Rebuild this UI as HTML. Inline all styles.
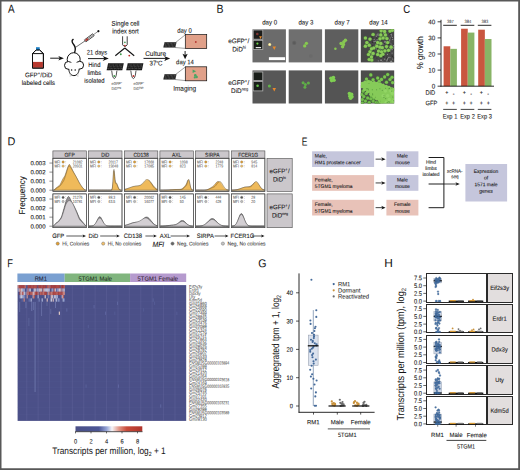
<!DOCTYPE html><html><head><meta charset="utf-8"><title>Figure</title><style>html,body{margin:0;padding:0;background:#fff;}body{width:520px;height:470px;overflow:hidden;font-family:"Liberation Sans", sans-serif;}</style></head><body><svg width="520" height="470" viewBox="0 0 520 470" font-family='"Liberation Sans", sans-serif' style="display:block" text-rendering="geometricPrecision"><rect width="520" height="470" fill="#fff"/><text transform="translate(7.98,12.8) rotate(0.04) scale(0.86,1)" font-size="11.5" text-anchor="start" fill="#111"  stroke="#111" stroke-width="0">A</text>
<path d="M32.5,68.1 V53.6 L36.2,49.9 H39.6 L43.4,53.6 V68.1 Z" fill="#fff" stroke="#111" stroke-width="1"/>
<rect x="33" y="61.9" width="9.9" height="5.8" fill="#b8392f" stroke="none" stroke-width="0.5" />
<rect x="36" y="47.2" width="3.7" height="2.9" fill="#1c7fc6" stroke="none" stroke-width="0.5" />
<path d="M32.5,68.1 V53.6 L36.2,49.9 H39.6 L43.4,53.6 V68.1 Z M32.5,53.6 H43.4" fill="none" stroke="#111" stroke-width="1"/>
<line x1="50.2" y1="58.2" x2="60.3" y2="58.2" stroke="#111" stroke-width="0.95" />
<path d="M63.9,58.2 L58.3,55.900000000000006 L59.8,58.2 L58.3,60.5 Z" fill="#111"/>
<text transform="translate(38.7,77.3) rotate(0.04) scale(0.93,1)" font-size="6.6" text-anchor="middle" fill="#151515"  stroke="#151515" stroke-width="0.09">GFP<tspan font-size="4.4" dy="-2.6">+</tspan><tspan dy="2.6" dx="0.3">/DiD</tspan></text>
<text transform="translate(38.4,84.9) rotate(0.04) scale(0.92,1)" font-size="6.6" text-anchor="middle" fill="#151515"  stroke="#151515" stroke-width="0.09">labeled cells</text>
<g stroke="#111" stroke-width="1" fill="#fff"><path d="M74.6,52.4 C75.8,49.4 75.4,47 74,45 C72.2,42.8 71.2,40.6 73.1,39.4" fill="none" stroke-width="1.4" stroke-linecap="round"/><ellipse cx="73.7" cy="59.4" rx="6.5" ry="6.7"/><circle cx="68.4" cy="65.4" r="3.9"/><circle cx="79.7" cy="65.2" r="3.9"/><path d="M70.6,62.6 L77.4,62.6 L79.6,66 L79,70.5 L77,75 L71.2,75 L69.2,70.5 L68.6,66 Z" stroke="none"/><path d="M68.8,68.9 C69,72.6 70.6,75.6 73.9,75.6 C77.2,75.6 78.9,72.6 79.2,68.7" fill="none"/></g>
<circle cx="71.6" cy="69.9" r="0.75" fill="#111"/><circle cx="75.2" cy="69.9" r="0.75" fill="#111"/>
<path d="M69.3,74.6 L71,75.8 M69.6,76.3 L71.2,76.1 M78.9,74.6 L77.2,75.8 M78.6,76.3 L77,76.1" stroke="#999" stroke-width="0.35" fill="none"/>
<line x1="75.8" y1="47.2" x2="85.2" y2="40.8" stroke="#111" stroke-width="0.6"/>
<g transform="translate(85.2,40.8) rotate(-36.3)"><rect x="0" y="-1.2" width="10.2" height="2.4" fill="#fff" stroke="#111" stroke-width="0.7"/><rect x="0.3" y="-0.85" width="3.2" height="1.7" fill="#b5372f"/><line x1="3.6" y1="0" x2="9.4" y2="0" stroke="#111" stroke-width="0.5"/><line x1="10.2" y1="0" x2="16" y2="0" stroke="#333" stroke-width="0.5"/><circle cx="16.4" cy="0" r="1.1" fill="#111"/></g>
<text transform="translate(97,54.5) rotate(0.04) scale(0.88,1)" font-size="6.6" text-anchor="middle" fill="#151515"  stroke="#151515" stroke-width="0.09">21 days</text>
<line x1="88" y1="58.6" x2="105.0" y2="58.6" stroke="#111" stroke-width="0.95" />
<path d="M108.8,58.6 L102.6,56.1 L104.5,58.6 L102.6,61.1 Z" fill="#111"/>
<text transform="translate(94.4,67.1) rotate(0.04) scale(0.9,1)" font-size="6.6" text-anchor="middle" fill="#151515"  stroke="#151515" stroke-width="0.09">Hind</text>
<text transform="translate(94.4,74.9) rotate(0.04) scale(0.9,1)" font-size="6.6" text-anchor="middle" fill="#151515"  stroke="#151515" stroke-width="0.09">limbs</text>
<text transform="translate(94.4,82.8) rotate(0.04) scale(0.9,1)" font-size="6.6" text-anchor="middle" fill="#151515"  stroke="#151515" stroke-width="0.09">isolated</text>
<text transform="translate(125.5,25.8) rotate(0.04) scale(0.9,1)" font-size="6.8" text-anchor="middle" fill="#151515"  stroke="#151515" stroke-width="0.09">Single cell</text>
<text transform="translate(125.5,33.6) rotate(0.04) scale(0.9,1)" font-size="6.8" text-anchor="middle" fill="#151515"  stroke="#151515" stroke-width="0.09">index sort</text>
<path d="M122.6,36.3 V44.8 Q124.9,48 127.2,44.8 V36.3" fill="#fff" stroke="#111" stroke-width="0.8"/>
<circle cx="124.9" cy="42.3" r="0.9" fill="#4aa05a"/><circle cx="124.9" cy="45.6" r="0.9" fill="#c0302a"/>
<line x1="124.8" y1="48" x2="115.3" y2="55.7" stroke="#111" stroke-width="1.1" />
<line x1="124.8" y1="48" x2="134.2" y2="55.7" stroke="#111" stroke-width="1.1" />
<circle cx="120.8" cy="54.2" r="0.95" fill="#3f9a4a"/><circle cx="129.3" cy="55.6" r="0.95" fill="#c0302a"/>
<path d="M108.1,63.3 H123.8 L122.3,70.3 H106.6 Z" fill="#151515"/>
<line x1="107.725" y1="65.05" x2="123.425" y2="65.05" stroke="#b5b5b5" stroke-width="0.45" stroke-dasharray="0.7,0.7"/>
<line x1="107.35" y1="66.8" x2="123.05" y2="66.8" stroke="#b5b5b5" stroke-width="0.45" stroke-dasharray="0.7,0.7"/>
<line x1="106.975" y1="68.55" x2="122.675" y2="68.55" stroke="#b5b5b5" stroke-width="0.45" stroke-dasharray="0.7,0.7"/>
<line x1="110.0625" y1="63.3" x2="108.5625" y2="70.3" stroke="#555" stroke-width="0.25"/>
<line x1="112.02499999999999" y1="63.3" x2="110.52499999999999" y2="70.3" stroke="#555" stroke-width="0.25"/>
<line x1="113.9875" y1="63.3" x2="112.4875" y2="70.3" stroke="#555" stroke-width="0.25"/>
<line x1="115.94999999999999" y1="63.3" x2="114.44999999999999" y2="70.3" stroke="#555" stroke-width="0.25"/>
<line x1="117.9125" y1="63.3" x2="116.4125" y2="70.3" stroke="#555" stroke-width="0.25"/>
<line x1="119.875" y1="63.3" x2="118.375" y2="70.3" stroke="#555" stroke-width="0.25"/>
<line x1="121.83749999999999" y1="63.3" x2="120.33749999999999" y2="70.3" stroke="#555" stroke-width="0.25"/>
<path d="M127.7,63.3 H143.4 L141.9,70.3 H126.2 Z" fill="#151515"/>
<line x1="127.325" y1="65.05" x2="143.025" y2="65.05" stroke="#b5b5b5" stroke-width="0.45" stroke-dasharray="0.7,0.7"/>
<line x1="126.95" y1="66.8" x2="142.65" y2="66.8" stroke="#b5b5b5" stroke-width="0.45" stroke-dasharray="0.7,0.7"/>
<line x1="126.575" y1="68.55" x2="142.275" y2="68.55" stroke="#b5b5b5" stroke-width="0.45" stroke-dasharray="0.7,0.7"/>
<line x1="129.6625" y1="63.3" x2="128.1625" y2="70.3" stroke="#555" stroke-width="0.25"/>
<line x1="131.625" y1="63.3" x2="130.125" y2="70.3" stroke="#555" stroke-width="0.25"/>
<line x1="133.5875" y1="63.3" x2="132.0875" y2="70.3" stroke="#555" stroke-width="0.25"/>
<line x1="135.55" y1="63.3" x2="134.05" y2="70.3" stroke="#555" stroke-width="0.25"/>
<line x1="137.5125" y1="63.3" x2="136.0125" y2="70.3" stroke="#555" stroke-width="0.25"/>
<line x1="139.475" y1="63.3" x2="137.975" y2="70.3" stroke="#555" stroke-width="0.25"/>
<line x1="141.4375" y1="63.3" x2="139.9375" y2="70.3" stroke="#555" stroke-width="0.25"/>
<path d="M111.7,70.6 L112.39999999999999,75.6 Q114.3,81.6 116.2,75.6 L116.89999999999999,70.6" fill="#fff" stroke="#333" stroke-width="0.85"/>
<circle cx="114.3" cy="76.0" r="0.95" fill="#3f9a4a"/>
<path d="M130.8,70.6 L131.5,75.6 Q133.4,81.6 135.3,75.6 L136.0,70.6" fill="#fff" stroke="#333" stroke-width="0.85"/>
<circle cx="133.4" cy="76.0" r="0.95" fill="#c0302a"/>
<text transform="translate(111.4,85) rotate(0.04) scale(0.85,1)" font-size="4.2" text-anchor="start" fill="#6a6a6a"  stroke="#6a6a6a" stroke-width="0.1">eGFP<tspan font-size="2.6" dy="-1.5">+</tspan></text>
<text transform="translate(111.4,90) rotate(0.04) scale(0.85,1)" font-size="4.2" text-anchor="start" fill="#6a6a6a"  stroke="#6a6a6a" stroke-width="0.1">DiD<tspan font-size="2.6" dy="-1.5">neg</tspan></text>
<text transform="translate(133.4,85) rotate(0.04) scale(0.85,1)" font-size="4.2" text-anchor="start" fill="#6a6a6a"  stroke="#6a6a6a" stroke-width="0.1">eGFP<tspan font-size="2.6" dy="-1.5">+</tspan></text>
<text transform="translate(133.4,90) rotate(0.04) scale(0.85,1)" font-size="4.2" text-anchor="start" fill="#6a6a6a"  stroke="#6a6a6a" stroke-width="0.1">DiD<tspan font-size="2.6" dy="-1.5">high</tspan></text>
<text transform="translate(155.6,55.9) rotate(0.04) scale(0.95,1)" font-size="6.8" text-anchor="middle" fill="#151515"  stroke="#151515" stroke-width="0.09">Culture</text>
<line x1="143.5" y1="58.4" x2="166.4" y2="58.4" stroke="#111" stroke-width="0.95" />
<path d="M170.2,58.4 L164.0,55.9 L165.9,58.4 L164.0,60.9 Z" fill="#111"/>
<text transform="translate(156,65.6) rotate(0.04) scale(0.9,1)" font-size="6.8" text-anchor="middle" fill="#151515"  stroke="#151515" stroke-width="0.09">37<tspan font-size="5" dy="-1.2">°</tspan><tspan dy="1.2">C</tspan></text>
<text transform="translate(184.5,32.8) rotate(0.04) scale(0.9,1)" font-size="6.6" text-anchor="middle" fill="#151515"  stroke="#151515" stroke-width="0.09">day 0</text>
<path d="M164.5,42.3 H176.5 L175.3,47.5 H163.3 Z" fill="#151515"/>
<line x1="164.20000000000002" y1="43.599999999999994" x2="176.20000000000002" y2="43.599999999999994" stroke="#b5b5b5" stroke-width="0.45" stroke-dasharray="0.7,0.7"/>
<line x1="163.9" y1="44.9" x2="175.9" y2="44.9" stroke="#b5b5b5" stroke-width="0.45" stroke-dasharray="0.7,0.7"/>
<line x1="163.60000000000002" y1="46.199999999999996" x2="175.60000000000002" y2="46.199999999999996" stroke="#b5b5b5" stroke-width="0.45" stroke-dasharray="0.7,0.7"/>
<line x1="166.0" y1="42.3" x2="164.8" y2="47.5" stroke="#555" stroke-width="0.25"/>
<line x1="167.5" y1="42.3" x2="166.3" y2="47.5" stroke="#555" stroke-width="0.25"/>
<line x1="169.0" y1="42.3" x2="167.8" y2="47.5" stroke="#555" stroke-width="0.25"/>
<line x1="170.5" y1="42.3" x2="169.3" y2="47.5" stroke="#555" stroke-width="0.25"/>
<line x1="172.0" y1="42.3" x2="170.8" y2="47.5" stroke="#555" stroke-width="0.25"/>
<line x1="173.5" y1="42.3" x2="172.3" y2="47.5" stroke="#555" stroke-width="0.25"/>
<line x1="175.0" y1="42.3" x2="173.8" y2="47.5" stroke="#555" stroke-width="0.25"/>
<path d="M164.5,74.3 H176.5 L175.3,79.5 H163.3 Z" fill="#151515"/>
<line x1="164.20000000000002" y1="75.6" x2="176.20000000000002" y2="75.6" stroke="#b5b5b5" stroke-width="0.45" stroke-dasharray="0.7,0.7"/>
<line x1="163.9" y1="76.89999999999999" x2="175.9" y2="76.89999999999999" stroke="#b5b5b5" stroke-width="0.45" stroke-dasharray="0.7,0.7"/>
<line x1="163.60000000000002" y1="78.2" x2="175.60000000000002" y2="78.2" stroke="#b5b5b5" stroke-width="0.45" stroke-dasharray="0.7,0.7"/>
<line x1="166.0" y1="74.3" x2="164.8" y2="79.5" stroke="#555" stroke-width="0.25"/>
<line x1="167.5" y1="74.3" x2="166.3" y2="79.5" stroke="#555" stroke-width="0.25"/>
<line x1="169.0" y1="74.3" x2="167.8" y2="79.5" stroke="#555" stroke-width="0.25"/>
<line x1="170.5" y1="74.3" x2="169.3" y2="79.5" stroke="#555" stroke-width="0.25"/>
<line x1="172.0" y1="74.3" x2="170.8" y2="79.5" stroke="#555" stroke-width="0.25"/>
<line x1="173.5" y1="74.3" x2="172.3" y2="79.5" stroke="#555" stroke-width="0.25"/>
<line x1="175.0" y1="74.3" x2="173.8" y2="79.5" stroke="#555" stroke-width="0.25"/>
<rect x="185.3" y="34.6" width="21.4" height="14" fill="#e0a089" stroke="#111" stroke-width="0.7" />
<rect x="185.3" y="66.8" width="21.4" height="14" fill="#e0a089" stroke="#111" stroke-width="0.7" />
<line x1="175.8" y1="42.3" x2="185.3" y2="34.8" stroke="#111" stroke-width="0.4" />
<line x1="175" y1="47.5" x2="185.3" y2="48.4" stroke="#111" stroke-width="0.4" />
<line x1="175.8" y1="74.3" x2="185.3" y2="67" stroke="#111" stroke-width="0.4" />
<line x1="175" y1="79.5" x2="185.3" y2="80.6" stroke="#111" stroke-width="0.4" />
<circle cx="195.8" cy="42" r="0.9" fill="#b5372f"/>
<path d="M185.1,51 V55.5" stroke="#111" stroke-width="0.9"/><path d="M185.1,59.2 L182.5,53.8 L185.1,55 L187.7,53.8 Z" fill="#111"/>
<text transform="translate(185,64.3) rotate(0.04) scale(0.9,1)" font-size="6.6" text-anchor="middle" fill="#151515"  stroke="#151515" stroke-width="0.09">day 14</text>
<g fill="#4aa564"><path d="M192.6,69.5 L196.2,71.2 L192.6,73 Z"/><circle cx="195.3" cy="75.2" r="1.3"/><circle cx="196.6" cy="77" r="1.3"/><circle cx="194.8" cy="77.4" r="1.1"/></g>
<text transform="translate(184.6,90.8) rotate(0.04) scale(0.93,1)" font-size="6.9" text-anchor="middle" fill="#151515"  stroke="#151515" stroke-width="0.09">Imaging</text>
<text transform="translate(216.48,12.7) rotate(0.04) scale(0.91,1)" font-size="11.5" text-anchor="start" fill="#111"  stroke="#111" stroke-width="0">B</text>
<text transform="translate(269.7,24.4) rotate(0.04) scale(0.93,1)" font-size="6.6" text-anchor="middle" fill="#151515"  stroke="#151515" stroke-width="0.09">day 0</text>
<text transform="translate(305.9,24.4) rotate(0.04) scale(0.93,1)" font-size="6.6" text-anchor="middle" fill="#151515"  stroke="#151515" stroke-width="0.09">day 3</text>
<text transform="translate(342.09999999999997,24.4) rotate(0.04) scale(0.93,1)" font-size="6.6" text-anchor="middle" fill="#151515"  stroke="#151515" stroke-width="0.09">day 7</text>
<text transform="translate(378.5,24.4) rotate(0.04) scale(0.93,1)" font-size="6.6" text-anchor="middle" fill="#151515"  stroke="#151515" stroke-width="0.09">day 14</text>
<text transform="translate(238.8,43.3) rotate(0.04) scale(0.95,1)" font-size="6.7" text-anchor="middle" fill="#151515"  stroke="#151515" stroke-width="0.09">eGFP<tspan font-size="4.4" dy="-2.6">+</tspan><tspan dy="2.6" dx="0.3">/</tspan></text>
<text transform="translate(239,51.4) rotate(0.04) scale(0.95,1)" font-size="6.7" text-anchor="middle" fill="#151515"  stroke="#151515" stroke-width="0.09">DiD<tspan font-size="4" dy="-2.6">hi</tspan></text>
<text transform="translate(238.8,85) rotate(0.04) scale(0.95,1)" font-size="6.7" text-anchor="middle" fill="#151515"  stroke="#151515" stroke-width="0.09">eGFP<tspan font-size="4.4" dy="-2.6">+</tspan><tspan dy="2.6" dx="0.3">/</tspan></text>
<text transform="translate(239.6,93) rotate(0.04) scale(0.95,1)" font-size="6.7" text-anchor="middle" fill="#151515"  stroke="#151515" stroke-width="0.09">DiD<tspan font-size="4" dy="-2.6">neg</tspan></text>
<rect x="252.5" y="29.3" width="33.4" height="33.1" fill="#6b6b6b" stroke="none" stroke-width="0.5" />
<rect x="288.7" y="29.3" width="33.4" height="33.1" fill="#6f6f6f" stroke="none" stroke-width="0.5" />
<rect x="324.9" y="29.3" width="33.4" height="33.1" fill="#5e5e5e" stroke="none" stroke-width="0.5" />
<rect x="360.8" y="29.3" width="33.4" height="33.1" fill="#484848" stroke="none" stroke-width="0.5" />
<rect x="252.5" y="70.4" width="33.4" height="33.1" fill="#575757" stroke="none" stroke-width="0.5" />
<rect x="288.7" y="70.4" width="33.4" height="33.1" fill="#585858" stroke="none" stroke-width="0.5" />
<rect x="324.9" y="70.4" width="33.4" height="33.1" fill="#545454" stroke="none" stroke-width="0.5" />
<rect x="360.8" y="70.4" width="33.4" height="33.1" fill="#4c4c4c" stroke="none" stroke-width="0.5" />
<defs><clipPath id="cb00"><rect x="252.5" y="29.3" width="33.4" height="33.1"/></clipPath><clipPath id="cb01"><rect x="288.7" y="29.3" width="33.4" height="33.1"/></clipPath><clipPath id="cb02"><rect x="324.9" y="29.3" width="33.4" height="33.1"/></clipPath><clipPath id="cb03"><rect x="360.8" y="29.3" width="33.4" height="33.1"/></clipPath><clipPath id="cb10"><rect x="252.5" y="70.4" width="33.4" height="33.1"/></clipPath><clipPath id="cb11"><rect x="288.7" y="70.4" width="33.4" height="33.1"/></clipPath><clipPath id="cb12"><rect x="324.9" y="70.4" width="33.4" height="33.1"/></clipPath><clipPath id="cb13"><rect x="360.8" y="70.4" width="33.4" height="33.1"/></clipPath></defs>
<rect x="253.2" y="30" width="9.6" height="9.2" fill="#1c1c1a" stroke="#b0b0b0" stroke-width="0.8" />
<rect x="253.2" y="40.3" width="9.6" height="9.2" fill="#1a1e1a" stroke="#b0b0b0" stroke-width="0.8" />
<circle cx="257.3" cy="34" r="1.3" fill="#7a3430"/>
<path d="M259.1,36.3 L262,36.3 L260.5,39 Z" fill="#e8892b"/>
<circle cx="257.4" cy="43.6" r="1.1" fill="#6fd04a"/>
<rect x="255.7" y="47.1" width="5.4" height="1.1" fill="#fff" stroke="none" stroke-width="0.5" />
<circle cx="269.7" cy="44.4" r="1.5" fill="#f1e08a"/><circle cx="269.7" cy="44.4" r="0.8" fill="#fff6c0"/>
<path d="M272.5,46.6 L276,46.6 L274.3,50 Z" fill="#e8892b"/>
<rect x="268.9" y="57.2" width="16.2" height="2.9" fill="#fff" stroke="none" stroke-width="0.5" />
<g fill="#86c94f" opacity="1"><circle cx="306.4" cy="43.3" r="1.65"/><circle cx="304.7" cy="45.9" r="1.65"/></g>
<circle cx="294.2" cy="42.9" r="2.1" fill="#636363"/><circle cx="294.2" cy="42.9" r="1.2" fill="#5b5b5b"/><circle cx="310.8" cy="56" r="1.8" fill="#6a6a6a"/>
<g fill="#88c752" opacity="1"><circle cx="345.4" cy="40.3" r="1.75"/><circle cx="341.1" cy="43.4" r="1.75"/><circle cx="343.4" cy="44.4" r="1.75"/><circle cx="343.8" cy="42.0" r="1.75"/><circle cx="342.6" cy="46.8" r="1.75"/></g>
<g fill="#88c752" opacity="1"><circle cx="335.4" cy="48.8" r="1.25"/></g>
<g clip-path="url(#cb03)">
<g fill="#8e8e8e"><circle cx="376.6" cy="48.8" r="0.6"/><circle cx="379.7" cy="50.5" r="0.6"/><circle cx="385.6" cy="34.9" r="0.6"/><circle cx="371.3" cy="57.3" r="0.6"/><circle cx="377.1" cy="39.8" r="0.6"/><circle cx="394.3" cy="46.6" r="0.6"/><circle cx="390.6" cy="46.8" r="0.6"/><circle cx="386.0" cy="37.4" r="0.6"/><circle cx="385.9" cy="58.2" r="0.6"/><circle cx="383.2" cy="54.5" r="0.6"/><circle cx="386.7" cy="34.9" r="0.6"/><circle cx="388.7" cy="50.1" r="0.6"/><circle cx="378.0" cy="33.9" r="0.6"/><circle cx="391.3" cy="46.7" r="0.6"/><circle cx="387.8" cy="58.5" r="0.6"/><circle cx="387.7" cy="59.7" r="0.6"/><circle cx="380.2" cy="56.2" r="0.6"/><circle cx="381.4" cy="60.1" r="0.6"/><circle cx="391.6" cy="35.8" r="0.6"/><circle cx="374.2" cy="39.3" r="0.6"/><circle cx="393.6" cy="45.6" r="0.6"/><circle cx="385.7" cy="41.7" r="0.6"/><circle cx="382.9" cy="44.2" r="0.6"/><circle cx="379.2" cy="50.0" r="0.6"/><circle cx="384.7" cy="59.2" r="0.6"/><circle cx="387.0" cy="59.9" r="0.6"/><circle cx="391.0" cy="61.7" r="0.6"/><circle cx="386.7" cy="37.7" r="0.6"/><circle cx="391.1" cy="61.0" r="0.6"/><circle cx="392.2" cy="49.5" r="0.6"/><circle cx="387.7" cy="39.1" r="0.6"/><circle cx="390.5" cy="49.6" r="0.6"/><circle cx="377.7" cy="34.8" r="0.6"/><circle cx="391.0" cy="61.7" r="0.6"/><circle cx="373.1" cy="56.2" r="0.6"/><circle cx="380.6" cy="37.4" r="0.6"/><circle cx="377.9" cy="55.3" r="0.6"/><circle cx="391.4" cy="34.3" r="0.6"/><circle cx="385.4" cy="34.3" r="0.6"/><circle cx="387.8" cy="42.6" r="0.6"/><circle cx="391.6" cy="61.4" r="0.6"/><circle cx="382.8" cy="62.0" r="0.6"/><circle cx="378.2" cy="35.2" r="0.6"/><circle cx="385.0" cy="33.9" r="0.6"/><circle cx="375.6" cy="44.8" r="0.6"/><circle cx="385.3" cy="37.5" r="0.6"/><circle cx="372.0" cy="58.2" r="0.6"/><circle cx="378.3" cy="60.8" r="0.6"/><circle cx="392.0" cy="44.0" r="0.6"/><circle cx="381.8" cy="48.1" r="0.6"/><circle cx="386.1" cy="50.3" r="0.6"/><circle cx="384.1" cy="51.0" r="0.6"/><circle cx="393.0" cy="47.7" r="0.6"/><circle cx="381.1" cy="53.9" r="0.6"/><circle cx="376.6" cy="41.7" r="0.6"/><circle cx="393.9" cy="48.1" r="0.6"/><circle cx="383.8" cy="33.3" r="0.6"/><circle cx="380.7" cy="49.8" r="0.6"/><circle cx="371.5" cy="50.9" r="0.6"/><circle cx="385.8" cy="34.7" r="0.6"/><circle cx="385.7" cy="46.5" r="0.6"/><circle cx="386.9" cy="43.2" r="0.6"/><circle cx="387.5" cy="54.4" r="0.6"/><circle cx="371.5" cy="34.8" r="0.6"/><circle cx="386.8" cy="60.9" r="0.6"/><circle cx="376.9" cy="46.2" r="0.6"/><circle cx="384.9" cy="42.3" r="0.6"/><circle cx="379.5" cy="42.1" r="0.6"/><circle cx="379.6" cy="50.3" r="0.6"/><circle cx="378.0" cy="43.9" r="0.6"/><circle cx="389.1" cy="33.8" r="0.6"/><circle cx="384.3" cy="54.3" r="0.6"/><circle cx="378.3" cy="39.5" r="0.6"/><circle cx="389.8" cy="39.9" r="0.6"/><circle cx="375.4" cy="45.6" r="0.6"/><circle cx="387.3" cy="36.0" r="0.6"/><circle cx="378.5" cy="42.7" r="0.6"/><circle cx="390.5" cy="45.7" r="0.6"/><circle cx="391.0" cy="37.9" r="0.6"/><circle cx="378.9" cy="51.9" r="0.6"/><circle cx="391.7" cy="46.1" r="0.6"/><circle cx="376.3" cy="36.5" r="0.6"/><circle cx="383.4" cy="38.5" r="0.6"/><circle cx="389.9" cy="57.3" r="0.6"/><circle cx="375.3" cy="41.1" r="0.6"/><circle cx="389.9" cy="51.6" r="0.6"/><circle cx="389.9" cy="43.0" r="0.6"/><circle cx="374.0" cy="41.5" r="0.6"/><circle cx="389.6" cy="40.9" r="0.6"/><circle cx="379.1" cy="45.1" r="0.6"/><circle cx="380.8" cy="44.9" r="0.6"/><circle cx="392.5" cy="37.5" r="0.6"/><circle cx="371.1" cy="60.4" r="0.6"/><circle cx="391.6" cy="61.6" r="0.6"/><circle cx="381.2" cy="60.6" r="0.6"/><circle cx="392.7" cy="39.4" r="0.6"/><circle cx="388.4" cy="57.3" r="0.6"/><circle cx="386.5" cy="48.1" r="0.6"/><circle cx="377.8" cy="42.9" r="0.6"/><circle cx="376.3" cy="35.0" r="0.6"/><circle cx="384.8" cy="41.3" r="0.6"/><circle cx="390.0" cy="34.3" r="0.6"/><circle cx="392.1" cy="53.1" r="0.6"/><circle cx="392.6" cy="59.0" r="0.6"/><circle cx="392.1" cy="49.7" r="0.6"/><circle cx="371.3" cy="54.6" r="0.6"/><circle cx="375.0" cy="41.7" r="0.6"/><circle cx="386.5" cy="48.2" r="0.6"/><circle cx="380.7" cy="60.2" r="0.6"/><circle cx="385.3" cy="42.9" r="0.6"/></g>
<g fill="#2e2e2e"><circle cx="376.9" cy="58.0" r="0.6"/><circle cx="382.2" cy="55.7" r="0.6"/><circle cx="379.2" cy="38.7" r="0.6"/><circle cx="383.5" cy="56.7" r="0.6"/><circle cx="375.0" cy="56.0" r="0.6"/><circle cx="392.6" cy="56.4" r="0.6"/><circle cx="390.3" cy="33.2" r="0.6"/><circle cx="385.7" cy="58.0" r="0.6"/><circle cx="372.2" cy="40.9" r="0.6"/><circle cx="377.3" cy="48.3" r="0.6"/><circle cx="380.9" cy="46.7" r="0.6"/><circle cx="389.2" cy="33.1" r="0.6"/><circle cx="372.3" cy="36.7" r="0.6"/><circle cx="373.9" cy="35.0" r="0.6"/><circle cx="393.8" cy="57.8" r="0.6"/><circle cx="373.0" cy="47.6" r="0.6"/><circle cx="378.4" cy="42.1" r="0.6"/><circle cx="379.2" cy="51.8" r="0.6"/><circle cx="384.7" cy="43.5" r="0.6"/><circle cx="375.5" cy="42.5" r="0.6"/><circle cx="373.9" cy="49.1" r="0.6"/><circle cx="387.8" cy="44.0" r="0.6"/><circle cx="372.9" cy="38.2" r="0.6"/><circle cx="379.7" cy="50.5" r="0.6"/><circle cx="389.3" cy="44.0" r="0.6"/><circle cx="389.7" cy="51.1" r="0.6"/><circle cx="381.1" cy="43.8" r="0.6"/><circle cx="382.6" cy="53.4" r="0.6"/><circle cx="380.8" cy="53.1" r="0.6"/><circle cx="381.8" cy="40.1" r="0.6"/><circle cx="383.5" cy="53.2" r="0.6"/><circle cx="372.7" cy="45.3" r="0.6"/><circle cx="381.0" cy="58.5" r="0.6"/><circle cx="392.9" cy="43.9" r="0.6"/><circle cx="392.0" cy="55.9" r="0.6"/><circle cx="377.1" cy="46.5" r="0.6"/><circle cx="373.9" cy="56.6" r="0.6"/><circle cx="386.5" cy="58.7" r="0.6"/><circle cx="389.5" cy="52.4" r="0.6"/><circle cx="388.2" cy="49.4" r="0.6"/><circle cx="373.4" cy="50.0" r="0.6"/><circle cx="371.1" cy="37.2" r="0.6"/><circle cx="389.1" cy="34.3" r="0.6"/><circle cx="373.1" cy="35.9" r="0.6"/><circle cx="391.6" cy="38.2" r="0.6"/><circle cx="371.5" cy="57.4" r="0.6"/><circle cx="373.8" cy="57.5" r="0.6"/><circle cx="386.8" cy="57.2" r="0.6"/><circle cx="393.3" cy="49.8" r="0.6"/><circle cx="389.7" cy="34.1" r="0.6"/><circle cx="389.0" cy="47.8" r="0.6"/><circle cx="387.7" cy="36.1" r="0.6"/><circle cx="388.5" cy="60.1" r="0.6"/><circle cx="372.4" cy="42.4" r="0.6"/><circle cx="384.2" cy="57.0" r="0.6"/><circle cx="376.7" cy="38.2" r="0.6"/><circle cx="376.8" cy="50.9" r="0.6"/><circle cx="388.6" cy="44.4" r="0.6"/><circle cx="379.6" cy="44.5" r="0.6"/><circle cx="379.2" cy="45.1" r="0.6"/></g>
<g fill="#4f8a3a" opacity="1"><circle cx="365.4" cy="38.0" r="1.95"/><circle cx="370.0" cy="39.1" r="1.95"/><circle cx="373.1" cy="34.5" r="1.95"/><circle cx="366.9" cy="42.6" r="1.95"/><circle cx="365.4" cy="46.2" r="1.95"/><circle cx="369.2" cy="45.2" r="1.95"/><circle cx="371.5" cy="48.8" r="1.95"/><circle cx="373.8" cy="48.0" r="1.95"/><circle cx="370.0" cy="51.8" r="1.95"/><circle cx="368.5" cy="54.5" r="1.95"/><circle cx="371.5" cy="56.9" r="1.95"/><circle cx="369.2" cy="59.5" r="1.95"/><circle cx="371.8" cy="60.0" r="1.95"/><circle cx="373.1" cy="53.4" r="1.95"/><circle cx="381.2" cy="30.8" r="1.95"/><circle cx="384.6" cy="31.4" r="1.95"/><circle cx="380.8" cy="34.9" r="1.95"/><circle cx="385.4" cy="34.9" r="1.95"/><circle cx="380.0" cy="38.8" r="1.95"/><circle cx="383.1" cy="38.0" r="1.95"/><circle cx="386.9" cy="38.5" r="1.95"/><circle cx="377.7" cy="42.6" r="1.95"/><circle cx="380.8" cy="43.4" r="1.95"/><circle cx="376.9" cy="46.2" r="1.95"/><circle cx="380.0" cy="47.2" r="1.95"/><circle cx="382.3" cy="47.7" r="1.95"/><circle cx="378.5" cy="51.1" r="1.95"/><circle cx="381.5" cy="51.8" r="1.95"/><circle cx="377.7" cy="54.5" r="1.95"/><circle cx="380.8" cy="55.7" r="1.95"/><circle cx="382.8" cy="54.2" r="1.95"/><circle cx="390.0" cy="31.1" r="1.95"/><circle cx="392.3" cy="30.3" r="1.95"/><circle cx="387.7" cy="42.6" r="1.95"/><circle cx="386.5" cy="46.5" r="1.95"/><circle cx="388.5" cy="50.3" r="1.95"/><circle cx="384.9" cy="50.8" r="1.95"/><circle cx="391.1" cy="47.2" r="1.95"/></g>
<g fill="#8bc95a" opacity="1"><circle cx="365.4" cy="38.0" r="1.6"/><circle cx="370.0" cy="39.1" r="1.6"/><circle cx="373.1" cy="34.5" r="1.6"/><circle cx="366.9" cy="42.6" r="1.6"/><circle cx="365.4" cy="46.2" r="1.6"/><circle cx="369.2" cy="45.2" r="1.6"/><circle cx="371.5" cy="48.8" r="1.6"/><circle cx="373.8" cy="48.0" r="1.6"/><circle cx="370.0" cy="51.8" r="1.6"/><circle cx="368.5" cy="54.5" r="1.6"/><circle cx="371.5" cy="56.9" r="1.6"/><circle cx="369.2" cy="59.5" r="1.6"/><circle cx="371.8" cy="60.0" r="1.6"/><circle cx="373.1" cy="53.4" r="1.6"/><circle cx="381.2" cy="30.8" r="1.6"/><circle cx="384.6" cy="31.4" r="1.6"/><circle cx="380.8" cy="34.9" r="1.6"/><circle cx="385.4" cy="34.9" r="1.6"/><circle cx="380.0" cy="38.8" r="1.6"/><circle cx="383.1" cy="38.0" r="1.6"/><circle cx="386.9" cy="38.5" r="1.6"/><circle cx="377.7" cy="42.6" r="1.6"/><circle cx="380.8" cy="43.4" r="1.6"/><circle cx="376.9" cy="46.2" r="1.6"/><circle cx="380.0" cy="47.2" r="1.6"/><circle cx="382.3" cy="47.7" r="1.6"/><circle cx="378.5" cy="51.1" r="1.6"/><circle cx="381.5" cy="51.8" r="1.6"/><circle cx="377.7" cy="54.5" r="1.6"/><circle cx="380.8" cy="55.7" r="1.6"/><circle cx="382.8" cy="54.2" r="1.6"/><circle cx="390.0" cy="31.1" r="1.6"/><circle cx="392.3" cy="30.3" r="1.6"/><circle cx="387.7" cy="42.6" r="1.6"/><circle cx="386.5" cy="46.5" r="1.6"/><circle cx="388.5" cy="50.3" r="1.6"/><circle cx="384.9" cy="50.8" r="1.6"/><circle cx="391.1" cy="47.2" r="1.6"/></g>
</g>
<rect x="253.2" y="72" width="9.6" height="8.5" fill="#1a1e1a" stroke="#b0b0b0" stroke-width="0.8" />
<rect x="253.2" y="81.6" width="9.6" height="9.3" fill="#1a1e1a" stroke="#b0b0b0" stroke-width="0.8" />
<circle cx="257.6" cy="85.7" r="1.3" fill="#62c048"/>
<circle cx="269.4" cy="86" r="1.55" fill="#62b24a"/>
<path d="M272.5,88 L276,88 L274.3,91.4 Z" fill="#e8892b"/>
<g fill="#5fae48" opacity="1"><circle cx="303.1" cy="82.7" r="1.5"/><circle cx="305.4" cy="84.6" r="1.5"/><circle cx="308.4" cy="83.0" r="1.5"/><circle cx="304.9" cy="87.2" r="1.5"/></g>
<g fill="#7fcf52" opacity="1"><circle cx="331.0" cy="78.2" r="1.8"/><circle cx="333.4" cy="77.6" r="1.8"/><circle cx="331.6" cy="80.6" r="1.8"/><circle cx="334.0" cy="80.2" r="1.8"/></g>
<g fill="#7fcf52" opacity="1"><circle cx="349.4" cy="93.6" r="1.8"/><circle cx="351.6" cy="94.4" r="1.8"/><circle cx="349.8" cy="96.2" r="1.8"/><circle cx="352.0" cy="96.8" r="1.8"/><circle cx="350.6" cy="98.2" r="1.8"/></g>
<g clip-path="url(#cb13)">
<path d="M361.1,83.1 L366.2,81.2 L372.3,81.8 L378.5,83.1 L384.6,85.2 L390.8,87.4 L394.3,88.9 L394.3,103.7 L382.3,103.7 L377.2,99.1 L371.5,94.5 L365.4,89.8 L361.1,87.4 Z" fill="#86cb59"/>
<g fill="#4a8436" opacity="1"><circle cx="363.1" cy="91.1" r="1.9"/><circle cx="366.2" cy="93.4" r="1.9"/><circle cx="363.8" cy="96.5" r="1.9"/><circle cx="367.7" cy="98.0" r="1.9"/><circle cx="370.8" cy="98.8" r="1.9"/><circle cx="365.4" cy="101.1" r="1.9"/><circle cx="369.2" cy="102.6" r="1.9"/><circle cx="373.1" cy="101.1" r="1.9"/><circle cx="376.2" cy="102.6" r="1.9"/><circle cx="373.8" cy="98.0" r="1.9"/><circle cx="362.3" cy="99.5" r="1.9"/><circle cx="366.9" cy="89.8" r="1.9"/><circle cx="361.8" cy="94.5" r="1.9"/><circle cx="371.5" cy="95.7" r="1.9"/><circle cx="379.2" cy="102.2" r="1.9"/><circle cx="362.3" cy="103.1" r="1.9"/></g>
<g fill="#74bd4e" opacity="1"><circle cx="363.1" cy="91.1" r="1.55"/><circle cx="366.2" cy="93.4" r="1.55"/><circle cx="363.8" cy="96.5" r="1.55"/><circle cx="367.7" cy="98.0" r="1.55"/><circle cx="370.8" cy="98.8" r="1.55"/><circle cx="365.4" cy="101.1" r="1.55"/><circle cx="369.2" cy="102.6" r="1.55"/><circle cx="373.1" cy="101.1" r="1.55"/><circle cx="376.2" cy="102.6" r="1.55"/><circle cx="373.8" cy="98.0" r="1.55"/><circle cx="362.3" cy="99.5" r="1.55"/><circle cx="366.9" cy="89.8" r="1.55"/><circle cx="361.8" cy="94.5" r="1.55"/><circle cx="371.5" cy="95.7" r="1.55"/><circle cx="379.2" cy="102.2" r="1.55"/><circle cx="362.3" cy="103.1" r="1.55"/></g>
<g fill="#4a8436" opacity="1"><circle cx="370.8" cy="74.9" r="1.9"/><circle cx="387.7" cy="74.5" r="1.9"/><circle cx="377.7" cy="78.0" r="1.9"/><circle cx="381.5" cy="79.4" r="1.9"/><circle cx="384.6" cy="76.9" r="1.9"/><circle cx="390.0" cy="79.5" r="1.9"/><circle cx="392.6" cy="82.6" r="1.9"/><circle cx="373.1" cy="79.7" r="1.9"/><circle cx="366.5" cy="79.1" r="1.9"/><circle cx="392.0" cy="77.2" r="1.9"/><circle cx="379.2" cy="81.2" r="1.9"/><circle cx="386.5" cy="82.2" r="1.9"/><circle cx="368.9" cy="81.5" r="1.9"/></g>
<g fill="#7cc452" opacity="1"><circle cx="370.8" cy="74.9" r="1.55"/><circle cx="387.7" cy="74.5" r="1.55"/><circle cx="377.7" cy="78.0" r="1.55"/><circle cx="381.5" cy="79.4" r="1.55"/><circle cx="384.6" cy="76.9" r="1.55"/><circle cx="390.0" cy="79.5" r="1.55"/><circle cx="392.6" cy="82.6" r="1.55"/><circle cx="373.1" cy="79.7" r="1.55"/><circle cx="366.5" cy="79.1" r="1.55"/><circle cx="392.0" cy="77.2" r="1.55"/><circle cx="379.2" cy="81.2" r="1.55"/><circle cx="386.5" cy="82.2" r="1.55"/><circle cx="368.9" cy="81.5" r="1.55"/></g>
<g fill="#93d566" opacity="1"><circle cx="392.3" cy="93.4" r="1.7"/><circle cx="389.2" cy="99.5" r="1.7"/><circle cx="393.1" cy="101.1" r="1.7"/><circle cx="387.7" cy="95.7" r="1.7"/><circle cx="385.4" cy="91.1" r="1.7"/><circle cx="390.8" cy="91.1" r="1.7"/><circle cx="383.1" cy="95.7" r="1.7"/><circle cx="386.2" cy="102.2" r="1.7"/></g>
<g fill="#86cb59" opacity="1"><circle cx="362.3" cy="83.4" r="1.7"/><circle cx="364.9" cy="82.2" r="1.7"/><circle cx="368.0" cy="81.8" r="1.7"/><circle cx="370.8" cy="82.2" r="1.7"/><circle cx="374.2" cy="82.6" r="1.7"/><circle cx="377.2" cy="83.4" r="1.7"/><circle cx="380.3" cy="84.3" r="1.7"/><circle cx="383.1" cy="85.2" r="1.7"/><circle cx="386.2" cy="86.5" r="1.7"/><circle cx="388.9" cy="87.4" r="1.7"/><circle cx="391.7" cy="88.6" r="1.7"/><circle cx="393.8" cy="89.5" r="1.7"/><circle cx="364.6" cy="89.5" r="1.7"/><circle cx="367.7" cy="91.8" r="1.7"/><circle cx="370.8" cy="94.2" r="1.7"/><circle cx="373.8" cy="96.6" r="1.7"/><circle cx="376.6" cy="98.8" r="1.7"/><circle cx="379.2" cy="101.1" r="1.7"/><circle cx="381.5" cy="103.1" r="1.7"/><circle cx="361.2" cy="86.5" r="1.7"/></g>
<g fill="#4c8a38" opacity="0.8"><circle cx="385.7" cy="98.6" r="0.55"/><circle cx="389.5" cy="102.0" r="0.55"/><circle cx="388.3" cy="101.7" r="0.55"/><circle cx="372.6" cy="93.9" r="0.55"/><circle cx="392.8" cy="97.0" r="0.55"/><circle cx="391.8" cy="87.9" r="0.55"/><circle cx="382.3" cy="90.2" r="0.55"/><circle cx="384.0" cy="95.8" r="0.55"/><circle cx="372.3" cy="89.7" r="0.55"/><circle cx="378.1" cy="101.6" r="0.55"/><circle cx="388.8" cy="88.7" r="0.55"/><circle cx="389.5" cy="88.4" r="0.55"/><circle cx="385.6" cy="88.2" r="0.55"/><circle cx="372.0" cy="100.8" r="0.55"/><circle cx="376.6" cy="89.7" r="0.55"/><circle cx="393.6" cy="100.8" r="0.55"/><circle cx="378.4" cy="102.3" r="0.55"/><circle cx="383.9" cy="97.5" r="0.55"/><circle cx="376.5" cy="102.0" r="0.55"/><circle cx="387.2" cy="102.4" r="0.55"/><circle cx="391.7" cy="91.1" r="0.55"/><circle cx="379.9" cy="88.8" r="0.55"/></g>
</g>
<text transform="translate(403.28,12.9) rotate(0.04) scale(0.83,1)" font-size="11.5" text-anchor="start" fill="#111"  stroke="#111" stroke-width="0">C</text>
<rect x="443.6" y="46.272" width="6.65" height="39.928000000000004" fill="#c9563f" stroke="none" stroke-width="0.5" />
<rect x="450.25" y="48.848" width="6.65" height="37.352000000000004" fill="#88b466" stroke="none" stroke-width="0.5" />
<rect x="461.1" y="28.722999999999992" width="6.65" height="57.47700000000001" fill="#c9563f" stroke="none" stroke-width="0.5" />
<rect x="467.75" y="32.587" width="6.65" height="53.613" fill="#88b466" stroke="none" stroke-width="0.5" />
<rect x="478.2" y="29.689" width="6.65" height="56.511" fill="#c9563f" stroke="none" stroke-width="0.5" />
<rect x="484.84999999999997" y="39.027" width="6.65" height="47.173" fill="#88b466" stroke="none" stroke-width="0.5" />
<line x1="441" y1="19.8" x2="441" y2="86.6" stroke="#111" stroke-width="0.9" />
<line x1="440.6" y1="86.2" x2="494" y2="86.2" stroke="#111" stroke-width="0.9" />
<line x1="437.6" y1="86.2" x2="441" y2="86.2" stroke="#111" stroke-width="0.8" />
<text transform="translate(435.2,88.60000000000001) rotate(0.04) scale(0.95,1)" font-size="6.6" text-anchor="end" fill="#151515"  stroke="#151515" stroke-width="0.09">0</text>
<line x1="437.6" y1="70.1" x2="441" y2="70.1" stroke="#111" stroke-width="0.8" />
<text transform="translate(435.2,72.5) rotate(0.04) scale(0.95,1)" font-size="6.6" text-anchor="end" fill="#151515"  stroke="#151515" stroke-width="0.09">10</text>
<line x1="437.6" y1="54.0" x2="441" y2="54.0" stroke="#111" stroke-width="0.8" />
<text transform="translate(435.2,56.4) rotate(0.04) scale(0.95,1)" font-size="6.6" text-anchor="end" fill="#151515"  stroke="#151515" stroke-width="0.09">20</text>
<line x1="437.6" y1="37.9" x2="441" y2="37.9" stroke="#111" stroke-width="0.8" />
<text transform="translate(435.2,40.3) rotate(0.04) scale(0.95,1)" font-size="6.6" text-anchor="end" fill="#151515"  stroke="#151515" stroke-width="0.09">30</text>
<line x1="437.6" y1="21.799999999999997" x2="441" y2="21.799999999999997" stroke="#111" stroke-width="0.8" />
<text transform="translate(435.2,24.199999999999996) rotate(0.04) scale(0.95,1)" font-size="6.6" text-anchor="end" fill="#151515"  stroke="#151515" stroke-width="0.09">40</text>
<text transform="translate(423.4,52.8) rotate(-90) scale(0.9,1)" font-size="8.8" text-anchor="middle" fill="#151515"  stroke="#151515" stroke-width="0.09">% growth</text>
<line x1="443.20000000000005" y1="25.3" x2="456.8" y2="25.3" stroke="#111" stroke-width="0.9" />
<text transform="translate(450.25,22.9) rotate(0.04) scale(0.9,1)" font-size="4.5" text-anchor="middle" fill="#444"  stroke="#444" stroke-width="0.05">397</text>
<line x1="443.20000000000005" y1="109.4" x2="456.8" y2="109.4" stroke="#111" stroke-width="0.8" />
<text transform="translate(446.8,94.6) rotate(0.04) scale(0.9,1)" font-size="6" text-anchor="middle" fill="#151515"  stroke="#151515" stroke-width="0.09">+</text>
<text transform="translate(453.6,95.4) rotate(0.04) scale(0.9,1)" font-size="6" text-anchor="middle" fill="#151515"  stroke="#151515" stroke-width="0.09">-</text>
<text transform="translate(446.8,105) rotate(0.04) scale(0.9,1)" font-size="6" text-anchor="middle" fill="#151515"  stroke="#151515" stroke-width="0.09">+</text>
<text transform="translate(453.6,105) rotate(0.04) scale(0.9,1)" font-size="6" text-anchor="middle" fill="#151515"  stroke="#151515" stroke-width="0.09">+</text>
<line x1="460.70000000000005" y1="25.3" x2="474.3" y2="25.3" stroke="#111" stroke-width="0.9" />
<text transform="translate(467.75,22.9) rotate(0.04) scale(0.9,1)" font-size="4.5" text-anchor="middle" fill="#444"  stroke="#444" stroke-width="0.05">384</text>
<line x1="460.70000000000005" y1="109.4" x2="474.3" y2="109.4" stroke="#111" stroke-width="0.8" />
<text transform="translate(464.3,94.6) rotate(0.04) scale(0.9,1)" font-size="6" text-anchor="middle" fill="#151515"  stroke="#151515" stroke-width="0.09">+</text>
<text transform="translate(471.1,95.4) rotate(0.04) scale(0.9,1)" font-size="6" text-anchor="middle" fill="#151515"  stroke="#151515" stroke-width="0.09">-</text>
<text transform="translate(464.3,105) rotate(0.04) scale(0.9,1)" font-size="6" text-anchor="middle" fill="#151515"  stroke="#151515" stroke-width="0.09">+</text>
<text transform="translate(471.1,105) rotate(0.04) scale(0.9,1)" font-size="6" text-anchor="middle" fill="#151515"  stroke="#151515" stroke-width="0.09">+</text>
<line x1="477.8" y1="25.3" x2="491.4" y2="25.3" stroke="#111" stroke-width="0.9" />
<text transform="translate(484.84999999999997,22.9) rotate(0.04) scale(0.9,1)" font-size="4.5" text-anchor="middle" fill="#444"  stroke="#444" stroke-width="0.05">383</text>
<line x1="477.8" y1="109.4" x2="491.4" y2="109.4" stroke="#111" stroke-width="0.8" />
<text transform="translate(481.4,94.6) rotate(0.04) scale(0.9,1)" font-size="6" text-anchor="middle" fill="#151515"  stroke="#151515" stroke-width="0.09">+</text>
<text transform="translate(488.2,95.4) rotate(0.04) scale(0.9,1)" font-size="6" text-anchor="middle" fill="#151515"  stroke="#151515" stroke-width="0.09">-</text>
<text transform="translate(481.4,105) rotate(0.04) scale(0.9,1)" font-size="6" text-anchor="middle" fill="#151515"  stroke="#151515" stroke-width="0.09">+</text>
<text transform="translate(488.2,105) rotate(0.04) scale(0.9,1)" font-size="6" text-anchor="middle" fill="#151515"  stroke="#151515" stroke-width="0.09">+</text>
<text transform="translate(425.5,94.8) rotate(0.04) scale(0.9,1)" font-size="6.4" text-anchor="start" fill="#151515"  stroke="#151515" stroke-width="0.09">DiD</text>
<text transform="translate(425.5,105.2) rotate(0.04) scale(0.9,1)" font-size="6.4" text-anchor="start" fill="#151515"  stroke="#151515" stroke-width="0.09">GFP</text>
<text transform="translate(450.0,118.6) rotate(0.04) scale(0.88,1)" font-size="6.5" text-anchor="middle" fill="#151515"  stroke="#151515" stroke-width="0.09">Exp 1</text>
<text transform="translate(467.5,118.6) rotate(0.04) scale(0.88,1)" font-size="6.5" text-anchor="middle" fill="#151515"  stroke="#151515" stroke-width="0.09">Exp 2</text>
<text transform="translate(484.59999999999997,118.6) rotate(0.04) scale(0.88,1)" font-size="6.5" text-anchor="middle" fill="#151515"  stroke="#151515" stroke-width="0.09">Exp 3</text>
<text transform="translate(7.45,145.2) rotate(0.04) scale(0.94,1)" font-size="11.5" text-anchor="start" fill="#111"  stroke="#111" stroke-width="0">D</text>
<rect x="52.9" y="150.9" width="33.4" height="7.2" fill="#cbc7cb" stroke="#4a4a4a" stroke-width="0.6" />
<text transform="translate(69.6,156.7) rotate(0.04) scale(0.88,1)" font-size="5.6" text-anchor="middle" fill="#222"  stroke="#222" stroke-width="0.09">GFP</text>
<rect x="52.9" y="158.5" width="33.4" height="32.900000000000006" fill="#fff" stroke="#4a4a4a" stroke-width="0.6" />
<rect x="52.9" y="193.9" width="33.4" height="33.79999999999998" fill="#fff" stroke="#4a4a4a" stroke-width="0.6" />
<rect x="88.6" y="150.9" width="33.4" height="7.2" fill="#cbc7cb" stroke="#4a4a4a" stroke-width="0.6" />
<text transform="translate(105.3,156.7) rotate(0.04) scale(0.88,1)" font-size="5.6" text-anchor="middle" fill="#222"  stroke="#222" stroke-width="0.09">DiD</text>
<rect x="88.6" y="158.5" width="33.4" height="32.900000000000006" fill="#fff" stroke="#4a4a4a" stroke-width="0.6" />
<rect x="88.6" y="193.9" width="33.4" height="33.79999999999998" fill="#fff" stroke="#4a4a4a" stroke-width="0.6" />
<rect x="124.4" y="150.9" width="33.4" height="7.2" fill="#cbc7cb" stroke="#4a4a4a" stroke-width="0.6" />
<text transform="translate(141.1,156.7) rotate(0.04) scale(0.88,1)" font-size="5.6" text-anchor="middle" fill="#222"  stroke="#222" stroke-width="0.09">CD138</text>
<rect x="124.4" y="158.5" width="33.4" height="32.900000000000006" fill="#fff" stroke="#4a4a4a" stroke-width="0.6" />
<rect x="124.4" y="193.9" width="33.4" height="33.79999999999998" fill="#fff" stroke="#4a4a4a" stroke-width="0.6" />
<rect x="159.9" y="150.9" width="33.4" height="7.2" fill="#cbc7cb" stroke="#4a4a4a" stroke-width="0.6" />
<text transform="translate(176.6,156.7) rotate(0.04) scale(0.88,1)" font-size="5.6" text-anchor="middle" fill="#222"  stroke="#222" stroke-width="0.09">AXL</text>
<rect x="159.9" y="158.5" width="33.4" height="32.900000000000006" fill="#fff" stroke="#4a4a4a" stroke-width="0.6" />
<rect x="159.9" y="193.9" width="33.4" height="33.79999999999998" fill="#fff" stroke="#4a4a4a" stroke-width="0.6" />
<rect x="195.6" y="150.9" width="33.4" height="7.2" fill="#cbc7cb" stroke="#4a4a4a" stroke-width="0.6" />
<text transform="translate(212.29999999999998,156.7) rotate(0.04) scale(0.88,1)" font-size="5.6" text-anchor="middle" fill="#222"  stroke="#222" stroke-width="0.09">SIRPA</text>
<rect x="195.6" y="158.5" width="33.4" height="32.900000000000006" fill="#fff" stroke="#4a4a4a" stroke-width="0.6" />
<rect x="195.6" y="193.9" width="33.4" height="33.79999999999998" fill="#fff" stroke="#4a4a4a" stroke-width="0.6" />
<rect x="231.5" y="150.9" width="33.4" height="7.2" fill="#cbc7cb" stroke="#4a4a4a" stroke-width="0.6" />
<text transform="translate(248.2,156.7) rotate(0.04) scale(0.88,1)" font-size="5.6" text-anchor="middle" fill="#222"  stroke="#222" stroke-width="0.09">FCER1G</text>
<rect x="231.5" y="158.5" width="33.4" height="32.900000000000006" fill="#fff" stroke="#4a4a4a" stroke-width="0.6" />
<rect x="231.5" y="193.9" width="33.4" height="33.79999999999998" fill="#fff" stroke="#4a4a4a" stroke-width="0.6" />
<rect x="267" y="158.5" width="25.2" height="32.900000000000006" fill="#cbc7cb" stroke="#4a4a4a" stroke-width="0.6" />
<rect x="267" y="193.9" width="25.2" height="33.79999999999998" fill="#cbc7cb" stroke="#4a4a4a" stroke-width="0.6" />
<text transform="translate(279.6,173.2) rotate(0.04) scale(0.93,1)" font-size="6.5" text-anchor="middle" fill="#151515"  stroke="#151515" stroke-width="0.09">eGFP<tspan font-size="4.2" dy="-2.5">+</tspan><tspan dy="2.5" dx="0.3">/</tspan></text>
<text transform="translate(279.4,181.4) rotate(0.04) scale(0.93,1)" font-size="6.5" text-anchor="middle" fill="#151515"  stroke="#151515" stroke-width="0.09">DiD<tspan font-size="3.9" dy="-2.5">hi</tspan></text>
<text transform="translate(279.6,209.2) rotate(0.04) scale(0.93,1)" font-size="6.5" text-anchor="middle" fill="#151515"  stroke="#151515" stroke-width="0.09">eGFP<tspan font-size="4.2" dy="-2.5">+</tspan><tspan dy="2.5" dx="0.3">/</tspan></text>
<text transform="translate(280,217.4) rotate(0.04) scale(0.93,1)" font-size="6.5" text-anchor="middle" fill="#151515"  stroke="#151515" stroke-width="0.09">DiD<tspan font-size="3.9" dy="-2.5">neg</tspan></text>
<line x1="49.4" y1="190.2" x2="52.9" y2="190.2" stroke="#333" stroke-width="0.55" />
<text transform="translate(45.5,192.39999999999998) rotate(0.04) scale(1.0,1)" font-size="6" text-anchor="end" fill="#151515"  stroke="#151515" stroke-width="0.09">0.000</text>
<line x1="49.4" y1="181.14999999999998" x2="52.9" y2="181.14999999999998" stroke="#333" stroke-width="0.55" />
<text transform="translate(45.5,183.34999999999997) rotate(0.04) scale(1.0,1)" font-size="6" text-anchor="end" fill="#151515"  stroke="#151515" stroke-width="0.09">0.001</text>
<line x1="49.4" y1="172.1" x2="52.9" y2="172.1" stroke="#333" stroke-width="0.55" />
<text transform="translate(45.5,174.29999999999998) rotate(0.04) scale(1.0,1)" font-size="6" text-anchor="end" fill="#151515"  stroke="#151515" stroke-width="0.09">0.002</text>
<line x1="49.4" y1="163.04999999999998" x2="52.9" y2="163.04999999999998" stroke="#333" stroke-width="0.55" />
<text transform="translate(45.5,165.24999999999997) rotate(0.04) scale(1.0,1)" font-size="6" text-anchor="end" fill="#151515"  stroke="#151515" stroke-width="0.09">0.003</text>
<line x1="49.4" y1="226.2" x2="52.9" y2="226.2" stroke="#333" stroke-width="0.55" />
<text transform="translate(45.5,228.39999999999998) rotate(0.04) scale(1.0,1)" font-size="6" text-anchor="end" fill="#151515"  stroke="#151515" stroke-width="0.09">0.000</text>
<line x1="49.4" y1="217.14999999999998" x2="52.9" y2="217.14999999999998" stroke="#333" stroke-width="0.55" />
<text transform="translate(45.5,219.34999999999997) rotate(0.04) scale(1.0,1)" font-size="6" text-anchor="end" fill="#151515"  stroke="#151515" stroke-width="0.09">0.001</text>
<line x1="49.4" y1="208.1" x2="52.9" y2="208.1" stroke="#333" stroke-width="0.55" />
<text transform="translate(45.5,210.29999999999998) rotate(0.04) scale(1.0,1)" font-size="6" text-anchor="end" fill="#151515"  stroke="#151515" stroke-width="0.09">0.002</text>
<line x1="49.4" y1="199.04999999999998" x2="52.9" y2="199.04999999999998" stroke="#333" stroke-width="0.55" />
<text transform="translate(45.5,201.24999999999997) rotate(0.04) scale(1.0,1)" font-size="6" text-anchor="end" fill="#151515"  stroke="#151515" stroke-width="0.09">0.003</text>
<text transform="translate(25.2,195.3) rotate(-90) scale(0.93,1)" font-size="8.7" text-anchor="middle" fill="#151515"  stroke="#151515" stroke-width="0.09">Frequency</text>
<defs><clipPath id="cd00"><rect x="52.9" y="158.5" width="33.4" height="32.900000000000006"/></clipPath><clipPath id="cd01"><rect x="88.6" y="158.5" width="33.4" height="32.900000000000006"/></clipPath><clipPath id="cd02"><rect x="124.4" y="158.5" width="33.4" height="32.900000000000006"/></clipPath><clipPath id="cd03"><rect x="159.9" y="158.5" width="33.4" height="32.900000000000006"/></clipPath><clipPath id="cd04"><rect x="195.6" y="158.5" width="33.4" height="32.900000000000006"/></clipPath><clipPath id="cd05"><rect x="231.5" y="158.5" width="33.4" height="32.900000000000006"/></clipPath><clipPath id="cd10"><rect x="52.9" y="193.9" width="33.4" height="33.79999999999998"/></clipPath><clipPath id="cd11"><rect x="88.6" y="193.9" width="33.4" height="33.79999999999998"/></clipPath><clipPath id="cd12"><rect x="124.4" y="193.9" width="33.4" height="33.79999999999998"/></clipPath><clipPath id="cd13"><rect x="159.9" y="193.9" width="33.4" height="33.79999999999998"/></clipPath><clipPath id="cd14"><rect x="195.6" y="193.9" width="33.4" height="33.79999999999998"/></clipPath><clipPath id="cd15"><rect x="231.5" y="193.9" width="33.4" height="33.79999999999998"/></clipPath></defs>
<path d="M53.30,190.20 L53.30,190.20 L53.71,190.08 L54.11,189.86 L54.52,189.50 L54.93,189.07 L55.34,188.61 L55.74,188.19 L56.15,187.82 L56.56,187.50 L56.97,187.20 L57.38,186.92 L57.78,186.64 L58.19,186.35 L58.60,186.07 L59.00,185.78 L59.41,185.43 L59.82,184.96 L60.23,184.30 L60.63,183.52 L61.04,182.68 L61.45,181.83 L61.86,180.98 L62.27,180.14 L62.67,179.32 L63.08,178.57 L63.49,177.90 L63.89,177.31 L64.30,176.71 L64.71,176.03 L65.12,175.15 L65.53,174.06 L65.93,172.81 L66.34,171.51 L66.75,170.25 L67.16,169.05 L67.56,167.94 L67.97,166.87 L68.38,165.84 L68.78,164.95 L69.19,164.46 L69.60,164.51 L70.01,165.03 L70.41,165.77 L70.82,166.57 L71.23,167.39 L71.64,168.21 L72.05,169.05 L72.45,169.89 L72.86,170.74 L73.27,171.56 L73.67,172.36 L74.08,173.12 L74.49,173.86 L74.90,174.60 L75.31,175.34 L75.71,176.07 L76.12,176.81 L76.53,177.55 L76.94,178.30 L77.34,179.07 L77.75,179.83 L78.16,180.60 L78.56,181.38 L78.97,182.15 L79.38,182.92 L79.79,183.67 L80.19,184.39 L80.60,185.04 L81.01,185.63 L81.42,186.18 L81.83,186.72 L82.23,187.27 L82.64,187.81 L83.05,188.33 L83.45,188.81 L83.86,189.21 L84.27,189.53 L84.68,189.80 L85.08,190.00 L85.49,190.13 L85.90,190.20 L85.90,190.20 Z" fill="#e9a93a" stroke="#4a3f30" stroke-width="0.45" stroke-linejoin="round" opacity="0.9" clip-path="url(#cd00)"/>
<path d="M53.30,190.20 L53.30,190.20 L53.71,190.17 L54.11,190.09 L54.52,189.92 L54.93,189.66 L55.34,189.36 L55.74,189.04 L56.15,188.72 L56.56,188.41 L56.97,188.11 L57.38,187.83 L57.78,187.54 L58.19,187.26 L58.60,186.98 L59.00,186.69 L59.41,186.41 L59.82,186.11 L60.23,185.76 L60.63,185.32 L61.04,184.78 L61.45,184.19 L61.86,183.58 L62.27,182.96 L62.67,182.34 L63.08,181.72 L63.49,181.05 L63.89,180.27 L64.30,179.29 L64.71,178.14 L65.12,176.88 L65.53,175.59 L65.93,174.29 L66.34,172.97 L66.75,171.62 L67.16,170.26 L67.56,168.89 L67.97,167.61 L68.38,166.59 L68.78,166.02 L69.19,165.93 L69.60,166.16 L70.01,166.56 L70.41,167.07 L70.82,167.69 L71.23,168.37 L71.64,169.07 L72.05,169.78 L72.45,170.48 L72.86,171.18 L73.27,171.87 L73.67,172.55 L74.08,173.23 L74.49,173.91 L74.90,174.59 L75.31,175.27 L75.71,175.96 L76.12,176.68 L76.53,177.43 L76.94,178.21 L77.34,179.00 L77.75,179.79 L78.16,180.58 L78.56,181.37 L78.97,182.15 L79.38,182.88 L79.79,183.56 L80.19,184.20 L80.60,184.83 L81.01,185.45 L81.42,186.07 L81.83,186.69 L82.23,187.29 L82.64,187.84 L83.05,188.31 L83.45,188.74 L83.86,189.15 L84.27,189.53 L84.68,189.85 L85.08,190.07 L85.49,190.17 L85.90,190.20 L85.90,190.20 Z" fill="#f0bd5e" stroke="#4a3f30" stroke-width="0.45" stroke-linejoin="round" opacity="0.8" clip-path="url(#cd00)"/>
<path d="M89.00,190.20 L89.00,190.20 L89.54,190.20 L90.09,190.20 L90.63,190.20 L91.17,190.20 L91.72,190.20 L92.26,190.20 L92.80,190.20 L93.35,190.20 L93.89,190.20 L94.43,190.20 L94.98,190.20 L95.52,190.20 L96.06,190.20 L96.61,190.20 L97.15,190.20 L97.69,190.20 L98.24,190.20 L98.78,190.20 L99.32,190.20 L99.87,190.20 L100.41,190.20 L100.95,190.20 L101.50,190.20 L102.04,190.20 L102.58,190.20 L103.13,190.20 L103.67,190.20 L104.21,190.20 L104.76,190.20 L105.30,190.20 L105.84,190.20 L106.39,190.20 L106.93,190.20 L107.47,190.20 L108.02,190.20 L108.56,190.20 L109.10,190.20 L109.65,190.20 L110.19,190.19 L110.73,190.16 L111.28,190.09 L111.82,189.75 L112.36,188.19 L112.91,183.30 L113.45,175.28 L113.99,170.71 L114.54,174.01 L115.08,179.56 L115.62,182.18 L116.17,182.85 L116.71,183.51 L117.25,184.67 L117.80,186.10 L118.34,187.48 L118.88,188.59 L119.43,189.34 L119.97,189.79 L120.51,190.03 L121.06,190.13 L121.60,190.18 L121.60,190.20 Z" fill="#e9a93a" stroke="#4a3f30" stroke-width="0.45" stroke-linejoin="round" opacity="0.9" clip-path="url(#cd01)"/>
<path d="M89.00,190.20 L89.00,190.20 L89.54,190.20 L90.09,190.20 L90.63,190.20 L91.17,190.20 L91.72,190.20 L92.26,190.20 L92.80,190.20 L93.35,190.20 L93.89,190.20 L94.43,190.20 L94.98,190.20 L95.52,190.20 L96.06,190.20 L96.61,190.20 L97.15,190.20 L97.69,190.20 L98.24,190.20 L98.78,190.20 L99.32,190.20 L99.87,190.20 L100.41,190.20 L100.95,190.20 L101.50,190.20 L102.04,190.20 L102.58,190.20 L103.13,190.20 L103.67,190.20 L104.21,190.20 L104.76,190.20 L105.30,190.20 L105.84,190.20 L106.39,190.20 L106.93,190.20 L107.47,190.20 L108.02,190.20 L108.56,190.20 L109.10,190.20 L109.65,190.20 L110.19,190.20 L110.73,190.19 L111.28,190.15 L111.82,189.88 L112.36,188.05 L112.91,181.53 L113.45,171.63 L113.99,169.27 L114.54,176.38 L115.08,182.13 L115.62,183.35 L116.17,183.41 L116.71,184.05 L117.25,185.33 L117.80,186.84 L118.34,188.18 L118.88,189.14 L119.43,189.71 L119.97,190.01 L120.51,190.13 L121.06,190.18 L121.60,190.19 L121.60,190.20 Z" fill="#f0bd5e" stroke="#4a3f30" stroke-width="0.45" stroke-linejoin="round" opacity="0.8" clip-path="url(#cd01)"/>
<path d="M124.80,190.20 L124.80,189.38 L125.34,189.25 L125.89,189.11 L126.43,188.97 L126.97,188.81 L127.52,188.64 L128.06,188.46 L128.60,188.28 L129.15,188.09 L129.69,187.89 L130.23,187.70 L130.78,187.51 L131.32,187.33 L131.86,187.15 L132.41,186.99 L132.95,186.83 L133.49,186.69 L134.04,186.57 L134.58,186.47 L135.12,186.38 L135.67,186.30 L136.21,186.24 L136.75,186.19 L137.30,186.13 L137.84,186.08 L138.38,186.01 L138.93,185.92 L139.47,185.80 L140.01,185.64 L140.56,185.43 L141.10,185.17 L141.64,184.85 L142.19,184.47 L142.73,184.05 L143.27,183.57 L143.82,183.07 L144.36,182.55 L144.90,182.04 L145.45,181.56 L145.99,181.14 L146.53,180.80 L147.08,180.56 L147.62,180.43 L148.16,180.44 L148.71,180.59 L149.25,180.87 L149.79,181.28 L150.34,181.80 L150.88,182.41 L151.42,183.09 L151.97,183.81 L152.51,184.54 L153.05,185.28 L153.60,185.98 L154.14,186.64 L154.68,187.25 L155.23,187.79 L155.77,188.27 L156.31,188.67 L156.86,189.01 L157.40,189.29 L157.40,190.20 Z" fill="#e9a93a" stroke="#4a3f30" stroke-width="0.45" stroke-linejoin="round" opacity="0.9" clip-path="url(#cd02)"/>
<path d="M124.80,190.20 L124.80,189.32 L125.34,189.18 L125.89,189.04 L126.43,188.88 L126.97,188.71 L127.52,188.53 L128.06,188.34 L128.60,188.14 L129.15,187.94 L129.69,187.73 L130.23,187.52 L130.78,187.32 L131.32,187.12 L131.86,186.94 L132.41,186.76 L132.95,186.60 L133.49,186.45 L134.04,186.32 L134.58,186.21 L135.12,186.12 L135.67,186.05 L136.21,185.99 L136.75,185.93 L137.30,185.88 L137.84,185.82 L138.38,185.73 L138.93,185.62 L139.47,185.47 L140.01,185.26 L140.56,184.99 L141.10,184.64 L141.64,184.22 L142.19,183.73 L142.73,183.17 L143.27,182.57 L143.82,181.93 L144.36,181.30 L144.90,180.70 L145.45,180.18 L145.99,179.75 L146.53,179.46 L147.08,179.33 L147.62,179.36 L148.16,179.58 L148.71,179.97 L149.25,180.52 L149.79,181.20 L150.34,181.99 L150.88,182.84 L151.42,183.73 L151.97,184.61 L152.51,185.46 L153.05,186.26 L153.60,186.98 L154.14,187.62 L154.68,188.18 L155.23,188.64 L155.77,189.02 L156.31,189.32 L156.86,189.56 L157.40,189.74 L157.40,190.20 Z" fill="#f0bd5e" stroke="#4a3f30" stroke-width="0.45" stroke-linejoin="round" opacity="0.8" clip-path="url(#cd02)"/>
<path d="M160.30,190.20 L160.30,190.18 L160.84,190.18 L161.39,190.17 L161.93,190.17 L162.47,190.16 L163.02,190.15 L163.56,190.14 L164.10,190.13 L164.65,190.12 L165.19,190.10 L165.73,190.08 L166.28,190.07 L166.82,190.04 L167.36,190.02 L167.91,189.99 L168.45,189.96 L168.99,189.93 L169.54,189.90 L170.08,189.87 L170.62,189.83 L171.17,189.80 L171.71,189.76 L172.25,189.72 L172.80,189.69 L173.34,189.65 L173.88,189.62 L174.43,189.59 L174.97,189.56 L175.51,189.54 L176.06,189.51 L176.60,189.50 L177.14,189.48 L177.69,189.47 L178.23,189.46 L178.77,189.45 L179.32,189.43 L179.86,189.40 L180.40,189.33 L180.95,189.20 L181.49,189.01 L182.03,188.73 L182.58,188.34 L183.12,187.87 L183.66,187.33 L184.21,186.76 L184.75,186.18 L185.29,185.57 L185.84,184.82 L186.38,183.78 L186.92,182.41 L187.47,180.95 L188.01,179.97 L188.55,180.07 L189.10,181.42 L189.64,183.61 L190.18,185.93 L190.73,187.80 L191.27,189.00 L191.81,189.64 L192.36,189.94 L192.90,190.07 L192.90,190.20 Z" fill="#e9a93a" stroke="#4a3f30" stroke-width="0.45" stroke-linejoin="round" opacity="0.9" clip-path="url(#cd03)"/>
<path d="M160.30,190.20 L160.30,190.18 L160.84,190.18 L161.39,190.17 L161.93,190.17 L162.47,190.16 L163.02,190.15 L163.56,190.14 L164.10,190.13 L164.65,190.12 L165.19,190.10 L165.73,190.08 L166.28,190.07 L166.82,190.04 L167.36,190.02 L167.91,189.99 L168.45,189.96 L168.99,189.93 L169.54,189.90 L170.08,189.87 L170.62,189.83 L171.17,189.80 L171.71,189.76 L172.25,189.72 L172.80,189.69 L173.34,189.65 L173.88,189.62 L174.43,189.59 L174.97,189.56 L175.51,189.54 L176.06,189.52 L176.60,189.50 L177.14,189.49 L177.69,189.48 L178.23,189.48 L178.77,189.48 L179.32,189.48 L179.86,189.48 L180.40,189.48 L180.95,189.46 L181.49,189.40 L182.03,189.28 L182.58,189.07 L183.12,188.75 L183.66,188.31 L184.21,187.77 L184.75,187.19 L185.29,186.62 L185.84,186.06 L186.38,185.34 L186.92,184.16 L187.47,182.38 L188.01,180.39 L188.55,179.24 L189.10,179.84 L189.64,182.13 L190.18,185.06 L190.73,187.52 L191.27,189.03 L191.81,189.75 L192.36,190.02 L192.90,190.11 L192.90,190.20 Z" fill="#f0bd5e" stroke="#4a3f30" stroke-width="0.45" stroke-linejoin="round" opacity="0.8" clip-path="url(#cd03)"/>
<path d="M196.00,190.20 L196.00,190.20 L196.54,190.20 L197.09,190.20 L197.63,190.20 L198.17,190.20 L198.72,190.20 L199.26,190.20 L199.80,190.20 L200.35,190.20 L200.89,190.20 L201.43,190.20 L201.98,190.20 L202.52,190.19 L203.06,190.19 L203.61,190.18 L204.15,190.16 L204.69,190.13 L205.24,190.08 L205.78,190.00 L206.32,189.90 L206.87,189.76 L207.41,189.58 L207.95,189.35 L208.50,189.09 L209.04,188.80 L209.58,188.48 L210.13,188.16 L210.67,187.84 L211.21,187.51 L211.76,187.17 L212.30,186.81 L212.84,186.41 L213.39,185.94 L213.93,185.41 L214.47,184.80 L215.02,184.15 L215.56,183.47 L216.10,182.83 L216.65,182.26 L217.19,181.84 L217.73,181.59 L218.28,181.56 L218.82,181.74 L219.36,182.15 L219.91,182.73 L220.45,183.47 L220.99,184.29 L221.54,185.16 L222.08,186.01 L222.62,186.82 L223.17,187.55 L223.71,188.17 L224.25,188.69 L224.80,189.11 L225.34,189.44 L225.88,189.68 L226.43,189.85 L226.97,189.98 L227.51,190.06 L228.06,190.11 L228.60,190.15 L228.60,190.20 Z" fill="#e9a93a" stroke="#4a3f30" stroke-width="0.45" stroke-linejoin="round" opacity="0.9" clip-path="url(#cd04)"/>
<path d="M196.00,190.20 L196.00,190.20 L196.54,190.20 L197.09,190.20 L197.63,190.20 L198.17,190.20 L198.72,190.20 L199.26,190.20 L199.80,190.20 L200.35,190.20 L200.89,190.20 L201.43,190.20 L201.98,190.20 L202.52,190.19 L203.06,190.19 L203.61,190.18 L204.15,190.16 L204.69,190.13 L205.24,190.09 L205.78,190.03 L206.32,189.95 L206.87,189.84 L207.41,189.70 L207.95,189.53 L208.50,189.33 L209.04,189.11 L209.58,188.87 L210.13,188.62 L210.67,188.38 L211.21,188.16 L211.76,187.95 L212.30,187.75 L212.84,187.55 L213.39,187.33 L213.93,187.07 L214.47,186.73 L215.02,186.29 L215.56,185.76 L216.10,185.12 L216.65,184.41 L217.19,183.67 L217.73,182.96 L218.28,182.33 L218.82,181.85 L219.36,181.58 L219.91,181.54 L220.45,181.75 L220.99,182.19 L221.54,182.84 L222.08,183.64 L222.62,184.53 L223.17,185.44 L223.71,186.33 L224.25,187.14 L224.80,187.86 L225.34,188.47 L225.88,188.95 L226.43,189.33 L226.97,189.61 L227.51,189.81 L228.06,189.95 L228.60,190.05 L228.60,190.20 Z" fill="#f0bd5e" stroke="#4a3f30" stroke-width="0.45" stroke-linejoin="round" opacity="0.8" clip-path="url(#cd04)"/>
<path d="M231.90,190.20 L231.90,190.14 L232.44,190.12 L232.99,190.09 L233.53,190.06 L234.07,190.02 L234.62,189.97 L235.16,189.91 L235.70,189.84 L236.25,189.75 L236.79,189.65 L237.33,189.54 L237.88,189.41 L238.42,189.27 L238.96,189.11 L239.51,188.93 L240.05,188.75 L240.59,188.56 L241.14,188.36 L241.68,188.16 L242.22,187.96 L242.77,187.77 L243.31,187.59 L243.85,187.43 L244.40,187.28 L244.94,187.16 L245.48,187.06 L246.03,186.98 L246.57,186.92 L247.11,186.88 L247.66,186.83 L248.20,186.78 L248.74,186.70 L249.29,186.58 L249.83,186.40 L250.37,186.16 L250.92,185.84 L251.46,185.44 L252.00,184.97 L252.55,184.46 L253.09,183.92 L253.63,183.40 L254.18,182.94 L254.72,182.58 L255.26,182.36 L255.81,182.32 L256.35,182.45 L256.89,182.77 L257.44,183.25 L257.98,183.86 L258.52,184.57 L259.07,185.34 L259.61,186.11 L260.15,186.85 L260.70,187.53 L261.24,188.13 L261.78,188.63 L262.33,189.05 L262.87,189.38 L263.41,189.63 L263.96,189.81 L264.50,189.94 L264.50,190.20 Z" fill="#e9a93a" stroke="#4a3f30" stroke-width="0.45" stroke-linejoin="round" opacity="0.9" clip-path="url(#cd05)"/>
<path d="M231.90,190.20 L231.90,190.14 L232.44,190.12 L232.99,190.09 L233.53,190.06 L234.07,190.02 L234.62,189.97 L235.16,189.91 L235.70,189.84 L236.25,189.75 L236.79,189.65 L237.33,189.54 L237.88,189.41 L238.42,189.27 L238.96,189.11 L239.51,188.93 L240.05,188.75 L240.59,188.56 L241.14,188.36 L241.68,188.16 L242.22,187.96 L242.77,187.77 L243.31,187.59 L243.85,187.43 L244.40,187.29 L244.94,187.18 L245.48,187.09 L246.03,187.03 L246.57,187.00 L247.11,186.99 L247.66,187.00 L248.20,187.01 L248.74,187.01 L249.29,186.99 L249.83,186.90 L250.37,186.75 L250.92,186.50 L251.46,186.13 L252.00,185.64 L252.55,185.04 L253.09,184.36 L253.63,183.63 L254.18,182.92 L254.72,182.29 L255.26,181.81 L255.81,181.53 L256.35,181.51 L256.89,181.75 L257.44,182.23 L257.98,182.93 L258.52,183.78 L259.07,184.71 L259.61,185.67 L260.15,186.58 L260.70,187.40 L261.24,188.11 L261.78,188.69 L262.33,189.14 L262.87,189.49 L263.41,189.73 L263.96,189.91 L264.50,190.02 L264.50,190.20 Z" fill="#f0bd5e" stroke="#4a3f30" stroke-width="0.45" stroke-linejoin="round" opacity="0.8" clip-path="url(#cd05)"/>
<path d="M53.30,226.20 L53.30,226.20 L53.71,225.91 L54.11,225.49 L54.52,224.96 L54.93,224.39 L55.34,223.85 L55.74,223.37 L56.15,222.97 L56.56,222.66 L56.97,222.40 L57.38,222.15 L57.78,221.88 L58.19,221.52 L58.60,221.07 L59.00,220.54 L59.41,219.98 L59.82,219.41 L60.23,218.85 L60.63,218.27 L61.04,217.61 L61.45,216.75 L61.86,215.63 L62.27,214.31 L62.67,212.91 L63.08,211.49 L63.49,210.08 L63.89,208.65 L64.30,207.22 L64.71,205.77 L65.12,204.32 L65.53,202.87 L65.93,201.49 L66.34,200.24 L66.75,199.18 L67.16,198.27 L67.56,197.46 L67.97,196.81 L68.38,196.48 L68.78,196.53 L69.19,196.90 L69.60,197.48 L70.01,198.25 L70.41,199.13 L70.82,200.06 L71.23,200.97 L71.64,201.81 L72.05,202.59 L72.45,203.32 L72.86,204.03 L73.27,204.74 L73.67,205.46 L74.08,206.21 L74.49,207.00 L74.90,207.82 L75.31,208.67 L75.71,209.51 L76.12,210.37 L76.53,211.25 L76.94,212.16 L77.34,213.12 L77.75,214.10 L78.16,215.09 L78.56,216.07 L78.97,217.00 L79.38,217.82 L79.79,218.49 L80.19,219.04 L80.60,219.54 L81.01,220.03 L81.42,220.53 L81.83,221.02 L82.23,221.51 L82.64,222.00 L83.05,222.48 L83.45,222.97 L83.86,223.46 L84.27,223.98 L84.68,224.51 L85.08,225.07 L85.49,225.63 L85.90,226.20 L85.90,226.20 Z" fill="#8d8a8d" stroke="#2a2a2a" stroke-width="0.5" stroke-linejoin="round" opacity="0.95" clip-path="url(#cd10)"/>
<path d="M53.30,226.20 L53.30,226.20 L53.71,225.93 L54.11,225.56 L54.52,225.10 L54.93,224.62 L55.34,224.16 L55.74,223.75 L56.15,223.40 L56.56,223.11 L56.97,222.86 L57.38,222.61 L57.78,222.34 L58.19,222.00 L58.60,221.59 L59.00,221.11 L59.41,220.60 L59.82,220.09 L60.23,219.58 L60.63,219.06 L61.04,218.47 L61.45,217.72 L61.86,216.74 L62.27,215.59 L62.67,214.37 L63.08,213.12 L63.49,211.84 L63.89,210.51 L64.30,209.15 L64.71,207.78 L65.12,206.46 L65.53,205.27 L65.93,204.28 L66.34,203.49 L66.75,202.80 L67.16,202.16 L67.56,201.58 L67.97,201.13 L68.38,200.85 L68.78,200.71 L69.19,200.62 L69.60,200.57 L70.01,200.61 L70.41,200.80 L70.82,201.15 L71.23,201.60 L71.64,202.09 L72.05,202.59 L72.45,203.14 L72.86,203.78 L73.27,204.57 L73.67,205.47 L74.08,206.40 L74.49,207.35 L74.90,208.29 L75.31,209.23 L75.71,210.17 L76.12,211.12 L76.53,212.09 L76.94,213.09 L77.34,214.12 L77.75,215.17 L78.16,216.23 L78.56,217.28 L78.97,218.27 L79.38,219.11 L79.79,219.76 L80.19,220.25 L80.60,220.69 L81.01,221.11 L81.42,221.53 L81.83,221.95 L82.23,222.36 L82.64,222.77 L83.05,223.18 L83.45,223.58 L83.86,223.99 L84.27,224.40 L84.68,224.82 L85.08,225.25 L85.49,225.71 L85.90,226.20 L85.90,226.20 Z" fill="#d9d5d9" stroke="#3a3a3a" stroke-width="0.45" stroke-linejoin="round" opacity="0.92" clip-path="url(#cd10)"/>
<path d="M89.00,226.20 L89.00,226.20 L89.54,226.20 L90.09,226.19 L90.63,226.18 L91.17,226.16 L91.72,226.12 L92.26,226.05 L92.80,225.93 L93.35,225.74 L93.89,225.44 L94.43,225.02 L94.98,224.43 L95.52,223.66 L96.06,222.72 L96.61,221.62 L97.15,220.44 L97.69,219.25 L98.24,218.18 L98.78,217.34 L99.32,216.83 L99.87,216.71 L100.41,216.99 L100.95,217.64 L101.50,218.59 L102.04,219.72 L102.58,220.92 L103.13,222.07 L103.67,223.11 L104.21,223.99 L104.76,224.69 L105.30,225.21 L105.84,225.58 L106.39,225.82 L106.93,225.98 L107.47,226.08 L108.02,226.14 L108.56,226.17 L109.10,226.18 L109.65,226.19 L110.19,226.20 L110.73,226.20 L111.28,226.20 L111.82,226.20 L112.36,226.20 L112.91,226.20 L113.45,226.20 L113.99,226.20 L114.54,226.20 L115.08,226.20 L115.62,226.20 L116.17,226.20 L116.71,226.20 L117.25,226.20 L117.80,226.20 L118.34,226.20 L118.88,226.20 L119.43,226.20 L119.97,226.20 L120.51,226.20 L121.06,226.20 L121.60,226.20 L121.60,226.20 Z" fill="#8d8a8d" stroke="#2a2a2a" stroke-width="0.5" stroke-linejoin="round" opacity="0.95" clip-path="url(#cd11)"/>
<path d="M89.00,226.20 L89.00,226.19 L89.54,226.18 L90.09,226.16 L90.63,226.14 L91.17,226.09 L91.72,226.01 L92.26,225.89 L92.80,225.71 L93.35,225.45 L93.89,225.10 L94.43,224.63 L94.98,224.04 L95.52,223.33 L96.06,222.51 L96.61,221.63 L97.15,220.71 L97.69,219.84 L98.24,219.08 L98.78,218.50 L99.32,218.14 L99.87,218.06 L100.41,218.25 L100.95,218.70 L101.50,219.37 L102.04,220.18 L102.58,221.08 L103.13,221.99 L103.67,222.85 L104.21,223.63 L104.76,224.29 L105.30,224.83 L105.84,225.25 L106.39,225.57 L106.93,225.79 L107.47,225.94 L108.02,226.04 L108.56,226.11 L109.10,226.15 L109.65,226.17 L110.19,226.19 L110.73,226.19 L111.28,226.20 L111.82,226.20 L112.36,226.20 L112.91,226.20 L113.45,226.20 L113.99,226.20 L114.54,226.20 L115.08,226.20 L115.62,226.20 L116.17,226.20 L116.71,226.20 L117.25,226.20 L117.80,226.20 L118.34,226.20 L118.88,226.20 L119.43,226.20 L119.97,226.20 L120.51,226.20 L121.06,226.20 L121.60,226.20 L121.60,226.20 Z" fill="#d9d5d9" stroke="#3a3a3a" stroke-width="0.45" stroke-linejoin="round" opacity="0.92" clip-path="url(#cd11)"/>
<path d="M124.80,226.20 L124.80,225.45 L125.34,225.32 L125.89,225.18 L126.43,225.02 L126.97,224.86 L127.52,224.67 L128.06,224.48 L128.60,224.29 L129.15,224.08 L129.69,223.88 L130.23,223.68 L130.78,223.48 L131.32,223.29 L131.86,223.11 L132.41,222.95 L132.95,222.81 L133.49,222.68 L134.04,222.57 L134.58,222.48 L135.12,222.41 L135.67,222.34 L136.21,222.29 L136.75,222.23 L137.30,222.16 L137.84,222.08 L138.38,221.96 L138.93,221.81 L139.47,221.61 L140.01,221.37 L140.56,221.06 L141.10,220.71 L141.64,220.30 L142.19,219.86 L142.73,219.39 L143.27,218.91 L143.82,218.44 L144.36,218.01 L144.90,217.63 L145.45,217.34 L145.99,217.15 L146.53,217.08 L147.08,217.13 L147.62,217.31 L148.16,217.62 L148.71,218.04 L149.25,218.55 L149.79,219.15 L150.34,219.80 L150.88,220.48 L151.42,221.17 L151.97,221.85 L152.51,222.50 L153.05,223.10 L153.60,223.64 L154.14,224.13 L154.68,224.55 L155.23,224.90 L155.77,225.20 L156.31,225.44 L156.86,225.63 L157.40,225.78 L157.40,226.20 Z" fill="#8d8a8d" stroke="#2a2a2a" stroke-width="0.5" stroke-linejoin="round" opacity="0.95" clip-path="url(#cd12)"/>
<path d="M124.80,226.20 L124.80,225.49 L125.34,225.37 L125.89,225.23 L126.43,225.08 L126.97,224.92 L127.52,224.75 L128.06,224.57 L128.60,224.38 L129.15,224.18 L129.69,223.99 L130.23,223.79 L130.78,223.60 L131.32,223.41 L131.86,223.23 L132.41,223.06 L132.95,222.91 L133.49,222.76 L134.04,222.63 L134.58,222.50 L135.12,222.38 L135.67,222.26 L136.21,222.15 L136.75,222.02 L137.30,221.88 L137.84,221.71 L138.38,221.52 L138.93,221.31 L139.47,221.05 L140.01,220.77 L140.56,220.45 L141.10,220.11 L141.64,219.75 L142.19,219.39 L142.73,219.03 L143.27,218.70 L143.82,218.40 L144.36,218.16 L144.90,217.98 L145.45,217.89 L145.99,217.89 L146.53,217.98 L147.08,218.17 L147.62,218.44 L148.16,218.81 L148.71,219.25 L149.25,219.75 L149.79,220.29 L150.34,220.86 L150.88,221.44 L151.42,222.01 L151.97,222.57 L152.51,223.09 L153.05,223.58 L153.60,224.02 L154.14,224.41 L154.68,224.75 L155.23,225.05 L155.77,225.29 L156.31,225.50 L156.86,225.66 L157.40,225.79 L157.40,226.20 Z" fill="#d9d5d9" stroke="#3a3a3a" stroke-width="0.45" stroke-linejoin="round" opacity="0.92" clip-path="url(#cd12)"/>
<path d="M160.30,226.20 L160.30,226.17 L160.84,226.16 L161.39,226.15 L161.93,226.13 L162.47,226.11 L163.02,226.08 L163.56,226.05 L164.10,226.02 L164.65,225.98 L165.19,225.93 L165.73,225.88 L166.28,225.82 L166.82,225.75 L167.36,225.69 L167.91,225.61 L168.45,225.54 L168.99,225.47 L169.54,225.40 L170.08,225.33 L170.62,225.26 L171.17,225.20 L171.71,225.15 L172.25,225.10 L172.80,225.05 L173.34,225.00 L173.88,224.95 L174.43,224.87 L174.97,224.77 L175.51,224.64 L176.06,224.46 L176.60,224.22 L177.14,223.92 L177.69,223.55 L178.23,223.13 L178.77,222.66 L179.32,222.17 L179.86,221.68 L180.40,221.23 L180.95,220.84 L181.49,220.57 L182.03,220.42 L182.58,220.41 L183.12,220.55 L183.66,220.84 L184.21,221.24 L184.75,221.74 L185.29,222.29 L185.84,222.87 L186.38,223.44 L186.92,223.97 L187.47,224.45 L188.01,224.87 L188.55,225.21 L189.10,225.48 L189.64,225.70 L190.18,225.86 L190.73,225.97 L191.27,226.05 L191.81,226.11 L192.36,226.14 L192.90,226.17 L192.90,226.20 Z" fill="#8d8a8d" stroke="#2a2a2a" stroke-width="0.5" stroke-linejoin="round" opacity="0.95" clip-path="url(#cd13)"/>
<path d="M160.30,226.20 L160.30,226.17 L160.84,226.17 L161.39,226.15 L161.93,226.14 L162.47,226.12 L163.02,226.10 L163.56,226.08 L164.10,226.05 L164.65,226.01 L165.19,225.97 L165.73,225.93 L166.28,225.88 L166.82,225.83 L167.36,225.77 L167.91,225.71 L168.45,225.65 L168.99,225.59 L169.54,225.52 L170.08,225.46 L170.62,225.40 L171.17,225.35 L171.71,225.29 L172.25,225.24 L172.80,225.18 L173.34,225.11 L173.88,225.03 L174.43,224.94 L174.97,224.82 L175.51,224.66 L176.06,224.47 L176.60,224.24 L177.14,223.97 L177.69,223.66 L178.23,223.31 L178.77,222.94 L179.32,222.57 L179.86,222.22 L180.40,221.89 L180.95,221.63 L181.49,221.44 L182.03,221.34 L182.58,221.34 L183.12,221.45 L183.66,221.65 L184.21,221.94 L184.75,222.30 L185.29,222.70 L185.84,223.14 L186.38,223.58 L186.92,224.01 L187.47,224.40 L188.01,224.76 L188.55,225.08 L189.10,225.34 L189.64,225.56 L190.18,225.73 L190.73,225.87 L191.27,225.97 L191.81,226.04 L192.36,226.09 L192.90,226.13 L192.90,226.20 Z" fill="#d9d5d9" stroke="#3a3a3a" stroke-width="0.45" stroke-linejoin="round" opacity="0.92" clip-path="url(#cd13)"/>
<path d="M196.00,226.20 L196.00,226.20 L196.54,226.19 L197.09,226.19 L197.63,226.18 L198.17,226.17 L198.72,226.15 L199.26,226.13 L199.80,226.10 L200.35,226.06 L200.89,225.99 L201.43,225.91 L201.98,225.80 L202.52,225.66 L203.06,225.48 L203.61,225.26 L204.15,224.99 L204.69,224.66 L205.24,224.28 L205.78,223.84 L206.32,223.35 L206.87,222.82 L207.41,222.25 L207.95,221.65 L208.50,221.06 L209.04,220.48 L209.58,219.94 L210.13,219.46 L210.67,219.06 L211.21,218.76 L211.76,218.57 L212.30,218.51 L212.84,218.57 L213.39,218.76 L213.93,219.06 L214.47,219.46 L215.02,219.94 L215.56,220.48 L216.10,221.06 L216.65,221.65 L217.19,222.25 L217.73,222.82 L218.28,223.35 L218.82,223.84 L219.36,224.28 L219.91,224.66 L220.45,224.99 L220.99,225.26 L221.54,225.48 L222.08,225.66 L222.62,225.80 L223.17,225.91 L223.71,225.99 L224.25,226.06 L224.80,226.10 L225.34,226.13 L225.88,226.15 L226.43,226.17 L226.97,226.18 L227.51,226.19 L228.06,226.19 L228.60,226.20 L228.60,226.20 Z" fill="#8d8a8d" stroke="#2a2a2a" stroke-width="0.5" stroke-linejoin="round" opacity="0.95" clip-path="url(#cd14)"/>
<path d="M196.00,226.20 L196.00,226.19 L196.54,226.18 L197.09,226.17 L197.63,226.16 L198.17,226.14 L198.72,226.12 L199.26,226.09 L199.80,226.04 L200.35,225.98 L200.89,225.90 L201.43,225.80 L201.98,225.67 L202.52,225.52 L203.06,225.32 L203.61,225.09 L204.15,224.82 L204.69,224.51 L205.24,224.15 L205.78,223.75 L206.32,223.32 L206.87,222.86 L207.41,222.38 L207.95,221.89 L208.50,221.40 L209.04,220.94 L209.58,220.51 L210.13,220.14 L210.67,219.83 L211.21,219.60 L211.76,219.46 L212.30,219.41 L212.84,219.46 L213.39,219.60 L213.93,219.83 L214.47,220.14 L215.02,220.51 L215.56,220.94 L216.10,221.40 L216.65,221.89 L217.19,222.38 L217.73,222.86 L218.28,223.32 L218.82,223.75 L219.36,224.15 L219.91,224.51 L220.45,224.82 L220.99,225.09 L221.54,225.32 L222.08,225.52 L222.62,225.67 L223.17,225.80 L223.71,225.90 L224.25,225.98 L224.80,226.04 L225.34,226.09 L225.88,226.12 L226.43,226.14 L226.97,226.16 L227.51,226.17 L228.06,226.18 L228.60,226.19 L228.60,226.20 Z" fill="#d9d5d9" stroke="#3a3a3a" stroke-width="0.45" stroke-linejoin="round" opacity="0.92" clip-path="url(#cd14)"/>
<path d="M231.90,226.20 L231.90,226.16 L232.44,226.13 L232.99,226.07 L233.53,225.96 L234.07,225.80 L234.62,225.54 L235.16,225.16 L235.70,224.62 L236.25,223.88 L236.79,222.94 L237.33,221.78 L237.88,220.43 L238.42,218.97 L238.96,217.47 L239.51,216.05 L240.05,214.86 L240.59,214.00 L241.14,213.57 L241.68,213.62 L242.22,214.14 L242.77,215.07 L243.31,216.32 L243.85,217.76 L244.40,219.27 L244.94,220.72 L245.48,222.03 L246.03,223.14 L246.57,224.05 L247.11,224.74 L247.66,225.25 L248.20,225.60 L248.74,225.84 L249.29,225.99 L249.83,226.08 L250.37,226.14 L250.92,226.17 L251.46,226.18 L252.00,226.19 L252.55,226.20 L253.09,226.20 L253.63,226.20 L254.18,226.20 L254.72,226.20 L255.26,226.20 L255.81,226.20 L256.35,226.20 L256.89,226.20 L257.44,226.20 L257.98,226.20 L258.52,226.20 L259.07,226.20 L259.61,226.20 L260.15,226.20 L260.70,226.20 L261.24,226.20 L261.78,226.20 L262.33,226.20 L262.87,226.20 L263.41,226.20 L263.96,226.20 L264.50,226.20 L264.50,226.20 Z" fill="#8d8a8d" stroke="#2a2a2a" stroke-width="0.5" stroke-linejoin="round" opacity="0.95" clip-path="url(#cd15)"/>
<path d="M231.90,226.20 L231.90,226.13 L232.44,226.08 L232.99,226.00 L233.53,225.86 L234.07,225.66 L234.62,225.36 L235.16,224.93 L235.70,224.36 L236.25,223.61 L236.79,222.69 L237.33,221.60 L237.88,220.37 L238.42,219.06 L238.96,217.76 L239.51,216.55 L240.05,215.54 L240.59,214.82 L241.14,214.47 L241.68,214.51 L242.22,214.94 L242.77,215.72 L243.31,216.78 L243.85,218.01 L244.40,219.33 L244.94,220.63 L245.48,221.83 L246.03,222.89 L246.57,223.78 L247.11,224.49 L247.66,225.03 L248.20,225.43 L248.74,225.71 L249.29,225.90 L249.83,226.02 L250.37,226.10 L250.92,226.14 L251.46,226.17 L252.00,226.18 L252.55,226.19 L253.09,226.20 L253.63,226.20 L254.18,226.20 L254.72,226.20 L255.26,226.20 L255.81,226.20 L256.35,226.20 L256.89,226.20 L257.44,226.20 L257.98,226.20 L258.52,226.20 L259.07,226.20 L259.61,226.20 L260.15,226.20 L260.70,226.20 L261.24,226.20 L261.78,226.20 L262.33,226.20 L262.87,226.20 L263.41,226.20 L263.96,226.20 L264.50,226.20 L264.50,226.20 Z" fill="#d9d5d9" stroke="#3a3a3a" stroke-width="0.45" stroke-linejoin="round" opacity="0.92" clip-path="url(#cd15)"/>
<text transform="translate(54.4,163.4) rotate(0.04) scale(0.82,1)" font-size="4.2" text-anchor="start" fill="#4a4a4a"  stroke="#4a4a4a" stroke-width="0.05">MFI</text>
<circle cx="63.099999999999994" cy="162.0" r="1.2" fill="#e5a030" stroke="#6a6a6a" stroke-width="0.3"/>
<text transform="translate(65.1,163.20000000000002) rotate(0.04) scale(0.9,1)" font-size="4.2" text-anchor="start" fill="#4a4a4a"  stroke="#4a4a4a" stroke-width="0.05">:</text>
<text transform="translate(72.7,163.4) rotate(0.04) scale(0.85,1)" font-size="4.2" text-anchor="start" fill="#5a5a5a"  stroke="#5a5a5a" stroke-width="0.05">21082</text>
<text transform="translate(54.4,167.5) rotate(0.04) scale(0.82,1)" font-size="4.2" text-anchor="start" fill="#4a4a4a"  stroke="#4a4a4a" stroke-width="0.05">MFI</text>
<circle cx="63.099999999999994" cy="166.1" r="1.2" fill="#f3c069" stroke="#6a6a6a" stroke-width="0.3"/>
<text transform="translate(65.1,167.3) rotate(0.04) scale(0.9,1)" font-size="4.2" text-anchor="start" fill="#4a4a4a"  stroke="#4a4a4a" stroke-width="0.05">:</text>
<text transform="translate(72.7,167.5) rotate(0.04) scale(0.85,1)" font-size="4.2" text-anchor="start" fill="#5a5a5a"  stroke="#5a5a5a" stroke-width="0.05">20931</text>
<text transform="translate(90.1,163.4) rotate(0.04) scale(0.82,1)" font-size="4.2" text-anchor="start" fill="#4a4a4a"  stroke="#4a4a4a" stroke-width="0.05">MFI</text>
<circle cx="98.8" cy="162.0" r="1.2" fill="#e5a030" stroke="#6a6a6a" stroke-width="0.3"/>
<text transform="translate(100.8,163.20000000000002) rotate(0.04) scale(0.9,1)" font-size="4.2" text-anchor="start" fill="#4a4a4a"  stroke="#4a4a4a" stroke-width="0.05">:</text>
<text transform="translate(108.39999999999999,163.4) rotate(0.04) scale(0.85,1)" font-size="4.2" text-anchor="start" fill="#5a5a5a"  stroke="#5a5a5a" stroke-width="0.05">20117</text>
<text transform="translate(90.1,167.5) rotate(0.04) scale(0.82,1)" font-size="4.2" text-anchor="start" fill="#4a4a4a"  stroke="#4a4a4a" stroke-width="0.05">MFI</text>
<circle cx="98.8" cy="166.1" r="1.2" fill="#f3c069" stroke="#6a6a6a" stroke-width="0.3"/>
<text transform="translate(100.8,167.3) rotate(0.04) scale(0.9,1)" font-size="4.2" text-anchor="start" fill="#4a4a4a"  stroke="#4a4a4a" stroke-width="0.05">:</text>
<text transform="translate(108.39999999999999,167.5) rotate(0.04) scale(0.85,1)" font-size="4.2" text-anchor="start" fill="#5a5a5a"  stroke="#5a5a5a" stroke-width="0.05">19048</text>
<text transform="translate(125.9,163.4) rotate(0.04) scale(0.82,1)" font-size="4.2" text-anchor="start" fill="#4a4a4a"  stroke="#4a4a4a" stroke-width="0.05">MFI</text>
<circle cx="134.6" cy="162.0" r="1.2" fill="#e5a030" stroke="#6a6a6a" stroke-width="0.3"/>
<text transform="translate(136.6,163.20000000000002) rotate(0.04) scale(0.9,1)" font-size="4.2" text-anchor="start" fill="#4a4a4a"  stroke="#4a4a4a" stroke-width="0.05">:</text>
<text transform="translate(144.20000000000002,163.4) rotate(0.04) scale(0.85,1)" font-size="4.2" text-anchor="start" fill="#5a5a5a"  stroke="#5a5a5a" stroke-width="0.05">17668</text>
<text transform="translate(125.9,167.5) rotate(0.04) scale(0.82,1)" font-size="4.2" text-anchor="start" fill="#4a4a4a"  stroke="#4a4a4a" stroke-width="0.05">MFI</text>
<circle cx="134.6" cy="166.1" r="1.2" fill="#f3c069" stroke="#6a6a6a" stroke-width="0.3"/>
<text transform="translate(136.6,167.3) rotate(0.04) scale(0.9,1)" font-size="4.2" text-anchor="start" fill="#4a4a4a"  stroke="#4a4a4a" stroke-width="0.05">:</text>
<text transform="translate(144.20000000000002,167.5) rotate(0.04) scale(0.85,1)" font-size="4.2" text-anchor="start" fill="#5a5a5a"  stroke="#5a5a5a" stroke-width="0.05">17085</text>
<text transform="translate(161.4,163.4) rotate(0.04) scale(0.82,1)" font-size="4.2" text-anchor="start" fill="#4a4a4a"  stroke="#4a4a4a" stroke-width="0.05">MFI</text>
<circle cx="170.1" cy="162.0" r="1.2" fill="#e5a030" stroke="#6a6a6a" stroke-width="0.3"/>
<text transform="translate(172.1,163.20000000000002) rotate(0.04) scale(0.9,1)" font-size="4.2" text-anchor="start" fill="#4a4a4a"  stroke="#4a4a4a" stroke-width="0.05">:</text>
<text transform="translate(179.70000000000002,163.4) rotate(0.04) scale(0.85,1)" font-size="4.2" text-anchor="start" fill="#5a5a5a"  stroke="#5a5a5a" stroke-width="0.05">1098</text>
<text transform="translate(161.4,167.5) rotate(0.04) scale(0.82,1)" font-size="4.2" text-anchor="start" fill="#4a4a4a"  stroke="#4a4a4a" stroke-width="0.05">MFI</text>
<circle cx="170.1" cy="166.1" r="1.2" fill="#f3c069" stroke="#6a6a6a" stroke-width="0.3"/>
<text transform="translate(172.1,167.3) rotate(0.04) scale(0.9,1)" font-size="4.2" text-anchor="start" fill="#4a4a4a"  stroke="#4a4a4a" stroke-width="0.05">:</text>
<text transform="translate(179.70000000000002,167.5) rotate(0.04) scale(0.85,1)" font-size="4.2" text-anchor="start" fill="#5a5a5a"  stroke="#5a5a5a" stroke-width="0.05">823</text>
<text transform="translate(197.1,163.4) rotate(0.04) scale(0.82,1)" font-size="4.2" text-anchor="start" fill="#4a4a4a"  stroke="#4a4a4a" stroke-width="0.05">MFI</text>
<circle cx="205.79999999999998" cy="162.0" r="1.2" fill="#e5a030" stroke="#6a6a6a" stroke-width="0.3"/>
<text transform="translate(207.79999999999998,163.20000000000002) rotate(0.04) scale(0.9,1)" font-size="4.2" text-anchor="start" fill="#4a4a4a"  stroke="#4a4a4a" stroke-width="0.05">:</text>
<text transform="translate(215.4,163.4) rotate(0.04) scale(0.85,1)" font-size="4.2" text-anchor="start" fill="#5a5a5a"  stroke="#5a5a5a" stroke-width="0.05">2248</text>
<text transform="translate(197.1,167.5) rotate(0.04) scale(0.82,1)" font-size="4.2" text-anchor="start" fill="#4a4a4a"  stroke="#4a4a4a" stroke-width="0.05">MFI</text>
<circle cx="205.79999999999998" cy="166.1" r="1.2" fill="#f3c069" stroke="#6a6a6a" stroke-width="0.3"/>
<text transform="translate(207.79999999999998,167.3) rotate(0.04) scale(0.9,1)" font-size="4.2" text-anchor="start" fill="#4a4a4a"  stroke="#4a4a4a" stroke-width="0.05">:</text>
<text transform="translate(215.4,167.5) rotate(0.04) scale(0.85,1)" font-size="4.2" text-anchor="start" fill="#5a5a5a"  stroke="#5a5a5a" stroke-width="0.05">1779</text>
<text transform="translate(233.0,163.4) rotate(0.04) scale(0.82,1)" font-size="4.2" text-anchor="start" fill="#4a4a4a"  stroke="#4a4a4a" stroke-width="0.05">MFI</text>
<circle cx="241.7" cy="162.0" r="1.2" fill="#e5a030" stroke="#6a6a6a" stroke-width="0.3"/>
<text transform="translate(243.7,163.20000000000002) rotate(0.04) scale(0.9,1)" font-size="4.2" text-anchor="start" fill="#4a4a4a"  stroke="#4a4a4a" stroke-width="0.05">:</text>
<text transform="translate(251.3,163.4) rotate(0.04) scale(0.85,1)" font-size="4.2" text-anchor="start" fill="#5a5a5a"  stroke="#5a5a5a" stroke-width="0.05">945</text>
<text transform="translate(233.0,167.5) rotate(0.04) scale(0.82,1)" font-size="4.2" text-anchor="start" fill="#4a4a4a"  stroke="#4a4a4a" stroke-width="0.05">MFI</text>
<circle cx="241.7" cy="166.1" r="1.2" fill="#f3c069" stroke="#6a6a6a" stroke-width="0.3"/>
<text transform="translate(243.7,167.3) rotate(0.04) scale(0.9,1)" font-size="4.2" text-anchor="start" fill="#4a4a4a"  stroke="#4a4a4a" stroke-width="0.05">:</text>
<text transform="translate(251.3,167.5) rotate(0.04) scale(0.85,1)" font-size="4.2" text-anchor="start" fill="#5a5a5a"  stroke="#5a5a5a" stroke-width="0.05">814</text>
<text transform="translate(54.4,198.8) rotate(0.04) scale(0.82,1)" font-size="4.2" text-anchor="start" fill="#4a4a4a"  stroke="#4a4a4a" stroke-width="0.05">MFI</text>
<circle cx="63.099999999999994" cy="197.4" r="1.2" fill="#555" stroke="#6a6a6a" stroke-width="0.3"/>
<text transform="translate(65.1,198.60000000000002) rotate(0.04) scale(0.9,1)" font-size="4.2" text-anchor="start" fill="#4a4a4a"  stroke="#4a4a4a" stroke-width="0.05">:</text>
<text transform="translate(72.7,198.8) rotate(0.04) scale(0.85,1)" font-size="4.2" text-anchor="start" fill="#5a5a5a"  stroke="#5a5a5a" stroke-width="0.05">21276</text>
<text transform="translate(54.4,202.9) rotate(0.04) scale(0.82,1)" font-size="4.2" text-anchor="start" fill="#4a4a4a"  stroke="#4a4a4a" stroke-width="0.05">MFI</text>
<circle cx="63.099999999999994" cy="201.5" r="1.2" fill="#bbb" stroke="#6a6a6a" stroke-width="0.3"/>
<text transform="translate(65.1,202.70000000000002) rotate(0.04) scale(0.9,1)" font-size="4.2" text-anchor="start" fill="#4a4a4a"  stroke="#4a4a4a" stroke-width="0.05">:</text>
<text transform="translate(72.7,202.9) rotate(0.04) scale(0.85,1)" font-size="4.2" text-anchor="start" fill="#5a5a5a"  stroke="#5a5a5a" stroke-width="0.05">10781</text>
<text transform="translate(90.1,198.8) rotate(0.04) scale(0.82,1)" font-size="4.2" text-anchor="start" fill="#4a4a4a"  stroke="#4a4a4a" stroke-width="0.05">MFI</text>
<circle cx="98.8" cy="197.4" r="1.2" fill="#555" stroke="#6a6a6a" stroke-width="0.3"/>
<text transform="translate(100.8,198.60000000000002) rotate(0.04) scale(0.9,1)" font-size="4.2" text-anchor="start" fill="#4a4a4a"  stroke="#4a4a4a" stroke-width="0.05">:</text>
<text transform="translate(108.39999999999999,198.8) rotate(0.04) scale(0.85,1)" font-size="4.2" text-anchor="start" fill="#5a5a5a"  stroke="#5a5a5a" stroke-width="0.05">88.3</text>
<text transform="translate(90.1,202.9) rotate(0.04) scale(0.82,1)" font-size="4.2" text-anchor="start" fill="#4a4a4a"  stroke="#4a4a4a" stroke-width="0.05">MFI</text>
<circle cx="98.8" cy="201.5" r="1.2" fill="#bbb" stroke="#6a6a6a" stroke-width="0.3"/>
<text transform="translate(100.8,202.70000000000002) rotate(0.04) scale(0.9,1)" font-size="4.2" text-anchor="start" fill="#4a4a4a"  stroke="#4a4a4a" stroke-width="0.05">:</text>
<text transform="translate(108.39999999999999,202.9) rotate(0.04) scale(0.85,1)" font-size="4.2" text-anchor="start" fill="#5a5a5a"  stroke="#5a5a5a" stroke-width="0.05">63.5</text>
<text transform="translate(125.9,198.8) rotate(0.04) scale(0.82,1)" font-size="4.2" text-anchor="start" fill="#4a4a4a"  stroke="#4a4a4a" stroke-width="0.05">MFI</text>
<circle cx="134.6" cy="197.4" r="1.2" fill="#555" stroke="#6a6a6a" stroke-width="0.3"/>
<text transform="translate(136.6,198.60000000000002) rotate(0.04) scale(0.9,1)" font-size="4.2" text-anchor="start" fill="#4a4a4a"  stroke="#4a4a4a" stroke-width="0.05">:</text>
<text transform="translate(144.20000000000002,198.8) rotate(0.04) scale(0.85,1)" font-size="4.2" text-anchor="start" fill="#5a5a5a"  stroke="#5a5a5a" stroke-width="0.05">20062</text>
<text transform="translate(125.9,202.9) rotate(0.04) scale(0.82,1)" font-size="4.2" text-anchor="start" fill="#4a4a4a"  stroke="#4a4a4a" stroke-width="0.05">MFI</text>
<circle cx="134.6" cy="201.5" r="1.2" fill="#bbb" stroke="#6a6a6a" stroke-width="0.3"/>
<text transform="translate(136.6,202.70000000000002) rotate(0.04) scale(0.9,1)" font-size="4.2" text-anchor="start" fill="#4a4a4a"  stroke="#4a4a4a" stroke-width="0.05">:</text>
<text transform="translate(144.20000000000002,202.9) rotate(0.04) scale(0.85,1)" font-size="4.2" text-anchor="start" fill="#5a5a5a"  stroke="#5a5a5a" stroke-width="0.05">16077</text>
<text transform="translate(161.4,198.8) rotate(0.04) scale(0.82,1)" font-size="4.2" text-anchor="start" fill="#4a4a4a"  stroke="#4a4a4a" stroke-width="0.05">MFI</text>
<circle cx="170.1" cy="197.4" r="1.2" fill="#555" stroke="#6a6a6a" stroke-width="0.3"/>
<text transform="translate(172.1,198.60000000000002) rotate(0.04) scale(0.9,1)" font-size="4.2" text-anchor="start" fill="#4a4a4a"  stroke="#4a4a4a" stroke-width="0.05">:</text>
<text transform="translate(179.70000000000002,198.8) rotate(0.04) scale(0.85,1)" font-size="4.2" text-anchor="start" fill="#5a5a5a"  stroke="#5a5a5a" stroke-width="0.05">145</text>
<text transform="translate(161.4,202.9) rotate(0.04) scale(0.82,1)" font-size="4.2" text-anchor="start" fill="#4a4a4a"  stroke="#4a4a4a" stroke-width="0.05">MFI</text>
<circle cx="170.1" cy="201.5" r="1.2" fill="#bbb" stroke="#6a6a6a" stroke-width="0.3"/>
<text transform="translate(172.1,202.70000000000002) rotate(0.04) scale(0.9,1)" font-size="4.2" text-anchor="start" fill="#4a4a4a"  stroke="#4a4a4a" stroke-width="0.05">:</text>
<text transform="translate(179.70000000000002,202.9) rotate(0.04) scale(0.85,1)" font-size="4.2" text-anchor="start" fill="#5a5a5a"  stroke="#5a5a5a" stroke-width="0.05">50</text>
<text transform="translate(197.1,198.8) rotate(0.04) scale(0.82,1)" font-size="4.2" text-anchor="start" fill="#4a4a4a"  stroke="#4a4a4a" stroke-width="0.05">MFI</text>
<circle cx="205.79999999999998" cy="197.4" r="1.2" fill="#555" stroke="#6a6a6a" stroke-width="0.3"/>
<text transform="translate(207.79999999999998,198.60000000000002) rotate(0.04) scale(0.9,1)" font-size="4.2" text-anchor="start" fill="#4a4a4a"  stroke="#4a4a4a" stroke-width="0.05">:</text>
<text transform="translate(215.4,198.8) rotate(0.04) scale(0.85,1)" font-size="4.2" text-anchor="start" fill="#5a5a5a"  stroke="#5a5a5a" stroke-width="0.05">444</text>
<text transform="translate(197.1,202.9) rotate(0.04) scale(0.82,1)" font-size="4.2" text-anchor="start" fill="#4a4a4a"  stroke="#4a4a4a" stroke-width="0.05">MFI</text>
<circle cx="205.79999999999998" cy="201.5" r="1.2" fill="#bbb" stroke="#6a6a6a" stroke-width="0.3"/>
<text transform="translate(207.79999999999998,202.70000000000002) rotate(0.04) scale(0.9,1)" font-size="4.2" text-anchor="start" fill="#4a4a4a"  stroke="#4a4a4a" stroke-width="0.05">:</text>
<text transform="translate(215.4,202.9) rotate(0.04) scale(0.85,1)" font-size="4.2" text-anchor="start" fill="#5a5a5a"  stroke="#5a5a5a" stroke-width="0.05">428</text>
<text transform="translate(233.0,198.8) rotate(0.04) scale(0.82,1)" font-size="4.2" text-anchor="start" fill="#4a4a4a"  stroke="#4a4a4a" stroke-width="0.05">MFI</text>
<circle cx="241.7" cy="197.4" r="1.2" fill="#555" stroke="#6a6a6a" stroke-width="0.3"/>
<text transform="translate(243.7,198.60000000000002) rotate(0.04) scale(0.9,1)" font-size="4.2" text-anchor="start" fill="#4a4a4a"  stroke="#4a4a4a" stroke-width="0.05">:</text>
<text transform="translate(251.3,198.8) rotate(0.04) scale(0.85,1)" font-size="4.2" text-anchor="start" fill="#5a5a5a"  stroke="#5a5a5a" stroke-width="0.05">28</text>
<text transform="translate(233.0,202.9) rotate(0.04) scale(0.82,1)" font-size="4.2" text-anchor="start" fill="#4a4a4a"  stroke="#4a4a4a" stroke-width="0.05">MFI</text>
<circle cx="241.7" cy="201.5" r="1.2" fill="#bbb" stroke="#6a6a6a" stroke-width="0.3"/>
<text transform="translate(243.7,202.70000000000002) rotate(0.04) scale(0.9,1)" font-size="4.2" text-anchor="start" fill="#4a4a4a"  stroke="#4a4a4a" stroke-width="0.05">:</text>
<text transform="translate(251.3,202.9) rotate(0.04) scale(0.85,1)" font-size="4.2" text-anchor="start" fill="#5a5a5a"  stroke="#5a5a5a" stroke-width="0.05">20</text>
<text transform="translate(52.2,238.1) rotate(0.04) scale(0.93,1)" font-size="6.3" text-anchor="start" fill="#151515"  stroke="#151515" stroke-width="0.09">GFP</text>
<line x1="66.3" y1="236" x2="83.89999999999999" y2="236" stroke="#111" stroke-width="0.7" />
<path d="M86,236 L82.6,234.5 L83.39999999999999,236 L82.6,237.5 Z" fill="#111"/>
<text transform="translate(88.5,238.1) rotate(0.04) scale(0.93,1)" font-size="6.3" text-anchor="start" fill="#151515"  stroke="#151515" stroke-width="0.09">DiD</text>
<line x1="100.2" y1="236" x2="117.69999999999999" y2="236" stroke="#111" stroke-width="0.7" />
<path d="M119.8,236 L116.39999999999999,234.5 L117.19999999999999,236 L116.39999999999999,237.5 Z" fill="#111"/>
<text transform="translate(123.8,238.1) rotate(0.04) scale(0.93,1)" font-size="6.3" text-anchor="start" fill="#151515"  stroke="#151515" stroke-width="0.09">CD138</text>
<line x1="145.4" y1="236" x2="154.70000000000002" y2="236" stroke="#111" stroke-width="0.7" />
<path d="M156.8,236 L153.4,234.5 L154.20000000000002,236 L153.4,237.5 Z" fill="#111"/>
<text transform="translate(159.8,238.1) rotate(0.04) scale(0.93,1)" font-size="6.3" text-anchor="start" fill="#151515"  stroke="#151515" stroke-width="0.09">AXL</text>
<line x1="170.6" y1="236" x2="187.9" y2="236" stroke="#111" stroke-width="0.7" />
<path d="M190,236 L186.6,234.5 L187.4,236 L186.6,237.5 Z" fill="#111"/>
<text transform="translate(196.8,238.1) rotate(0.04) scale(0.93,1)" font-size="6.3" text-anchor="start" fill="#151515"  stroke="#151515" stroke-width="0.09">SIRPA</text>
<line x1="214.6" y1="236" x2="226.4" y2="236" stroke="#111" stroke-width="0.7" />
<path d="M228.5,236 L225.1,234.5 L225.9,236 L225.1,237.5 Z" fill="#111"/>
<text transform="translate(230.6,238.1) rotate(0.04) scale(0.93,1)" font-size="6.3" text-anchor="start" fill="#151515"  stroke="#151515" stroke-width="0.09">FCER1G</text>
<line x1="252.3" y1="236" x2="262.40000000000003" y2="236" stroke="#111" stroke-width="0.7" />
<path d="M264.5,236 L261.1,234.5 L261.90000000000003,236 L261.1,237.5 Z" fill="#111"/>
<circle cx="57.7" cy="243.6" r="1.6" fill="#e5a030" stroke="#6a6a6a" stroke-width="0.45"/>
<text transform="translate(62.300000000000004,245.4) rotate(0.04) scale(0.94,1)" font-size="5.3" text-anchor="start" fill="#444"  stroke="#444" stroke-width="0.09">Hi, Colonies</text>
<circle cx="103.2" cy="243.6" r="1.6" fill="#f3c069" stroke="#6a6a6a" stroke-width="0.45"/>
<text transform="translate(107.8,245.4) rotate(0.04) scale(0.94,1)" font-size="5.3" text-anchor="start" fill="#444"  stroke="#444" stroke-width="0.09">Hi, No colonies</text>
<circle cx="172.5" cy="243.6" r="1.6" fill="#666" stroke="#6a6a6a" stroke-width="0.45"/>
<text transform="translate(177.1,245.4) rotate(0.04) scale(0.94,1)" font-size="5.3" text-anchor="start" fill="#444"  stroke="#444" stroke-width="0.09">Neg, Colonies</text>
<circle cx="222.9" cy="243.6" r="1.6" fill="#c4c4c4" stroke="#6a6a6a" stroke-width="0.45"/>
<text transform="translate(227.5,245.4) rotate(0.04) scale(0.94,1)" font-size="5.3" text-anchor="start" fill="#444"  stroke="#444" stroke-width="0.09">Neg, No colonies</text>
<text transform="translate(152.5,246.9) rotate(0.04) scale(0.9,1)" font-size="7.6" text-anchor="start" fill="#151515" font-style="italic" stroke="#151515" stroke-width="0.09">MFI</text>
<rect x="52.9" y="158.5" width="33.4" height="32.900000000000006" fill="none" stroke="#4a4a4a" stroke-width="0.6" />
<rect x="52.9" y="193.9" width="33.4" height="33.79999999999998" fill="none" stroke="#4a4a4a" stroke-width="0.6" />
<rect x="88.6" y="158.5" width="33.4" height="32.900000000000006" fill="none" stroke="#4a4a4a" stroke-width="0.6" />
<rect x="88.6" y="193.9" width="33.4" height="33.79999999999998" fill="none" stroke="#4a4a4a" stroke-width="0.6" />
<rect x="124.4" y="158.5" width="33.4" height="32.900000000000006" fill="none" stroke="#4a4a4a" stroke-width="0.6" />
<rect x="124.4" y="193.9" width="33.4" height="33.79999999999998" fill="none" stroke="#4a4a4a" stroke-width="0.6" />
<rect x="159.9" y="158.5" width="33.4" height="32.900000000000006" fill="none" stroke="#4a4a4a" stroke-width="0.6" />
<rect x="159.9" y="193.9" width="33.4" height="33.79999999999998" fill="none" stroke="#4a4a4a" stroke-width="0.6" />
<rect x="195.6" y="158.5" width="33.4" height="32.900000000000006" fill="none" stroke="#4a4a4a" stroke-width="0.6" />
<rect x="195.6" y="193.9" width="33.4" height="33.79999999999998" fill="none" stroke="#4a4a4a" stroke-width="0.6" />
<rect x="231.5" y="158.5" width="33.4" height="32.900000000000006" fill="none" stroke="#4a4a4a" stroke-width="0.6" />
<rect x="231.5" y="193.9" width="33.4" height="33.79999999999998" fill="none" stroke="#4a4a4a" stroke-width="0.6" />
<text transform="translate(301.65,145.4) rotate(0.04) scale(0.74,1)" font-size="11.5" text-anchor="start" fill="#111"  stroke="#111" stroke-width="0">E</text>
<rect x="312.1" y="151.3" width="62" height="15.7" fill="#c5c6dc" stroke="none" stroke-width="0.5" />
<text transform="translate(314.8,157.60000000000002) rotate(0.04) scale(0.95,1)" font-size="5.2" text-anchor="start" fill="#151515"  stroke="#151515" stroke-width="0.09">Male,</text>
<text transform="translate(314.8,164.3) rotate(0.04) scale(0.95,1)" font-size="5.2" text-anchor="start" fill="#151515"  stroke="#151515" stroke-width="0.09">RM1 prostate cancer</text>
<line x1="375.6" y1="159.15" x2="383.00000000000006" y2="159.15" stroke="#111" stroke-width="0.8" />
<path d="M385.6,159.15 L381.20000000000005,157.35 L382.50000000000006,159.15 L381.20000000000005,160.95000000000002 Z" fill="#111"/>
<rect x="386.4" y="151.3" width="32" height="15.7" fill="#c5c6dc" stroke="none" stroke-width="0.5" />
<text transform="translate(402.3,157.60000000000002) rotate(0.04) scale(0.95,1)" font-size="5.2" text-anchor="middle" fill="#151515"  stroke="#151515" stroke-width="0.09">Male</text>
<text transform="translate(402.3,164.3) rotate(0.04) scale(0.95,1)" font-size="5.2" text-anchor="middle" fill="#151515"  stroke="#151515" stroke-width="0.09">mouse</text>
<rect x="312.1" y="175.1" width="62" height="15.7" fill="#e8c2b8" stroke="none" stroke-width="0.5" />
<text transform="translate(314.8,181.4) rotate(0.04) scale(0.95,1)" font-size="5.2" text-anchor="start" fill="#151515"  stroke="#151515" stroke-width="0.09">Female,</text>
<text transform="translate(314.8,188.1) rotate(0.04) scale(0.95,1)" font-size="5.2" text-anchor="start" fill="#151515"  stroke="#151515" stroke-width="0.09">5TGM1 myeloma</text>
<line x1="375.6" y1="182.95" x2="383.00000000000006" y2="182.95" stroke="#111" stroke-width="0.8" />
<path d="M385.6,182.95 L381.20000000000005,181.14999999999998 L382.50000000000006,182.95 L381.20000000000005,184.75 Z" fill="#111"/>
<rect x="386.4" y="175.1" width="32" height="15.7" fill="#c5c6dc" stroke="none" stroke-width="0.5" />
<text transform="translate(402.3,181.4) rotate(0.04) scale(0.95,1)" font-size="5.2" text-anchor="middle" fill="#151515"  stroke="#151515" stroke-width="0.09">Male</text>
<text transform="translate(402.3,188.1) rotate(0.04) scale(0.95,1)" font-size="5.2" text-anchor="middle" fill="#151515"  stroke="#151515" stroke-width="0.09">mouse</text>
<rect x="312.1" y="199.8" width="62" height="15.7" fill="#e8c2b8" stroke="none" stroke-width="0.5" />
<text transform="translate(314.8,206.10000000000002) rotate(0.04) scale(0.95,1)" font-size="5.2" text-anchor="start" fill="#151515"  stroke="#151515" stroke-width="0.09">Female,</text>
<text transform="translate(314.8,212.8) rotate(0.04) scale(0.95,1)" font-size="5.2" text-anchor="start" fill="#151515"  stroke="#151515" stroke-width="0.09">5TGM1 myeloma</text>
<line x1="375.6" y1="207.65" x2="383.00000000000006" y2="207.65" stroke="#111" stroke-width="0.8" />
<path d="M385.6,207.65 L381.20000000000005,205.85 L382.50000000000006,207.65 L381.20000000000005,209.45000000000002 Z" fill="#111"/>
<rect x="386.4" y="199.8" width="32" height="15.7" fill="#e8c2b8" stroke="none" stroke-width="0.5" />
<text transform="translate(402.3,206.10000000000002) rotate(0.04) scale(0.95,1)" font-size="5.2" text-anchor="middle" fill="#151515"  stroke="#151515" stroke-width="0.09">Female</text>
<text transform="translate(402.3,212.8) rotate(0.04) scale(0.95,1)" font-size="5.2" text-anchor="middle" fill="#151515"  stroke="#151515" stroke-width="0.09">mouse</text>
<text transform="translate(431,163.7) rotate(0.04) scale(0.95,1)" font-size="5.2" text-anchor="middle" fill="#151515"  stroke="#151515" stroke-width="0.09">Hind</text>
<text transform="translate(431,169.9) rotate(0.04) scale(0.95,1)" font-size="5.2" text-anchor="middle" fill="#151515"  stroke="#151515" stroke-width="0.09">limbs</text>
<text transform="translate(431,176.1) rotate(0.04) scale(0.95,1)" font-size="5.2" text-anchor="middle" fill="#151515"  stroke="#151515" stroke-width="0.09">isolated</text>
<path d="M428.6,157.5 H443.9 V207.7 H428.6 M428.6,184 H443.9" fill="none" stroke="#111" stroke-width="0.95"/>
<line x1="443.9" y1="184" x2="457.20000000000005" y2="184" stroke="#111" stroke-width="0.8" />
<path d="M459.8,184 L455.40000000000003,182.2 L456.70000000000005,184 L455.40000000000003,185.8 Z" fill="#111"/>
<text transform="translate(454.8,172.8) rotate(0.04) scale(0.9,1)" font-size="5" text-anchor="middle" fill="#151515"  stroke="#151515" stroke-width="0.09">scRNA-</text>
<text transform="translate(454.8,178.3) rotate(0.04) scale(0.9,1)" font-size="5" text-anchor="middle" fill="#151515"  stroke="#151515" stroke-width="0.09">seq</text>
<rect x="465.4" y="164" width="41.7" height="37.5" fill="#c5c6dc" stroke="none" stroke-width="0.5" />
<text transform="translate(486,172.9) rotate(0.04) scale(0.95,1)" font-size="5.2" text-anchor="middle" fill="#151515"  stroke="#151515" stroke-width="0.09">Expression</text>
<text transform="translate(486,179.55) rotate(0.04) scale(0.95,1)" font-size="5.2" text-anchor="middle" fill="#151515"  stroke="#151515" stroke-width="0.09">of</text>
<text transform="translate(486,186.20000000000002) rotate(0.04) scale(0.95,1)" font-size="5.2" text-anchor="middle" fill="#151515"  stroke="#151515" stroke-width="0.09">1571 male</text>
<text transform="translate(486,192.85000000000002) rotate(0.04) scale(0.95,1)" font-size="5.2" text-anchor="middle" fill="#151515"  stroke="#151515" stroke-width="0.09">genes</text>
<text transform="translate(7.28,267.3) rotate(0.04) scale(0.81,1)" font-size="11.5" text-anchor="start" fill="#111"  stroke="#111" stroke-width="0">F</text>
<rect x="17.4" y="273.5" width="47.3" height="8.5" fill="#7aa0d1" stroke="none" stroke-width="0.5" />
<text transform="translate(40.8,280.7) rotate(0.04) scale(0.94,1)" font-size="6.2" text-anchor="middle" fill="#223"  stroke="#223" stroke-width="0.09">RM1</text>
<rect x="64.7" y="273.5" width="65.4" height="8.5" fill="#80b57e" stroke="none" stroke-width="0.5" />
<text transform="translate(95.2,280.7) rotate(0.04) scale(0.94,1)" font-size="6.2" text-anchor="middle" fill="#232"  stroke="#232" stroke-width="0.09">5TGM1 Male</text>
<rect x="130.1" y="273.5" width="56.1" height="8.5" fill="#b59ace" stroke="none" stroke-width="0.5" />
<text transform="translate(157.8,280.7) rotate(0.04) scale(0.94,1)" font-size="6.2" text-anchor="middle" fill="#323"  stroke="#323" stroke-width="0.09">5TGM1 Female</text>
<rect x="17.6" y="285.1" width="168.6" height="135.79999999999995" fill="#4b5088" stroke="none" stroke-width="0.5" />
<rect x="17.60" y="285.10" width="1.05" height="3.36" fill="#e5aba0"/><rect x="18.60" y="285.10" width="1.05" height="3.36" fill="#c94e3d"/><rect x="19.60" y="285.10" width="1.05" height="3.36" fill="#c54838"/><rect x="20.61" y="285.10" width="1.05" height="3.36" fill="#c34637"/><rect x="21.61" y="285.10" width="1.05" height="3.36" fill="#be4134"/><rect x="22.61" y="285.10" width="1.05" height="3.36" fill="#c44737"/><rect x="23.61" y="285.10" width="1.05" height="3.36" fill="#b93d31"/><rect x="24.61" y="285.10" width="1.05" height="3.36" fill="#d67767"/><rect x="27.62" y="285.10" width="1.05" height="3.36" fill="#c44737"/><rect x="28.62" y="285.10" width="1.05" height="3.36" fill="#c34637"/><rect x="29.63" y="285.10" width="1.05" height="3.36" fill="#b93c31"/><rect x="30.63" y="285.10" width="1.05" height="3.36" fill="#bd4033"/><rect x="31.63" y="285.10" width="1.05" height="3.36" fill="#ce5d4c"/><rect x="32.63" y="285.10" width="1.05" height="3.36" fill="#bc4033"/><rect x="33.63" y="285.10" width="1.05" height="3.36" fill="#c74a39"/><rect x="34.64" y="285.10" width="1.05" height="3.36" fill="#ca5343"/><rect x="35.64" y="285.10" width="1.05" height="3.36" fill="#c64938"/><rect x="37.64" y="285.10" width="1.05" height="3.36" fill="#b0342c"/><rect x="38.64" y="285.10" width="1.05" height="3.36" fill="#c24536"/><rect x="39.65" y="285.10" width="1.05" height="3.36" fill="#b83c30"/><rect x="40.65" y="285.10" width="1.05" height="3.36" fill="#be4134"/><rect x="41.65" y="285.10" width="1.05" height="3.36" fill="#cd5a49"/><rect x="42.65" y="285.10" width="1.05" height="3.36" fill="#b0342c"/><rect x="43.66" y="285.10" width="1.05" height="3.36" fill="#c54838"/><rect x="44.66" y="285.10" width="1.05" height="3.36" fill="#b5392f"/><rect x="46.66" y="285.10" width="1.05" height="3.36" fill="#c64938"/><rect x="47.66" y="285.10" width="1.05" height="3.36" fill="#d16756"/><rect x="48.67" y="285.10" width="1.05" height="3.36" fill="#d26b5b"/><rect x="49.67" y="285.10" width="1.05" height="3.36" fill="#d36c5c"/><rect x="50.67" y="285.10" width="1.05" height="3.36" fill="#b0342c"/><rect x="51.67" y="285.10" width="1.05" height="3.36" fill="#bf4235"/><rect x="52.67" y="285.10" width="1.05" height="3.36" fill="#ba3e32"/><rect x="53.68" y="285.10" width="1.05" height="3.36" fill="#b93d31"/><rect x="54.68" y="285.10" width="1.05" height="3.36" fill="#b3372d"/><rect x="55.68" y="285.10" width="1.05" height="3.36" fill="#c04335"/><rect x="56.68" y="285.10" width="1.05" height="3.36" fill="#c54838"/><rect x="57.69" y="285.10" width="1.05" height="3.36" fill="#c64938"/><rect x="58.69" y="285.10" width="1.05" height="3.36" fill="#bc3f33"/><rect x="60.69" y="285.10" width="1.05" height="3.36" fill="#c74a39"/><rect x="61.69" y="285.10" width="1.05" height="3.36" fill="#b0342c"/><rect x="62.70" y="285.10" width="1.05" height="3.36" fill="#b6392f"/><rect x="63.70" y="285.10" width="1.05" height="3.36" fill="#d06352"/><rect x="18.60" y="288.41" width="1.05" height="3.36" fill="#eaebf4"/><rect x="19.60" y="288.41" width="1.05" height="3.36" fill="#d06555"/><rect x="20.61" y="288.41" width="1.05" height="3.36" fill="#edd0cc"/><rect x="21.61" y="288.41" width="1.05" height="3.36" fill="#f1e2e2"/><rect x="22.61" y="288.41" width="1.05" height="3.36" fill="#96a5d7"/><rect x="23.61" y="288.41" width="1.05" height="3.36" fill="#afbadf"/><rect x="26.62" y="288.41" width="1.05" height="3.36" fill="#8d9bcf"/><rect x="27.62" y="288.41" width="1.05" height="3.36" fill="#d47061"/><rect x="28.62" y="288.41" width="1.05" height="3.36" fill="#8694c9"/><rect x="29.63" y="288.41" width="1.05" height="3.36" fill="#e1e4f1"/><rect x="33.63" y="288.41" width="1.05" height="3.36" fill="#c2cae6"/><rect x="34.64" y="288.41" width="1.05" height="3.36" fill="#f0dfde"/><rect x="36.64" y="288.41" width="1.05" height="3.36" fill="#dadeee"/><rect x="37.64" y="288.41" width="1.05" height="3.36" fill="#9aa8d8"/><rect x="38.64" y="288.41" width="1.05" height="3.36" fill="#e0e3f0"/><rect x="39.65" y="288.41" width="1.05" height="3.36" fill="#e9bcb4"/><rect x="40.65" y="288.41" width="1.05" height="3.36" fill="#f1e4e4"/><rect x="42.65" y="288.41" width="1.05" height="3.36" fill="#da8374"/><rect x="43.66" y="288.41" width="1.05" height="3.36" fill="#e9bdb5"/><rect x="44.66" y="288.41" width="1.05" height="3.36" fill="#ccd2e9"/><rect x="45.66" y="288.41" width="1.05" height="3.36" fill="#ccd2e9"/><rect x="46.66" y="288.41" width="1.05" height="3.36" fill="#f2e9ea"/><rect x="47.66" y="288.41" width="1.05" height="3.36" fill="#bac3e3"/><rect x="48.67" y="288.41" width="1.05" height="3.36" fill="#d8ddee"/><rect x="51.67" y="288.41" width="1.05" height="3.36" fill="#bac3e3"/><rect x="52.67" y="288.41" width="1.05" height="3.36" fill="#7784bc"/><rect x="53.68" y="288.41" width="1.05" height="3.36" fill="#c74a39"/><rect x="54.68" y="288.41" width="1.05" height="3.36" fill="#f0dddc"/><rect x="56.68" y="288.41" width="1.05" height="3.36" fill="#99a7d8"/><rect x="57.69" y="288.41" width="1.05" height="3.36" fill="#909ed1"/><rect x="58.69" y="288.41" width="1.05" height="3.36" fill="#edcfcb"/><rect x="59.69" y="288.41" width="1.05" height="3.36" fill="#f4f4f7"/><rect x="60.69" y="288.41" width="1.05" height="3.36" fill="#d98070"/><rect x="61.69" y="288.41" width="1.05" height="3.36" fill="#8998cc"/><rect x="62.70" y="288.41" width="1.05" height="3.36" fill="#e4a89d"/><rect x="63.70" y="288.41" width="1.05" height="3.36" fill="#bbc4e3"/><rect x="19.60" y="291.72" width="1.05" height="3.36" fill="#c04435"/><rect x="20.61" y="291.72" width="1.05" height="3.36" fill="#f3edef"/><rect x="21.61" y="291.72" width="1.05" height="3.36" fill="#dd8c7d"/><rect x="22.61" y="291.72" width="1.05" height="3.36" fill="#bc3f33"/><rect x="23.61" y="291.72" width="1.05" height="3.36" fill="#f1f1f6"/><rect x="25.62" y="291.72" width="1.05" height="3.36" fill="#bac3e3"/><rect x="26.62" y="291.72" width="1.05" height="3.36" fill="#c84c3b"/><rect x="27.62" y="291.72" width="1.05" height="3.36" fill="#e5aca1"/><rect x="28.62" y="291.72" width="1.05" height="3.36" fill="#b5392f"/><rect x="29.63" y="291.72" width="1.05" height="3.36" fill="#bc4033"/><rect x="30.63" y="291.72" width="1.05" height="3.36" fill="#d77969"/><rect x="31.63" y="291.72" width="1.05" height="3.36" fill="#c54838"/><rect x="32.63" y="291.72" width="1.05" height="3.36" fill="#eed4d1"/><rect x="33.63" y="291.72" width="1.05" height="3.36" fill="#e9beb7"/><rect x="34.64" y="291.72" width="1.05" height="3.36" fill="#d16756"/><rect x="35.64" y="291.72" width="1.05" height="3.36" fill="#b5392f"/><rect x="36.64" y="291.72" width="1.05" height="3.36" fill="#b83b30"/><rect x="37.64" y="291.72" width="1.05" height="3.36" fill="#da8171"/><rect x="39.65" y="291.72" width="1.05" height="3.36" fill="#cd5c4c"/><rect x="40.65" y="291.72" width="1.05" height="3.36" fill="#d36e5e"/><rect x="41.65" y="291.72" width="1.05" height="3.36" fill="#b1352c"/><rect x="42.65" y="291.72" width="1.05" height="3.36" fill="#df9283"/><rect x="43.66" y="291.72" width="1.05" height="3.36" fill="#ca5343"/><rect x="44.66" y="291.72" width="1.05" height="3.36" fill="#c04435"/><rect x="45.66" y="291.72" width="1.05" height="3.36" fill="#bb3f32"/><rect x="47.66" y="291.72" width="1.05" height="3.36" fill="#e5a99d"/><rect x="48.67" y="291.72" width="1.05" height="3.36" fill="#d87c6d"/><rect x="49.67" y="291.72" width="1.05" height="3.36" fill="#c34737"/><rect x="50.67" y="291.72" width="1.05" height="3.36" fill="#da8171"/><rect x="51.67" y="291.72" width="1.05" height="3.36" fill="#da8172"/><rect x="52.67" y="291.72" width="1.05" height="3.36" fill="#b93d31"/><rect x="53.68" y="291.72" width="1.05" height="3.36" fill="#c84c3b"/><rect x="54.68" y="291.72" width="1.05" height="3.36" fill="#c44737"/><rect x="55.68" y="291.72" width="1.05" height="3.36" fill="#ca5342"/><rect x="56.68" y="291.72" width="1.05" height="3.36" fill="#d57363"/><rect x="57.69" y="291.72" width="1.05" height="3.36" fill="#b2362d"/><rect x="58.69" y="291.72" width="1.05" height="3.36" fill="#ca5342"/><rect x="59.69" y="291.72" width="1.05" height="3.36" fill="#c64938"/><rect x="60.69" y="291.72" width="1.05" height="3.36" fill="#c44737"/><rect x="61.69" y="291.72" width="1.05" height="3.36" fill="#c34737"/><rect x="62.70" y="291.72" width="1.05" height="3.36" fill="#de8e7f"/><rect x="63.70" y="291.72" width="1.05" height="3.36" fill="#e09384"/><rect x="19.60" y="295.04" width="1.05" height="3.36" fill="#8e9cd0"/><rect x="20.61" y="295.04" width="1.05" height="3.36" fill="#f2e7e8"/><rect x="21.61" y="295.04" width="1.05" height="3.36" fill="#dce0ef"/><rect x="22.61" y="295.04" width="1.05" height="3.36" fill="#8e9dd0"/><rect x="23.61" y="295.04" width="1.05" height="3.36" fill="#afbadf"/><rect x="24.61" y="295.04" width="1.05" height="3.36" fill="#5b66a3"/><rect x="26.62" y="295.04" width="1.05" height="3.36" fill="#e4a79b"/><rect x="32.63" y="295.04" width="1.05" height="3.36" fill="#e9bdb6"/><rect x="33.63" y="295.04" width="1.05" height="3.36" fill="#cd5b4a"/><rect x="37.64" y="295.04" width="1.05" height="3.36" fill="#bbc4e4"/><rect x="44.66" y="295.04" width="1.05" height="3.36" fill="#eed6d3"/><rect x="47.66" y="295.04" width="1.05" height="3.36" fill="#7884bc"/><rect x="50.67" y="295.04" width="1.05" height="3.36" fill="#e7b6ad"/><rect x="51.67" y="295.04" width="1.05" height="3.36" fill="#f1e2e2"/><rect x="53.68" y="295.04" width="1.05" height="3.36" fill="#b9c2e3"/><rect x="54.68" y="295.04" width="1.05" height="3.36" fill="#f1e3e2"/><rect x="55.68" y="295.04" width="1.05" height="3.36" fill="#96a5d7"/><rect x="56.68" y="295.04" width="1.05" height="3.36" fill="#bdc5e4"/><rect x="61.69" y="295.04" width="1.05" height="3.36" fill="#eed7d4"/><rect x="62.70" y="295.04" width="1.05" height="3.36" fill="#d06453"/><rect x="21.61" y="298.35" width="1.05" height="3.36" fill="#5c67a4"/><rect x="23.61" y="298.35" width="1.05" height="3.36" fill="#de8f80"/><rect x="28.62" y="298.35" width="1.05" height="3.36" fill="#6e7ab4"/><rect x="30.63" y="298.35" width="1.05" height="3.36" fill="#b9c2e3"/><rect x="38.64" y="298.35" width="1.05" height="3.36" fill="#7885bc"/><rect x="41.65" y="298.35" width="1.05" height="3.36" fill="#bbc4e4"/><rect x="46.66" y="298.35" width="1.05" height="3.36" fill="#eac3bc"/><rect x="50.67" y="298.35" width="1.05" height="3.36" fill="#f4f2f5"/><rect x="52.67" y="298.35" width="1.05" height="3.36" fill="#ebcac4"/><rect x="55.68" y="298.35" width="1.05" height="3.36" fill="#d2d7eb"/><rect x="57.69" y="298.35" width="1.05" height="3.36" fill="#9ba9d9"/><rect x="58.69" y="298.35" width="1.05" height="3.36" fill="#7481b9"/><rect x="62.70" y="298.35" width="1.05" height="3.36" fill="#c1c9e5"/><rect x="63.70" y="298.35" width="1.05" height="3.36" fill="#7a87be"/>
<rect x="34.6" y="302" width="0.95" height="90" fill="#8f9bd0" opacity="0.5"/><rect x="19.2" y="302" width="0.95" height="10" fill="#8f9bd0" opacity="0.4"/><rect x="25.5" y="302" width="0.95" height="6" fill="#8f9bd0" opacity="0.45"/><rect x="31.3" y="302" width="0.95" height="9" fill="#8f9bd0" opacity="0.5"/><rect x="33" y="302" width="0.95" height="8" fill="#8f9bd0" opacity="0.35"/><rect x="41.1" y="302" width="0.95" height="14" fill="#8f9bd0" opacity="0.4"/><rect x="55" y="302" width="0.95" height="6" fill="#8f9bd0" opacity="0.45"/><rect x="46.5" y="302" width="0.95" height="4" fill="#8f9bd0" opacity="0.3"/><rect x="50.3" y="309" width="0.95" height="5" fill="#8f9bd0" opacity="0.3"/><rect x="28.4" y="318" width="0.95" height="8" fill="#8f9bd0" opacity="0.25"/><rect x="85.6" y="384.47" width="0.9" height="3.31" fill="#7d8bc8" opacity="0.30"/><rect x="99.5" y="341.41" width="0.9" height="3.31" fill="#7d8bc8" opacity="0.25"/><rect x="160.3" y="404.34" width="0.9" height="3.31" fill="#7d8bc8" opacity="0.44"/><rect x="87.8" y="324.85" width="0.9" height="3.31" fill="#7d8bc8" opacity="0.26"/><rect x="66.4" y="308.29" width="0.9" height="3.31" fill="#7d8bc8" opacity="0.43"/><rect x="117.0" y="301.66" width="0.9" height="3.31" fill="#7d8bc8" opacity="0.40"/><rect x="93.6" y="304.97" width="0.9" height="3.31" fill="#7d8bc8" opacity="0.37"/><rect x="118.0" y="384.47" width="0.9" height="3.31" fill="#7d8bc8" opacity="0.39"/><rect x="114.4" y="311.60" width="0.9" height="3.31" fill="#7d8bc8" opacity="0.21"/><rect x="105.1" y="311.60" width="0.9" height="3.31" fill="#7d8bc8" opacity="0.37"/><rect x="143.2" y="308.29" width="0.9" height="3.31" fill="#7d8bc8" opacity="0.21"/><rect x="154.2" y="301.66" width="0.9" height="3.31" fill="#7d8bc8" opacity="0.23"/><rect x="176.4" y="311.60" width="0.9" height="3.31" fill="#7d8bc8" opacity="0.24"/><rect x="152.7" y="298.35" width="0.9" height="3.31" fill="#7d8bc8" opacity="0.32"/>
<rect x="58.8" y="311.6" width="1.05" height="3.3" fill="#f0d8cc" stroke="none" stroke-width="0.5" />
<rect x="26.2" y="285.1" width="1.1" height="135.79999999999995" fill="#6a70a6" stroke="none" stroke-width="0.5" opacity="0.28"/>
<rect x="37.6" y="285.1" width="1.1" height="135.79999999999995" fill="#6a70a6" stroke="none" stroke-width="0.5" opacity="0.28"/>
<rect x="49.0" y="285.1" width="1.1" height="135.79999999999995" fill="#6a70a6" stroke="none" stroke-width="0.5" opacity="0.28"/>
<rect x="60.4" y="285.1" width="1.1" height="135.79999999999995" fill="#6a70a6" stroke="none" stroke-width="0.5" opacity="0.28"/>
<rect x="71.8" y="285.1" width="1.1" height="135.79999999999995" fill="#6a70a6" stroke="none" stroke-width="0.5" opacity="0.28"/>
<rect x="83.2" y="285.1" width="1.1" height="135.79999999999995" fill="#6a70a6" stroke="none" stroke-width="0.5" opacity="0.28"/>
<rect x="94.6" y="285.1" width="1.1" height="135.79999999999995" fill="#6a70a6" stroke="none" stroke-width="0.5" opacity="0.28"/>
<rect x="106.0" y="285.1" width="1.1" height="135.79999999999995" fill="#6a70a6" stroke="none" stroke-width="0.5" opacity="0.28"/>
<rect x="117.4" y="285.1" width="1.1" height="135.79999999999995" fill="#6a70a6" stroke="none" stroke-width="0.5" opacity="0.28"/>
<rect x="128.8" y="285.1" width="1.1" height="135.79999999999995" fill="#6a70a6" stroke="none" stroke-width="0.5" opacity="0.28"/>
<rect x="140.2" y="285.1" width="1.1" height="135.79999999999995" fill="#6a70a6" stroke="none" stroke-width="0.5" opacity="0.28"/>
<rect x="151.6" y="285.1" width="1.1" height="135.79999999999995" fill="#6a70a6" stroke="none" stroke-width="0.5" opacity="0.28"/>
<rect x="163.0" y="285.1" width="1.1" height="135.79999999999995" fill="#6a70a6" stroke="none" stroke-width="0.5" opacity="0.28"/>
<rect x="174.4" y="285.1" width="1.1" height="135.79999999999995" fill="#6a70a6" stroke="none" stroke-width="0.5" opacity="0.28"/>
<rect x="17.6" y="288.16" width="168.6" height="0.5" fill="#6a70a6" stroke="none" stroke-width="0.5" opacity="0.18"/>
<rect x="17.6" y="294.79" width="168.6" height="0.5" fill="#6a70a6" stroke="none" stroke-width="0.5" opacity="0.18"/>
<rect x="17.6" y="301.41" width="168.6" height="0.5" fill="#6a70a6" stroke="none" stroke-width="0.5" opacity="0.18"/>
<rect x="17.6" y="308.04" width="168.6" height="0.5" fill="#6a70a6" stroke="none" stroke-width="0.5" opacity="0.18"/>
<rect x="17.6" y="314.66" width="168.6" height="0.5" fill="#6a70a6" stroke="none" stroke-width="0.5" opacity="0.18"/>
<rect x="17.6" y="321.28" width="168.6" height="0.5" fill="#6a70a6" stroke="none" stroke-width="0.5" opacity="0.18"/>
<rect x="17.6" y="327.91" width="168.6" height="0.5" fill="#6a70a6" stroke="none" stroke-width="0.5" opacity="0.18"/>
<rect x="17.6" y="334.53" width="168.6" height="0.5" fill="#6a70a6" stroke="none" stroke-width="0.5" opacity="0.18"/>
<rect x="17.6" y="341.16" width="168.6" height="0.5" fill="#6a70a6" stroke="none" stroke-width="0.5" opacity="0.18"/>
<rect x="17.6" y="347.78" width="168.6" height="0.5" fill="#6a70a6" stroke="none" stroke-width="0.5" opacity="0.18"/>
<rect x="17.6" y="354.41" width="168.6" height="0.5" fill="#6a70a6" stroke="none" stroke-width="0.5" opacity="0.18"/>
<rect x="17.6" y="361.03" width="168.6" height="0.5" fill="#6a70a6" stroke="none" stroke-width="0.5" opacity="0.18"/>
<rect x="17.6" y="367.65" width="168.6" height="0.5" fill="#6a70a6" stroke="none" stroke-width="0.5" opacity="0.18"/>
<rect x="17.6" y="374.28" width="168.6" height="0.5" fill="#6a70a6" stroke="none" stroke-width="0.5" opacity="0.18"/>
<rect x="17.6" y="380.90" width="168.6" height="0.5" fill="#6a70a6" stroke="none" stroke-width="0.5" opacity="0.18"/>
<rect x="17.6" y="387.53" width="168.6" height="0.5" fill="#6a70a6" stroke="none" stroke-width="0.5" opacity="0.18"/>
<rect x="17.6" y="394.15" width="168.6" height="0.5" fill="#6a70a6" stroke="none" stroke-width="0.5" opacity="0.18"/>
<rect x="17.6" y="400.78" width="168.6" height="0.5" fill="#6a70a6" stroke="none" stroke-width="0.5" opacity="0.18"/>
<rect x="17.6" y="407.40" width="168.6" height="0.5" fill="#6a70a6" stroke="none" stroke-width="0.5" opacity="0.18"/>
<rect x="17.6" y="414.03" width="168.6" height="0.5" fill="#6a70a6" stroke="none" stroke-width="0.5" opacity="0.18"/>
<text transform="translate(189.1,288.3560975609756) rotate(0.05) scale(0.88,1)" font-size="4.6" text-anchor="start" fill="#505050"  stroke="#505050" stroke-width="0.05">Eif2s3y</text>
<text transform="translate(189.1,291.66829268292685) rotate(0.05) scale(0.88,1)" font-size="4.6" text-anchor="start" fill="#505050"  stroke="#505050" stroke-width="0.05">Erdr1</text>
<text transform="translate(189.1,294.98048780487807) rotate(0.05) scale(0.88,1)" font-size="4.6" text-anchor="start" fill="#505050"  stroke="#505050" stroke-width="0.05">Ddx3y</text>
<text transform="translate(189.1,298.2926829268293) rotate(0.05) scale(0.88,1)" font-size="4.6" text-anchor="start" fill="#505050"  stroke="#505050" stroke-width="0.05">Uty</text>
<text transform="translate(189.1,301.6048780487805) rotate(0.05) scale(0.88,1)" font-size="4.6" text-anchor="start" fill="#505050"  stroke="#505050" stroke-width="0.05">Kdm5d</text>
<text transform="translate(189.1,304.9170731707317) rotate(0.05) scale(0.88,1)" font-size="4.6" text-anchor="start" fill="#505050"  stroke="#505050" stroke-width="0.05">Gm21860</text>
<text transform="translate(189.1,308.22926829268295) rotate(0.05) scale(0.88,1)" font-size="4.6" text-anchor="start" fill="#505050"  stroke="#505050" stroke-width="0.05">Gm25969</text>
<text transform="translate(189.1,311.54146341463417) rotate(0.05) scale(0.88,1)" font-size="4.6" text-anchor="start" fill="#505050"  stroke="#505050" stroke-width="0.05">Gm22690</text>
<text transform="translate(189.1,314.8536585365854) rotate(0.05) scale(0.88,1)" font-size="4.6" text-anchor="start" fill="#505050"  stroke="#505050" stroke-width="0.05">Gm27489</text>
<text transform="translate(189.1,318.1658536585366) rotate(0.05) scale(0.88,1)" font-size="4.6" text-anchor="start" fill="#505050"  stroke="#505050" stroke-width="0.05">Gm28845</text>
<text transform="translate(189.1,321.4780487804878) rotate(0.05) scale(0.88,1)" font-size="4.6" text-anchor="start" fill="#505050"  stroke="#505050" stroke-width="0.05">Gm23539</text>
<text transform="translate(189.1,324.79024390243904) rotate(0.05) scale(0.88,1)" font-size="4.6" text-anchor="start" fill="#505050"  stroke="#505050" stroke-width="0.05">Gm22476</text>
<text transform="translate(189.1,328.10243902439026) rotate(0.05) scale(0.88,1)" font-size="4.6" text-anchor="start" fill="#505050"  stroke="#505050" stroke-width="0.05">Gm22089</text>
<text transform="translate(189.1,331.4146341463415) rotate(0.05) scale(0.88,1)" font-size="4.6" text-anchor="start" fill="#505050"  stroke="#505050" stroke-width="0.05">Gm21324</text>
<text transform="translate(189.1,334.7268292682927) rotate(0.05) scale(0.88,1)" font-size="4.6" text-anchor="start" fill="#505050"  stroke="#505050" stroke-width="0.05">Gm27579</text>
<text transform="translate(189.1,338.0390243902439) rotate(0.05) scale(0.88,1)" font-size="4.6" text-anchor="start" fill="#505050"  stroke="#505050" stroke-width="0.05">Gm25741</text>
<text transform="translate(189.1,341.35121951219514) rotate(0.05) scale(0.88,1)" font-size="4.6" text-anchor="start" fill="#505050"  stroke="#505050" stroke-width="0.05">Gm21964</text>
<text transform="translate(189.1,344.66341463414636) rotate(0.05) scale(0.88,1)" font-size="4.6" text-anchor="start" fill="#505050"  stroke="#505050" stroke-width="0.05">Gm24636</text>
<text transform="translate(189.1,347.9756097560976) rotate(0.05) scale(0.88,1)" font-size="4.6" text-anchor="start" fill="#505050"  stroke="#505050" stroke-width="0.05">Gm29525</text>
<text transform="translate(189.1,351.2878048780488) rotate(0.05) scale(0.88,1)" font-size="4.6" text-anchor="start" fill="#505050"  stroke="#505050" stroke-width="0.05">Gm29792</text>
<text transform="translate(189.1,354.6) rotate(0.05) scale(0.88,1)" font-size="4.6" text-anchor="start" fill="#505050"  stroke="#505050" stroke-width="0.05">Gm26902</text>
<text transform="translate(189.1,357.91219512195124) rotate(0.05) scale(0.88,1)" font-size="4.6" text-anchor="start" fill="#505050"  stroke="#505050" stroke-width="0.05">Gm25533</text>
<text transform="translate(189.1,361.22439024390246) rotate(0.05) scale(0.88,1)" font-size="4.6" text-anchor="start" fill="#505050"  stroke="#505050" stroke-width="0.05">Gm23828</text>
<text transform="translate(189.1,364.5365853658537) rotate(0.05) scale(0.78,1)" font-size="4.6" text-anchor="start" fill="#505050"  stroke="#505050" stroke-width="0.05">ENSMUSG00000103894</text>
<text transform="translate(189.1,367.8487804878049) rotate(0.05) scale(0.88,1)" font-size="4.6" text-anchor="start" fill="#505050"  stroke="#505050" stroke-width="0.05">Gm25288</text>
<text transform="translate(189.1,371.1609756097561) rotate(0.05) scale(0.88,1)" font-size="4.6" text-anchor="start" fill="#505050"  stroke="#505050" stroke-width="0.05">Gm24512</text>
<text transform="translate(189.1,374.47317073170734) rotate(0.05) scale(0.88,1)" font-size="4.6" text-anchor="start" fill="#505050"  stroke="#505050" stroke-width="0.05">Gm21420</text>
<text transform="translate(189.1,377.78536585365856) rotate(0.05) scale(0.88,1)" font-size="4.6" text-anchor="start" fill="#505050"  stroke="#505050" stroke-width="0.05">Gm25264</text>
<text transform="translate(189.1,381.0975609756098) rotate(0.05) scale(0.78,1)" font-size="4.6" text-anchor="start" fill="#505050"  stroke="#505050" stroke-width="0.05">ENSMUSG00000103618</text>
<text transform="translate(189.1,384.409756097561) rotate(0.05) scale(0.88,1)" font-size="4.6" text-anchor="start" fill="#505050"  stroke="#505050" stroke-width="0.05">Gm24169</text>
<text transform="translate(189.1,387.7219512195122) rotate(0.05) scale(0.78,1)" font-size="4.6" text-anchor="start" fill="#505050"  stroke="#505050" stroke-width="0.05">ENSMUSG00000102835</text>
<text transform="translate(189.1,391.03414634146344) rotate(0.05) scale(0.88,1)" font-size="4.6" text-anchor="start" fill="#505050"  stroke="#505050" stroke-width="0.05">Gm26076</text>
<text transform="translate(189.1,394.34634146341466) rotate(0.05) scale(0.88,1)" font-size="4.6" text-anchor="start" fill="#505050"  stroke="#505050" stroke-width="0.05">Gm25745</text>
<text transform="translate(189.1,397.6585365853659) rotate(0.05) scale(0.88,1)" font-size="4.6" text-anchor="start" fill="#505050"  stroke="#505050" stroke-width="0.05">Gm27101</text>
<text transform="translate(189.1,400.9707317073171) rotate(0.05) scale(0.88,1)" font-size="4.6" text-anchor="start" fill="#505050"  stroke="#505050" stroke-width="0.05">Gm22420</text>
<text transform="translate(189.1,404.2829268292683) rotate(0.05) scale(0.78,1)" font-size="4.6" text-anchor="start" fill="#505050"  stroke="#505050" stroke-width="0.05">ENSMUSG00000103231</text>
<text transform="translate(189.1,407.59512195121954) rotate(0.05) scale(0.88,1)" font-size="4.6" text-anchor="start" fill="#505050"  stroke="#505050" stroke-width="0.05">Gm27355</text>
<text transform="translate(189.1,410.9073170731707) rotate(0.05) scale(0.88,1)" font-size="4.6" text-anchor="start" fill="#505050"  stroke="#505050" stroke-width="0.05">Gm29289</text>
<text transform="translate(189.1,414.219512195122) rotate(0.05) scale(0.78,1)" font-size="4.6" text-anchor="start" fill="#505050"  stroke="#505050" stroke-width="0.05">ENSMUSG00000103589</text>
<text transform="translate(189.1,417.53170731707314) rotate(0.05) scale(0.88,1)" font-size="4.6" text-anchor="start" fill="#505050"  stroke="#505050" stroke-width="0.05">Gm23912</text>
<text transform="translate(189.1,420.8439024390244) rotate(0.05) scale(0.88,1)" font-size="4.6" text-anchor="start" fill="#505050"  stroke="#505050" stroke-width="0.05">Gm28130</text>
<defs><linearGradient id="cbar" x1="0" x2="1" y1="0" y2="0"><stop offset="0.000" stop-color="#4b5088"/><stop offset="0.116" stop-color="#4b528c"/><stop offset="0.233" stop-color="#4b5491"/><stop offset="0.349" stop-color="#4c5696"/><stop offset="0.407" stop-color="#717db6"/><stop offset="0.465" stop-color="#96a5d7"/><stop offset="0.506" stop-color="#c5cce7"/><stop offset="0.547" stop-color="#f5f5f8"/><stop offset="0.593" stop-color="#eccac5"/><stop offset="0.651" stop-color="#e19687"/><stop offset="0.709" stop-color="#d47060"/><stop offset="0.767" stop-color="#c84b3a"/><stop offset="0.872" stop-color="#bd4033"/><stop offset="1.000" stop-color="#b0342c"/></linearGradient></defs>
<rect x="75.5" y="426.3" width="66.8" height="5.2" fill="url(#cbar)" stroke="none" stroke-width="0.5" />
<line x1="75.2" y1="431.7" x2="142.5" y2="431.7" stroke="#111" stroke-width="0.7" />
<line x1="75.5" y1="431.7" x2="75.5" y2="433.4" stroke="#111" stroke-width="0.6" />
<text transform="translate(75.5,443.5) rotate(0.04) scale(0.9,1)" font-size="6.3" text-anchor="middle" fill="#151515"  stroke="#151515" stroke-width="0.09">0</text>
<line x1="91.0" y1="431.7" x2="91.0" y2="433.4" stroke="#111" stroke-width="0.6" />
<text transform="translate(91.0,443.5) rotate(0.04) scale(0.9,1)" font-size="6.3" text-anchor="middle" fill="#151515"  stroke="#151515" stroke-width="0.09">2</text>
<line x1="106.5" y1="431.7" x2="106.5" y2="433.4" stroke="#111" stroke-width="0.6" />
<text transform="translate(106.5,443.5) rotate(0.04) scale(0.9,1)" font-size="6.3" text-anchor="middle" fill="#151515"  stroke="#151515" stroke-width="0.09">4</text>
<line x1="122.0" y1="431.7" x2="122.0" y2="433.4" stroke="#111" stroke-width="0.6" />
<text transform="translate(122.0,443.5) rotate(0.04) scale(0.9,1)" font-size="6.3" text-anchor="middle" fill="#151515"  stroke="#151515" stroke-width="0.09">6</text>
<line x1="137.5" y1="431.7" x2="137.5" y2="433.4" stroke="#111" stroke-width="0.6" />
<text transform="translate(137.5,443.5) rotate(0.04) scale(0.9,1)" font-size="6.3" text-anchor="middle" fill="#151515"  stroke="#151515" stroke-width="0.09">8</text>
<text transform="translate(52.2,454) rotate(0.04) scale(1,1)" font-size="9.6" text-anchor="start" fill="#151515"  stroke="#151515" stroke-width="0.02" textLength="113.5" lengthAdjust="spacingAndGlyphs">Transcripts per million, log<tspan font-size="6" dy="2">2</tspan><tspan dy="-2"> + 1</tspan></text>
<text transform="translate(258.33,267.2) rotate(0.04) scale(0.92,1)" font-size="11.5" text-anchor="start" fill="#111"  stroke="#111" stroke-width="0">G</text>
<line x1="299" y1="273.4" x2="299" y2="412.7" stroke="#111" stroke-width="0.9" />
<line x1="298.6" y1="412.3" x2="374.6" y2="412.3" stroke="#111" stroke-width="0.9" />
<line x1="296" y1="406.0" x2="299" y2="406.0" stroke="#111" stroke-width="0.7" />
<text transform="translate(293,408.3) rotate(0.04) scale(0.9,1)" font-size="6.4" text-anchor="end" fill="#151515"  stroke="#151515" stroke-width="0.09">0</text>
<line x1="296" y1="377.7" x2="299" y2="377.7" stroke="#111" stroke-width="0.7" />
<text transform="translate(293,380.0) rotate(0.04) scale(0.9,1)" font-size="6.4" text-anchor="end" fill="#151515"  stroke="#151515" stroke-width="0.09">10</text>
<line x1="296" y1="349.4" x2="299" y2="349.4" stroke="#111" stroke-width="0.7" />
<text transform="translate(293,351.7) rotate(0.04) scale(0.9,1)" font-size="6.4" text-anchor="end" fill="#151515"  stroke="#151515" stroke-width="0.09">20</text>
<line x1="296" y1="321.1" x2="299" y2="321.1" stroke="#111" stroke-width="0.7" />
<text transform="translate(293,323.40000000000003) rotate(0.04) scale(0.9,1)" font-size="6.4" text-anchor="end" fill="#151515"  stroke="#151515" stroke-width="0.09">30</text>
<line x1="296" y1="292.8" x2="299" y2="292.8" stroke="#111" stroke-width="0.7" />
<text transform="translate(293,295.1) rotate(0.04) scale(0.9,1)" font-size="6.4" text-anchor="end" fill="#151515"  stroke="#151515" stroke-width="0.09">40</text>
<line x1="313.5" y1="412.3" x2="313.5" y2="414.6" stroke="#111" stroke-width="0.7" />
<line x1="337.3" y1="412.3" x2="337.3" y2="414.6" stroke="#111" stroke-width="0.7" />
<line x1="360.7" y1="412.3" x2="360.7" y2="414.6" stroke="#111" stroke-width="0.7" />
<text transform="translate(279,388.6) rotate(-90) scale(1,1)" font-size="10.2" text-anchor="start" fill="#151515"  stroke="#151515" stroke-width="0.02" textLength="93.5" lengthAdjust="spacingAndGlyphs">Aggregrated tpm + 1, log<tspan font-size="6.4" dy="2">2</tspan></text>
<line x1="313.3" y1="310.063" x2="313.3" y2="406" stroke="#3f5f8a" stroke-width="0.55" />
<rect x="308.3" y="335.1" width="9.8" height="30.2" fill="#dbe2ee" stroke="#8f98a8" stroke-width="0.5" />
<g fill="#3c6496" opacity="0.95"><circle cx="311.4" cy="279.8" r="1.05"/><circle cx="316.3" cy="310.3" r="1.05"/><circle cx="316.3" cy="316.9" r="1.05"/><circle cx="310.4" cy="320.5" r="1.05"/><circle cx="310.6" cy="323.9" r="1.05"/><circle cx="315.5" cy="326.8" r="1.05"/><circle cx="314.9" cy="328.2" r="1.05"/><circle cx="314.4" cy="331.0" r="1.05"/><circle cx="312.0" cy="333.0" r="1.05"/><circle cx="314.0" cy="334.7" r="1.05"/><circle cx="314.0" cy="336.4" r="1.05"/><circle cx="313.8" cy="338.1" r="1.05"/><circle cx="311.0" cy="339.8" r="1.05"/><circle cx="312.8" cy="340.9" r="1.05"/><circle cx="312.6" cy="342.0" r="1.05"/><circle cx="314.8" cy="343.2" r="1.05"/><circle cx="316.6" cy="344.3" r="1.05"/><circle cx="316.3" cy="345.4" r="1.05"/><circle cx="313.6" cy="346.6" r="1.05"/><circle cx="312.9" cy="347.7" r="1.05"/><circle cx="311.8" cy="348.8" r="1.05"/><circle cx="310.2" cy="350.0" r="1.05"/><circle cx="310.2" cy="351.7" r="1.05"/><circle cx="313.1" cy="353.6" r="1.05"/><circle cx="312.1" cy="355.1" r="1.05"/><circle cx="312.5" cy="357.3" r="1.05"/><circle cx="315.9" cy="359.6" r="1.05"/><circle cx="313.5" cy="361.3" r="1.05"/><circle cx="313.7" cy="363.6" r="1.05"/><circle cx="311.6" cy="365.8" r="1.05"/><circle cx="310.2" cy="369.8" r="1.05"/><circle cx="312.1" cy="374.3" r="1.05"/><circle cx="310.9" cy="376.6" r="1.05"/><circle cx="313.4" cy="378.8" r="1.05"/><circle cx="316.6" cy="380.5" r="1.05"/><circle cx="314.5" cy="384.5" r="1.05"/><circle cx="311.2" cy="388.5" r="1.05"/><circle cx="315.9" cy="392.4" r="1.05"/><circle cx="315.3" cy="396.4" r="1.05"/><circle cx="314.8" cy="405.7" r="1.05"/><circle cx="316.0" cy="405.7" r="1.05"/></g>
<line x1="307.8" y1="345.8" x2="318.5" y2="345.8" stroke="#111" stroke-width="1.3" />
<circle cx="333.9" cy="405.5" r="1.1" fill="#c9923c"/><circle cx="335.1" cy="404.2" r="1.1" fill="#c9923c"/><circle cx="335.0" cy="404.2" r="1.1" fill="#c9923c"/><circle cx="333.7" cy="403.2" r="1.1" fill="#c9923c"/><circle cx="332.3" cy="403.7" r="1.1" fill="#c9923c"/><circle cx="334.8" cy="405.6" r="1.1" fill="#c9923c"/><circle cx="332.5" cy="405.1" r="1.1" fill="#c9923c"/><circle cx="334.6" cy="404.4" r="1.1" fill="#c9923c"/><circle cx="334.7" cy="403.5" r="1.1" fill="#c9923c"/><circle cx="343.6" cy="405.5" r="1.1" fill="#6b6b6b"/><circle cx="342.6" cy="404.8" r="1.1" fill="#6b6b6b"/><circle cx="340.6" cy="405.9" r="1.1" fill="#6b6b6b"/><circle cx="342.5" cy="404.1" r="1.1" fill="#6b6b6b"/><circle cx="340.3" cy="402.8" r="1.1" fill="#6b6b6b"/><circle cx="343.6" cy="404.4" r="1.1" fill="#6b6b6b"/><circle cx="342.5" cy="402.0" r="1.1" fill="#6b6b6b"/><circle cx="341.5" cy="403.6" r="1.1" fill="#6b6b6b"/><circle cx="341.9" cy="405.7" r="1.1" fill="#6b6b6b"/>
<line x1="328.5" y1="406" x2="345.70000000000005" y2="406" stroke="#111" stroke-width="1.2" />
<circle cx="355.2" cy="405.4" r="1.1" fill="#c9923c"/><circle cx="358.5" cy="403.7" r="1.1" fill="#c9923c"/><circle cx="356.9" cy="402.7" r="1.1" fill="#c9923c"/><circle cx="357.4" cy="404.3" r="1.1" fill="#c9923c"/><circle cx="358.4" cy="404.8" r="1.1" fill="#c9923c"/><circle cx="353.8" cy="402.9" r="1.1" fill="#c9923c"/><circle cx="357.0" cy="405.8" r="1.1" fill="#c9923c"/><circle cx="358.2" cy="404.6" r="1.1" fill="#c9923c"/><circle cx="354.1" cy="402.2" r="1.1" fill="#c9923c"/><circle cx="363.9" cy="405.5" r="1.1" fill="#6b6b6b"/><circle cx="363.8" cy="404.7" r="1.1" fill="#6b6b6b"/><circle cx="366.3" cy="404.8" r="1.1" fill="#6b6b6b"/><circle cx="362.9" cy="405.3" r="1.1" fill="#6b6b6b"/><circle cx="366.1" cy="405.2" r="1.1" fill="#6b6b6b"/><circle cx="363.1" cy="405.6" r="1.1" fill="#6b6b6b"/><circle cx="366.3" cy="405.9" r="1.1" fill="#6b6b6b"/><circle cx="362.8" cy="405.9" r="1.1" fill="#6b6b6b"/><circle cx="363.5" cy="402.9" r="1.1" fill="#6b6b6b"/>
<line x1="352.2" y1="406" x2="369.40000000000003" y2="406" stroke="#111" stroke-width="1.2" />
<circle cx="331.8" cy="401.472" r="1.1" fill="#c9923c"/><circle cx="339.8" cy="399.774" r="1.1" fill="#6b6b6b"/>
<circle cx="355" cy="401.189" r="1.1" fill="#c9923c"/><circle cx="364.5" cy="401.755" r="1.1" fill="#6b6b6b"/>
<circle cx="333.7" cy="284.1" r="1.1" fill="#3c6496"/>
<text transform="translate(337.9,286.20000000000005) rotate(0.04) scale(0.95,1)" font-size="6.2" text-anchor="start" fill="#333"  stroke="#333" stroke-width="0.09">RM1</text>
<circle cx="333.7" cy="290.3" r="1.1" fill="#c9923c"/>
<text transform="translate(337.9,292.40000000000003) rotate(0.04) scale(0.95,1)" font-size="6.2" text-anchor="start" fill="#333"  stroke="#333" stroke-width="0.09">Dormant</text>
<circle cx="333.7" cy="296.4" r="1.1" fill="#6b6b6b"/>
<text transform="translate(337.9,298.5) rotate(0.04) scale(0.95,1)" font-size="6.2" text-anchor="start" fill="#333"  stroke="#333" stroke-width="0.09">Reactivated</text>
<text transform="translate(313.2,424.2) rotate(0.04) scale(0.95,1)" font-size="6.3" text-anchor="middle" fill="#151515"  stroke="#151515" stroke-width="0.09">RM1</text>
<text transform="translate(337.3,424.2) rotate(0.04) scale(0.95,1)" font-size="6.3" text-anchor="middle" fill="#151515"  stroke="#151515" stroke-width="0.09">Male</text>
<text transform="translate(360.7,424.2) rotate(0.04) scale(0.95,1)" font-size="6.3" text-anchor="middle" fill="#151515"  stroke="#151515" stroke-width="0.09">Female</text>
<line x1="327.8" y1="428.9" x2="370" y2="428.9" stroke="#111" stroke-width="0.7" />
<text transform="translate(347.2,437) rotate(0.04) scale(0.9,1)" font-size="6.2" text-anchor="middle" fill="#151515"  stroke="#151515" stroke-width="0.09">5TGM1</text>
<text transform="translate(384.26,267) rotate(0.04) scale(1.03,1)" font-size="11.5" text-anchor="start" fill="#111"  stroke="#111" stroke-width="0">H</text>
<rect x="426.5" y="273.7" width="60.19999999999999" height="28.4" fill="#fff" stroke="#2a2a2a" stroke-width="1" shape-rendering="crispEdges"/>
<rect x="487.7" y="273.7" width="24.599999999999966" height="28.4" fill="#e2dede" stroke="#2a2a2a" stroke-width="1" shape-rendering="crispEdges"/>
<text transform="translate(499.6,290.0) rotate(0.04) scale(0.93,1)" font-size="6.2" text-anchor="middle" fill="#151515"  stroke="#151515" stroke-width="0.09">Eif2s3y</text>
<line x1="423.3" y1="301.09999999999997" x2="426.5" y2="301.09999999999997" stroke="#222" stroke-width="0.7" />
<text transform="translate(422.0,303.4) rotate(0.04) scale(0.9,1)" font-size="6.4" text-anchor="end" fill="#151515"  stroke="#151515" stroke-width="0.09">0.0</text>
<line x1="423.3" y1="293.4" x2="426.5" y2="293.4" stroke="#222" stroke-width="0.7" />
<text transform="translate(422.0,295.7) rotate(0.04) scale(0.9,1)" font-size="6.4" text-anchor="end" fill="#151515"  stroke="#151515" stroke-width="0.09">2.5</text>
<line x1="423.3" y1="285.7" x2="426.5" y2="285.7" stroke="#222" stroke-width="0.7" />
<text transform="translate(422.0,288.0) rotate(0.04) scale(0.9,1)" font-size="6.4" text-anchor="end" fill="#151515"  stroke="#151515" stroke-width="0.09">5.0</text>
<line x1="423.3" y1="277.99999999999994" x2="426.5" y2="277.99999999999994" stroke="#222" stroke-width="0.7" />
<text transform="translate(422.0,280.29999999999995) rotate(0.04) scale(0.9,1)" font-size="6.4" text-anchor="end" fill="#151515"  stroke="#151515" stroke-width="0.09">7.5</text>
<rect x="433.9" y="278.616" width="7.7" height="4.3119999999999985" fill="#ccd6e6" stroke="#8a94a6" stroke-width="0.4" />
<line x1="433.7" y1="280.772" x2="441.8" y2="280.772" stroke="#111" stroke-width="1.3" />
<g fill="#4674aa" stroke="#2f4f7a" stroke-width="0.25" opacity="0.95"><circle cx="436.7" cy="282.2" r="0.9"/><circle cx="439.1" cy="280.1" r="0.9"/><circle cx="436.3" cy="278.1" r="0.9"/><circle cx="439.5" cy="277.6" r="0.9"/><circle cx="439.4" cy="278.3" r="0.9"/><circle cx="435.7" cy="280.4" r="0.9"/><circle cx="437.1" cy="279.9" r="0.9"/><circle cx="437.7" cy="280.9" r="0.9"/><circle cx="435.5" cy="282.9" r="0.9"/><circle cx="437.4" cy="281.3" r="0.9"/><circle cx="439.6" cy="278.7" r="0.9"/><circle cx="435.9" cy="280.0" r="0.9"/><circle cx="438.1" cy="281.0" r="0.9"/><circle cx="436.0" cy="282.4" r="0.9"/><circle cx="438.1" cy="280.6" r="0.9"/><circle cx="439.5" cy="281.5" r="0.9"/><circle cx="436.3" cy="280.4" r="0.9"/><circle cx="435.4" cy="279.6" r="0.9"/><circle cx="435.8" cy="284.7" r="0.9"/><circle cx="437.9" cy="280.6" r="0.9"/><circle cx="435.5" cy="283.2" r="0.9"/><circle cx="435.8" cy="282.2" r="0.9"/><circle cx="437.7" cy="282.7" r="0.9"/><circle cx="439.6" cy="278.4" r="0.9"/><circle cx="437.3" cy="279.2" r="0.9"/><circle cx="437.2" cy="279.5" r="0.9"/><circle cx="438.3" cy="281.8" r="0.9"/><circle cx="435.8" cy="283.1" r="0.9"/><circle cx="438.1" cy="281.2" r="0.9"/><circle cx="436.2" cy="280.1" r="0.9"/><circle cx="438.2" cy="280.6" r="0.9"/><circle cx="439.8" cy="279.2" r="0.9"/><circle cx="435.6" cy="286.9" r="0.9"/><circle cx="438.0" cy="291.6" r="0.9"/><circle cx="438.2" cy="294.0" r="0.9"/><circle cx="436.1" cy="286.0" r="0.9"/><circle cx="436.6" cy="301.1" r="0.9"/><circle cx="440.0" cy="301.1" r="0.9"/><circle cx="440.0" cy="301.1" r="0.9"/><circle cx="436.0" cy="301.1" r="0.9"/><circle cx="438.6" cy="301.1" r="0.9"/></g>
<line x1="448.70000000000005" y1="301.29999999999995" x2="463.90000000000003" y2="301.29999999999995" stroke="#111" stroke-width="1.5" />
<rect x="449.90000000000003" y="299.99999999999994" width="5.8" height="1.3" fill="#d89a35" stroke="none" stroke-width="0.5" />
<rect x="457.70000000000005" y="299.99999999999994" width="5.2" height="1.3" fill="#7a7a7a" stroke="none" stroke-width="0.5" />
<line x1="468.1" y1="301.29999999999995" x2="483.3" y2="301.29999999999995" stroke="#111" stroke-width="1.5" />
<rect x="469.3" y="299.99999999999994" width="5.8" height="1.3" fill="#d89a35" stroke="none" stroke-width="0.5" />
<rect x="477.1" y="299.99999999999994" width="5.2" height="1.3" fill="#7a7a7a" stroke="none" stroke-width="0.5" />
<rect x="426.5" y="304.4" width="60.19999999999999" height="28.4" fill="#fff" stroke="#2a2a2a" stroke-width="1" shape-rendering="crispEdges"/>
<rect x="487.7" y="304.4" width="24.599999999999966" height="28.4" fill="#e2dede" stroke="#2a2a2a" stroke-width="1" shape-rendering="crispEdges"/>
<text transform="translate(499.6,320.7) rotate(0.04) scale(0.93,1)" font-size="6.2" text-anchor="middle" fill="#151515"  stroke="#151515" stroke-width="0.09">Erdr1</text>
<line x1="423.3" y1="331.79999999999995" x2="426.5" y2="331.79999999999995" stroke="#222" stroke-width="0.7" />
<text transform="translate(422.0,334.09999999999997) rotate(0.04) scale(0.9,1)" font-size="6.4" text-anchor="end" fill="#151515"  stroke="#151515" stroke-width="0.09">0.0</text>
<line x1="423.3" y1="324.09999999999997" x2="426.5" y2="324.09999999999997" stroke="#222" stroke-width="0.7" />
<text transform="translate(422.0,326.4) rotate(0.04) scale(0.9,1)" font-size="6.4" text-anchor="end" fill="#151515"  stroke="#151515" stroke-width="0.09">2.5</text>
<line x1="423.3" y1="316.4" x2="426.5" y2="316.4" stroke="#222" stroke-width="0.7" />
<text transform="translate(422.0,318.7) rotate(0.04) scale(0.9,1)" font-size="6.4" text-anchor="end" fill="#151515"  stroke="#151515" stroke-width="0.09">5.0</text>
<line x1="423.3" y1="308.69999999999993" x2="426.5" y2="308.69999999999993" stroke="#222" stroke-width="0.7" />
<text transform="translate(422.0,310.99999999999994) rotate(0.04) scale(0.9,1)" font-size="6.4" text-anchor="end" fill="#151515"  stroke="#151515" stroke-width="0.09">7.5</text>
<rect x="433.9" y="311.78" width="7.7" height="9.24" fill="#ccd6e6" stroke="#8a94a6" stroke-width="0.4" />
<line x1="433.7" y1="316.4" x2="441.8" y2="316.4" stroke="#111" stroke-width="1.3" />
<g fill="#4674aa" stroke="#2f4f7a" stroke-width="0.25" opacity="0.95"><circle cx="436.6" cy="313.6" r="0.9"/><circle cx="435.6" cy="317.3" r="0.9"/><circle cx="439.9" cy="317.3" r="0.9"/><circle cx="436.2" cy="317.2" r="0.9"/><circle cx="439.8" cy="320.4" r="0.9"/><circle cx="439.9" cy="311.9" r="0.9"/><circle cx="438.2" cy="322.2" r="0.9"/><circle cx="435.5" cy="320.1" r="0.9"/><circle cx="435.7" cy="313.2" r="0.9"/><circle cx="436.4" cy="314.5" r="0.9"/><circle cx="437.2" cy="312.9" r="0.9"/><circle cx="438.2" cy="320.4" r="0.9"/><circle cx="439.8" cy="320.3" r="0.9"/><circle cx="437.0" cy="315.2" r="0.9"/><circle cx="436.0" cy="311.2" r="0.9"/><circle cx="438.0" cy="316.9" r="0.9"/><circle cx="436.0" cy="309.3" r="0.9"/><circle cx="435.8" cy="315.6" r="0.9"/><circle cx="438.0" cy="318.4" r="0.9"/><circle cx="438.6" cy="312.6" r="0.9"/><circle cx="435.7" cy="315.4" r="0.9"/><circle cx="437.5" cy="312.2" r="0.9"/><circle cx="438.6" cy="317.2" r="0.9"/><circle cx="438.9" cy="314.9" r="0.9"/><circle cx="437.2" cy="317.7" r="0.9"/><circle cx="439.5" cy="317.8" r="0.9"/><circle cx="436.2" cy="316.2" r="0.9"/><circle cx="438.7" cy="317.3" r="0.9"/><circle cx="438.9" cy="315.0" r="0.9"/><circle cx="439.4" cy="323.5" r="0.9"/><circle cx="437.7" cy="322.7" r="0.9"/><circle cx="435.9" cy="316.3" r="0.9"/><circle cx="435.6" cy="316.3" r="0.9"/><circle cx="437.8" cy="309.9" r="0.9"/><circle cx="436.2" cy="327.9" r="0.9"/><circle cx="438.3" cy="329.7" r="0.9"/><circle cx="435.8" cy="322.9" r="0.9"/><circle cx="439.0" cy="328.1" r="0.9"/><circle cx="436.4" cy="328.4" r="0.9"/><circle cx="435.5" cy="323.9" r="0.9"/><circle cx="436.2" cy="328.4" r="0.9"/><circle cx="437.5" cy="325.6" r="0.9"/><circle cx="438.0" cy="330.2" r="0.9"/><circle cx="437.2" cy="324.0" r="0.9"/><circle cx="436.2" cy="331.8" r="0.9"/><circle cx="437.6" cy="331.8" r="0.9"/><circle cx="439.8" cy="331.8" r="0.9"/><circle cx="437.9" cy="331.8" r="0.9"/></g>
<line x1="448.70000000000005" y1="331.99999999999994" x2="463.90000000000003" y2="331.99999999999994" stroke="#111" stroke-width="1.5" />
<rect x="449.90000000000003" y="330.69999999999993" width="5.8" height="1.3" fill="#d89a35" stroke="none" stroke-width="0.5" />
<rect x="457.70000000000005" y="330.69999999999993" width="5.2" height="1.3" fill="#7a7a7a" stroke="none" stroke-width="0.5" />
<line x1="468.1" y1="331.99999999999994" x2="483.3" y2="331.99999999999994" stroke="#111" stroke-width="1.5" />
<rect x="469.3" y="330.69999999999993" width="5.8" height="1.3" fill="#d89a35" stroke="none" stroke-width="0.5" />
<rect x="477.1" y="330.69999999999993" width="5.2" height="1.3" fill="#7a7a7a" stroke="none" stroke-width="0.5" />
<rect x="426.5" y="335.09999999999997" width="60.19999999999999" height="28.4" fill="#fff" stroke="#2a2a2a" stroke-width="1" shape-rendering="crispEdges"/>
<rect x="487.7" y="335.09999999999997" width="24.599999999999966" height="28.4" fill="#e2dede" stroke="#2a2a2a" stroke-width="1" shape-rendering="crispEdges"/>
<text transform="translate(499.6,351.4) rotate(0.04) scale(0.93,1)" font-size="6.2" text-anchor="middle" fill="#151515"  stroke="#151515" stroke-width="0.09">Ddx3y</text>
<line x1="423.3" y1="362.49999999999994" x2="426.5" y2="362.49999999999994" stroke="#222" stroke-width="0.7" />
<text transform="translate(422.0,364.79999999999995) rotate(0.04) scale(0.9,1)" font-size="6.4" text-anchor="end" fill="#151515"  stroke="#151515" stroke-width="0.09">0.0</text>
<line x1="423.3" y1="354.79999999999995" x2="426.5" y2="354.79999999999995" stroke="#222" stroke-width="0.7" />
<text transform="translate(422.0,357.09999999999997) rotate(0.04) scale(0.9,1)" font-size="6.4" text-anchor="end" fill="#151515"  stroke="#151515" stroke-width="0.09">2.5</text>
<line x1="423.3" y1="347.09999999999997" x2="426.5" y2="347.09999999999997" stroke="#222" stroke-width="0.7" />
<text transform="translate(422.0,349.4) rotate(0.04) scale(0.9,1)" font-size="6.4" text-anchor="end" fill="#151515"  stroke="#151515" stroke-width="0.09">5.0</text>
<line x1="423.3" y1="339.3999999999999" x2="426.5" y2="339.3999999999999" stroke="#222" stroke-width="0.7" />
<text transform="translate(422.0,341.69999999999993) rotate(0.04) scale(0.9,1)" font-size="6.4" text-anchor="end" fill="#151515"  stroke="#151515" stroke-width="0.09">7.5</text>
<rect x="433.9" y="342.17199999999997" width="7.7" height="11.703999999999999" fill="#ccd6e6" stroke="#8a94a6" stroke-width="0.4" />
<line x1="433.7" y1="346.4839999999999" x2="441.8" y2="346.4839999999999" stroke="#111" stroke-width="1.3" />
<g fill="#4674aa" stroke="#2f4f7a" stroke-width="0.25" opacity="0.95"><circle cx="439.0" cy="345.2" r="0.9"/><circle cx="436.9" cy="346.1" r="0.9"/><circle cx="439.0" cy="339.4" r="0.9"/><circle cx="435.4" cy="346.1" r="0.9"/><circle cx="439.8" cy="349.5" r="0.9"/><circle cx="438.1" cy="346.9" r="0.9"/><circle cx="439.9" cy="352.4" r="0.9"/><circle cx="439.9" cy="347.4" r="0.9"/><circle cx="439.2" cy="341.8" r="0.9"/><circle cx="435.9" cy="344.1" r="0.9"/><circle cx="437.0" cy="348.4" r="0.9"/><circle cx="436.5" cy="346.5" r="0.9"/><circle cx="439.0" cy="346.6" r="0.9"/><circle cx="436.3" cy="350.7" r="0.9"/><circle cx="436.4" cy="342.1" r="0.9"/><circle cx="435.9" cy="343.0" r="0.9"/><circle cx="436.0" cy="349.3" r="0.9"/><circle cx="439.7" cy="344.8" r="0.9"/><circle cx="439.9" cy="346.5" r="0.9"/><circle cx="437.1" cy="346.6" r="0.9"/><circle cx="438.8" cy="348.2" r="0.9"/><circle cx="437.6" cy="347.7" r="0.9"/><circle cx="437.8" cy="344.3" r="0.9"/><circle cx="437.1" cy="347.4" r="0.9"/><circle cx="438.3" cy="343.7" r="0.9"/><circle cx="436.5" cy="350.3" r="0.9"/><circle cx="436.6" cy="350.3" r="0.9"/><circle cx="437.8" cy="350.3" r="0.9"/><circle cx="436.3" cy="341.8" r="0.9"/><circle cx="437.4" cy="344.9" r="0.9"/><circle cx="439.7" cy="349.4" r="0.9"/><circle cx="435.5" cy="348.9" r="0.9"/><circle cx="435.9" cy="357.5" r="0.9"/><circle cx="439.1" cy="361.7" r="0.9"/><circle cx="435.7" cy="360.2" r="0.9"/><circle cx="436.6" cy="355.0" r="0.9"/><circle cx="439.3" cy="360.3" r="0.9"/><circle cx="438.2" cy="361.7" r="0.9"/><circle cx="436.4" cy="358.1" r="0.9"/><circle cx="435.7" cy="356.7" r="0.9"/><circle cx="436.7" cy="355.9" r="0.9"/><circle cx="436.8" cy="362.2" r="0.9"/><circle cx="439.1" cy="362.5" r="0.9"/><circle cx="439.9" cy="362.5" r="0.9"/><circle cx="439.0" cy="362.5" r="0.9"/><circle cx="439.5" cy="362.5" r="0.9"/><circle cx="439.7" cy="362.5" r="0.9"/></g>
<line x1="448.70000000000005" y1="362.69999999999993" x2="463.90000000000003" y2="362.69999999999993" stroke="#111" stroke-width="1.5" />
<rect x="449.90000000000003" y="361.3999999999999" width="5.8" height="1.3" fill="#d89a35" stroke="none" stroke-width="0.5" />
<rect x="457.70000000000005" y="361.3999999999999" width="5.2" height="1.3" fill="#7a7a7a" stroke="none" stroke-width="0.5" />
<line x1="468.1" y1="362.69999999999993" x2="483.3" y2="362.69999999999993" stroke="#111" stroke-width="1.5" />
<rect x="469.3" y="361.3999999999999" width="5.8" height="1.3" fill="#d89a35" stroke="none" stroke-width="0.5" />
<rect x="477.1" y="361.3999999999999" width="5.2" height="1.3" fill="#7a7a7a" stroke="none" stroke-width="0.5" />
<rect x="426.5" y="365.79999999999995" width="60.19999999999999" height="28.4" fill="#fff" stroke="#2a2a2a" stroke-width="1" shape-rendering="crispEdges"/>
<rect x="487.7" y="365.79999999999995" width="24.599999999999966" height="28.4" fill="#e2dede" stroke="#2a2a2a" stroke-width="1" shape-rendering="crispEdges"/>
<text transform="translate(499.6,382.09999999999997) rotate(0.04) scale(0.93,1)" font-size="6.2" text-anchor="middle" fill="#151515"  stroke="#151515" stroke-width="0.09">Uty</text>
<line x1="423.3" y1="393.19999999999993" x2="426.5" y2="393.19999999999993" stroke="#222" stroke-width="0.7" />
<text transform="translate(422.0,395.49999999999994) rotate(0.04) scale(0.9,1)" font-size="6.4" text-anchor="end" fill="#151515"  stroke="#151515" stroke-width="0.09">0.0</text>
<line x1="423.3" y1="385.49999999999994" x2="426.5" y2="385.49999999999994" stroke="#222" stroke-width="0.7" />
<text transform="translate(422.0,387.79999999999995) rotate(0.04) scale(0.9,1)" font-size="6.4" text-anchor="end" fill="#151515"  stroke="#151515" stroke-width="0.09">2.5</text>
<line x1="423.3" y1="377.79999999999995" x2="426.5" y2="377.79999999999995" stroke="#222" stroke-width="0.7" />
<text transform="translate(422.0,380.09999999999997) rotate(0.04) scale(0.9,1)" font-size="6.4" text-anchor="end" fill="#151515"  stroke="#151515" stroke-width="0.09">5.0</text>
<line x1="423.3" y1="370.0999999999999" x2="426.5" y2="370.0999999999999" stroke="#222" stroke-width="0.7" />
<text transform="translate(422.0,372.3999999999999) rotate(0.04) scale(0.9,1)" font-size="6.4" text-anchor="end" fill="#151515"  stroke="#151515" stroke-width="0.09">7.5</text>
<rect x="433.9" y="381.8039999999999" width="7.7" height="11.396" fill="#ccd6e6" stroke="#8a94a6" stroke-width="0.4" />
<line x1="433.7" y1="393.04599999999994" x2="441.8" y2="393.04599999999994" stroke="#111" stroke-width="1.3" />
<g fill="#4674aa" stroke="#2f4f7a" stroke-width="0.25" opacity="0.95"><circle cx="438.8" cy="372.1" r="0.9"/><circle cx="436.4" cy="371.1" r="0.9"/><circle cx="437.9" cy="370.0" r="0.9"/><circle cx="436.9" cy="390.9" r="0.9"/><circle cx="435.5" cy="385.6" r="0.9"/><circle cx="437.9" cy="387.3" r="0.9"/><circle cx="437.6" cy="378.7" r="0.9"/><circle cx="439.4" cy="381.4" r="0.9"/><circle cx="436.9" cy="384.9" r="0.9"/><circle cx="439.2" cy="373.1" r="0.9"/><circle cx="437.8" cy="383.6" r="0.9"/><circle cx="435.9" cy="388.2" r="0.9"/><circle cx="438.7" cy="386.6" r="0.9"/><circle cx="436.7" cy="382.1" r="0.9"/><circle cx="437.9" cy="378.5" r="0.9"/><circle cx="435.7" cy="379.5" r="0.9"/><circle cx="435.4" cy="382.6" r="0.9"/><circle cx="439.6" cy="388.7" r="0.9"/><circle cx="435.6" cy="383.5" r="0.9"/><circle cx="436.1" cy="385.4" r="0.9"/><circle cx="436.2" cy="389.1" r="0.9"/><circle cx="435.8" cy="380.1" r="0.9"/><circle cx="439.2" cy="378.7" r="0.9"/><circle cx="440.0" cy="375.5" r="0.9"/><circle cx="438.4" cy="382.0" r="0.9"/><circle cx="437.2" cy="382.6" r="0.9"/><circle cx="439.5" cy="383.2" r="0.9"/><circle cx="437.7" cy="383.3" r="0.9"/><circle cx="436.0" cy="385.7" r="0.9"/><circle cx="438.6" cy="379.2" r="0.9"/><circle cx="437.1" cy="380.3" r="0.9"/><circle cx="436.6" cy="388.5" r="0.9"/><circle cx="436.9" cy="393.2" r="0.9"/><circle cx="437.2" cy="393.2" r="0.9"/><circle cx="436.2" cy="393.2" r="0.9"/><circle cx="438.2" cy="393.2" r="0.9"/><circle cx="439.4" cy="393.2" r="0.9"/><circle cx="438.0" cy="393.2" r="0.9"/><circle cx="435.4" cy="393.2" r="0.9"/><circle cx="438.5" cy="393.2" r="0.9"/><circle cx="435.5" cy="393.2" r="0.9"/><circle cx="437.6" cy="393.2" r="0.9"/></g>
<line x1="448.70000000000005" y1="393.3999999999999" x2="463.90000000000003" y2="393.3999999999999" stroke="#111" stroke-width="1.5" />
<rect x="449.90000000000003" y="392.0999999999999" width="5.8" height="1.3" fill="#d89a35" stroke="none" stroke-width="0.5" />
<rect x="457.70000000000005" y="392.0999999999999" width="5.2" height="1.3" fill="#7a7a7a" stroke="none" stroke-width="0.5" />
<line x1="468.1" y1="393.3999999999999" x2="483.3" y2="393.3999999999999" stroke="#111" stroke-width="1.5" />
<rect x="469.3" y="392.0999999999999" width="5.8" height="1.3" fill="#d89a35" stroke="none" stroke-width="0.5" />
<rect x="477.1" y="392.0999999999999" width="5.2" height="1.3" fill="#7a7a7a" stroke="none" stroke-width="0.5" />
<rect x="426.5" y="396.5" width="60.19999999999999" height="28.4" fill="#fff" stroke="#2a2a2a" stroke-width="1" shape-rendering="crispEdges"/>
<rect x="487.7" y="396.5" width="24.599999999999966" height="28.4" fill="#e2dede" stroke="#2a2a2a" stroke-width="1" shape-rendering="crispEdges"/>
<text transform="translate(499.6,412.8) rotate(0.04) scale(0.93,1)" font-size="6.2" text-anchor="middle" fill="#151515"  stroke="#151515" stroke-width="0.09">Kdm5d</text>
<line x1="423.3" y1="423.9" x2="426.5" y2="423.9" stroke="#222" stroke-width="0.7" />
<text transform="translate(422.0,426.2) rotate(0.04) scale(0.9,1)" font-size="6.4" text-anchor="end" fill="#151515"  stroke="#151515" stroke-width="0.09">0.0</text>
<line x1="423.3" y1="416.2" x2="426.5" y2="416.2" stroke="#222" stroke-width="0.7" />
<text transform="translate(422.0,418.5) rotate(0.04) scale(0.9,1)" font-size="6.4" text-anchor="end" fill="#151515"  stroke="#151515" stroke-width="0.09">2.5</text>
<line x1="423.3" y1="408.5" x2="426.5" y2="408.5" stroke="#222" stroke-width="0.7" />
<text transform="translate(422.0,410.8) rotate(0.04) scale(0.9,1)" font-size="6.4" text-anchor="end" fill="#151515"  stroke="#151515" stroke-width="0.09">5.0</text>
<line x1="423.3" y1="400.79999999999995" x2="426.5" y2="400.79999999999995" stroke="#222" stroke-width="0.7" />
<text transform="translate(422.0,403.09999999999997) rotate(0.04) scale(0.9,1)" font-size="6.4" text-anchor="end" fill="#151515"  stroke="#151515" stroke-width="0.09">7.5</text>
<rect x="433.9" y="414.044" width="7.7" height="9.856000000000002" fill="#ccd6e6" stroke="#8a94a6" stroke-width="0.4" />
<line x1="433.7" y1="422.05199999999996" x2="441.8" y2="422.05199999999996" stroke="#111" stroke-width="1.3" />
<g fill="#4674aa" stroke="#2f4f7a" stroke-width="0.25" opacity="0.95"><circle cx="439.1" cy="412.5" r="0.9"/><circle cx="437.2" cy="422.3" r="0.9"/><circle cx="437.5" cy="410.6" r="0.9"/><circle cx="438.3" cy="421.3" r="0.9"/><circle cx="439.8" cy="417.5" r="0.9"/><circle cx="438.0" cy="414.6" r="0.9"/><circle cx="439.6" cy="423.8" r="0.9"/><circle cx="439.8" cy="415.0" r="0.9"/><circle cx="435.8" cy="416.7" r="0.9"/><circle cx="437.0" cy="413.0" r="0.9"/><circle cx="439.5" cy="417.2" r="0.9"/><circle cx="438.9" cy="421.4" r="0.9"/><circle cx="439.9" cy="421.8" r="0.9"/><circle cx="436.3" cy="420.6" r="0.9"/><circle cx="437.8" cy="416.2" r="0.9"/><circle cx="439.7" cy="417.6" r="0.9"/><circle cx="437.9" cy="414.0" r="0.9"/><circle cx="438.5" cy="409.7" r="0.9"/><circle cx="439.9" cy="418.1" r="0.9"/><circle cx="436.2" cy="418.9" r="0.9"/><circle cx="435.7" cy="415.0" r="0.9"/><circle cx="439.3" cy="414.7" r="0.9"/><circle cx="438.1" cy="421.1" r="0.9"/><circle cx="436.3" cy="419.8" r="0.9"/><circle cx="439.2" cy="416.5" r="0.9"/><circle cx="436.7" cy="414.1" r="0.9"/><circle cx="436.0" cy="419.0" r="0.9"/><circle cx="436.8" cy="421.6" r="0.9"/><circle cx="435.6" cy="407.3" r="0.9"/><circle cx="437.3" cy="416.6" r="0.9"/><circle cx="439.0" cy="410.4" r="0.9"/><circle cx="437.5" cy="420.0" r="0.9"/><circle cx="439.8" cy="418.8" r="0.9"/><circle cx="435.6" cy="417.1" r="0.9"/><circle cx="436.2" cy="423.9" r="0.9"/><circle cx="436.1" cy="423.9" r="0.9"/><circle cx="438.0" cy="423.9" r="0.9"/><circle cx="436.3" cy="423.9" r="0.9"/><circle cx="438.5" cy="423.9" r="0.9"/><circle cx="437.8" cy="423.9" r="0.9"/><circle cx="438.1" cy="423.9" r="0.9"/><circle cx="439.3" cy="423.9" r="0.9"/></g>
<line x1="448.70000000000005" y1="424.09999999999997" x2="463.90000000000003" y2="424.09999999999997" stroke="#111" stroke-width="1.5" />
<rect x="449.90000000000003" y="422.79999999999995" width="5.8" height="1.3" fill="#d89a35" stroke="none" stroke-width="0.5" />
<rect x="457.70000000000005" y="422.79999999999995" width="5.2" height="1.3" fill="#7a7a7a" stroke="none" stroke-width="0.5" />
<line x1="468.1" y1="424.09999999999997" x2="483.3" y2="424.09999999999997" stroke="#111" stroke-width="1.5" />
<rect x="469.3" y="422.79999999999995" width="5.8" height="1.3" fill="#d89a35" stroke="none" stroke-width="0.5" />
<rect x="477.1" y="422.79999999999995" width="5.2" height="1.3" fill="#7a7a7a" stroke="none" stroke-width="0.5" />
<circle cx="452.6" cy="328.412" r="0.9" fill="#c9923c"/><circle cx="458.5" cy="329.02799999999996" r="0.9" fill="#6b6b6b"/><circle cx="460" cy="330.5679999999999" r="0.9" fill="#6b6b6b"/>
<circle cx="472" cy="330.25999999999993" r="0.9" fill="#c9923c"/><circle cx="473.6" cy="329.33599999999996" r="0.9" fill="#c9923c"/><circle cx="479" cy="329.33599999999996" r="0.9" fill="#6b6b6b"/><circle cx="480.6" cy="328.412" r="0.9" fill="#6b6b6b"/>
<circle cx="473" cy="299.55999999999995" r="0.9" fill="#c9923c"/>
<line x1="437.7" y1="424.9" x2="437.7" y2="426.7" stroke="#222" stroke-width="0.6" />
<line x1="456.1" y1="424.9" x2="456.1" y2="426.7" stroke="#222" stroke-width="0.6" />
<line x1="475.5" y1="424.9" x2="475.5" y2="426.7" stroke="#222" stroke-width="0.6" />
<text transform="translate(437.4,437) rotate(0.04) scale(0.95,1)" font-size="6.3" text-anchor="middle" fill="#151515"  stroke="#151515" stroke-width="0.09">RM1</text>
<text transform="translate(456,437) rotate(0.04) scale(0.95,1)" font-size="6.3" text-anchor="middle" fill="#151515"  stroke="#151515" stroke-width="0.09">Male</text>
<text transform="translate(476.8,437.2) rotate(0.04) scale(0.95,1)" font-size="6.3" text-anchor="middle" fill="#151515"  stroke="#151515" stroke-width="0.09">Female</text>
<line x1="446.5" y1="440.4" x2="486.3" y2="440.4" stroke="#111" stroke-width="0.8" />
<text transform="translate(466,448.6) rotate(0.04) scale(0.88,1)" font-size="6.2" text-anchor="middle" fill="#151515"  stroke="#151515" stroke-width="0.09">5TGM1</text>
<text transform="translate(403.8,420.6) rotate(-90) scale(1,1)" font-size="10.2" text-anchor="start" fill="#151515"  stroke="#151515" stroke-width="0.02" textLength="132.5" lengthAdjust="spacingAndGlyphs">Transcripts per million (tpm), log<tspan font-size="6.4" dy="2">2</tspan></text><path d="M0,0 H520 V470 H0 Z M1.5,1.5 V468.2 H518.2 V1.5 Z" fill="#585858" fill-rule="evenodd"/></svg></body></html>
